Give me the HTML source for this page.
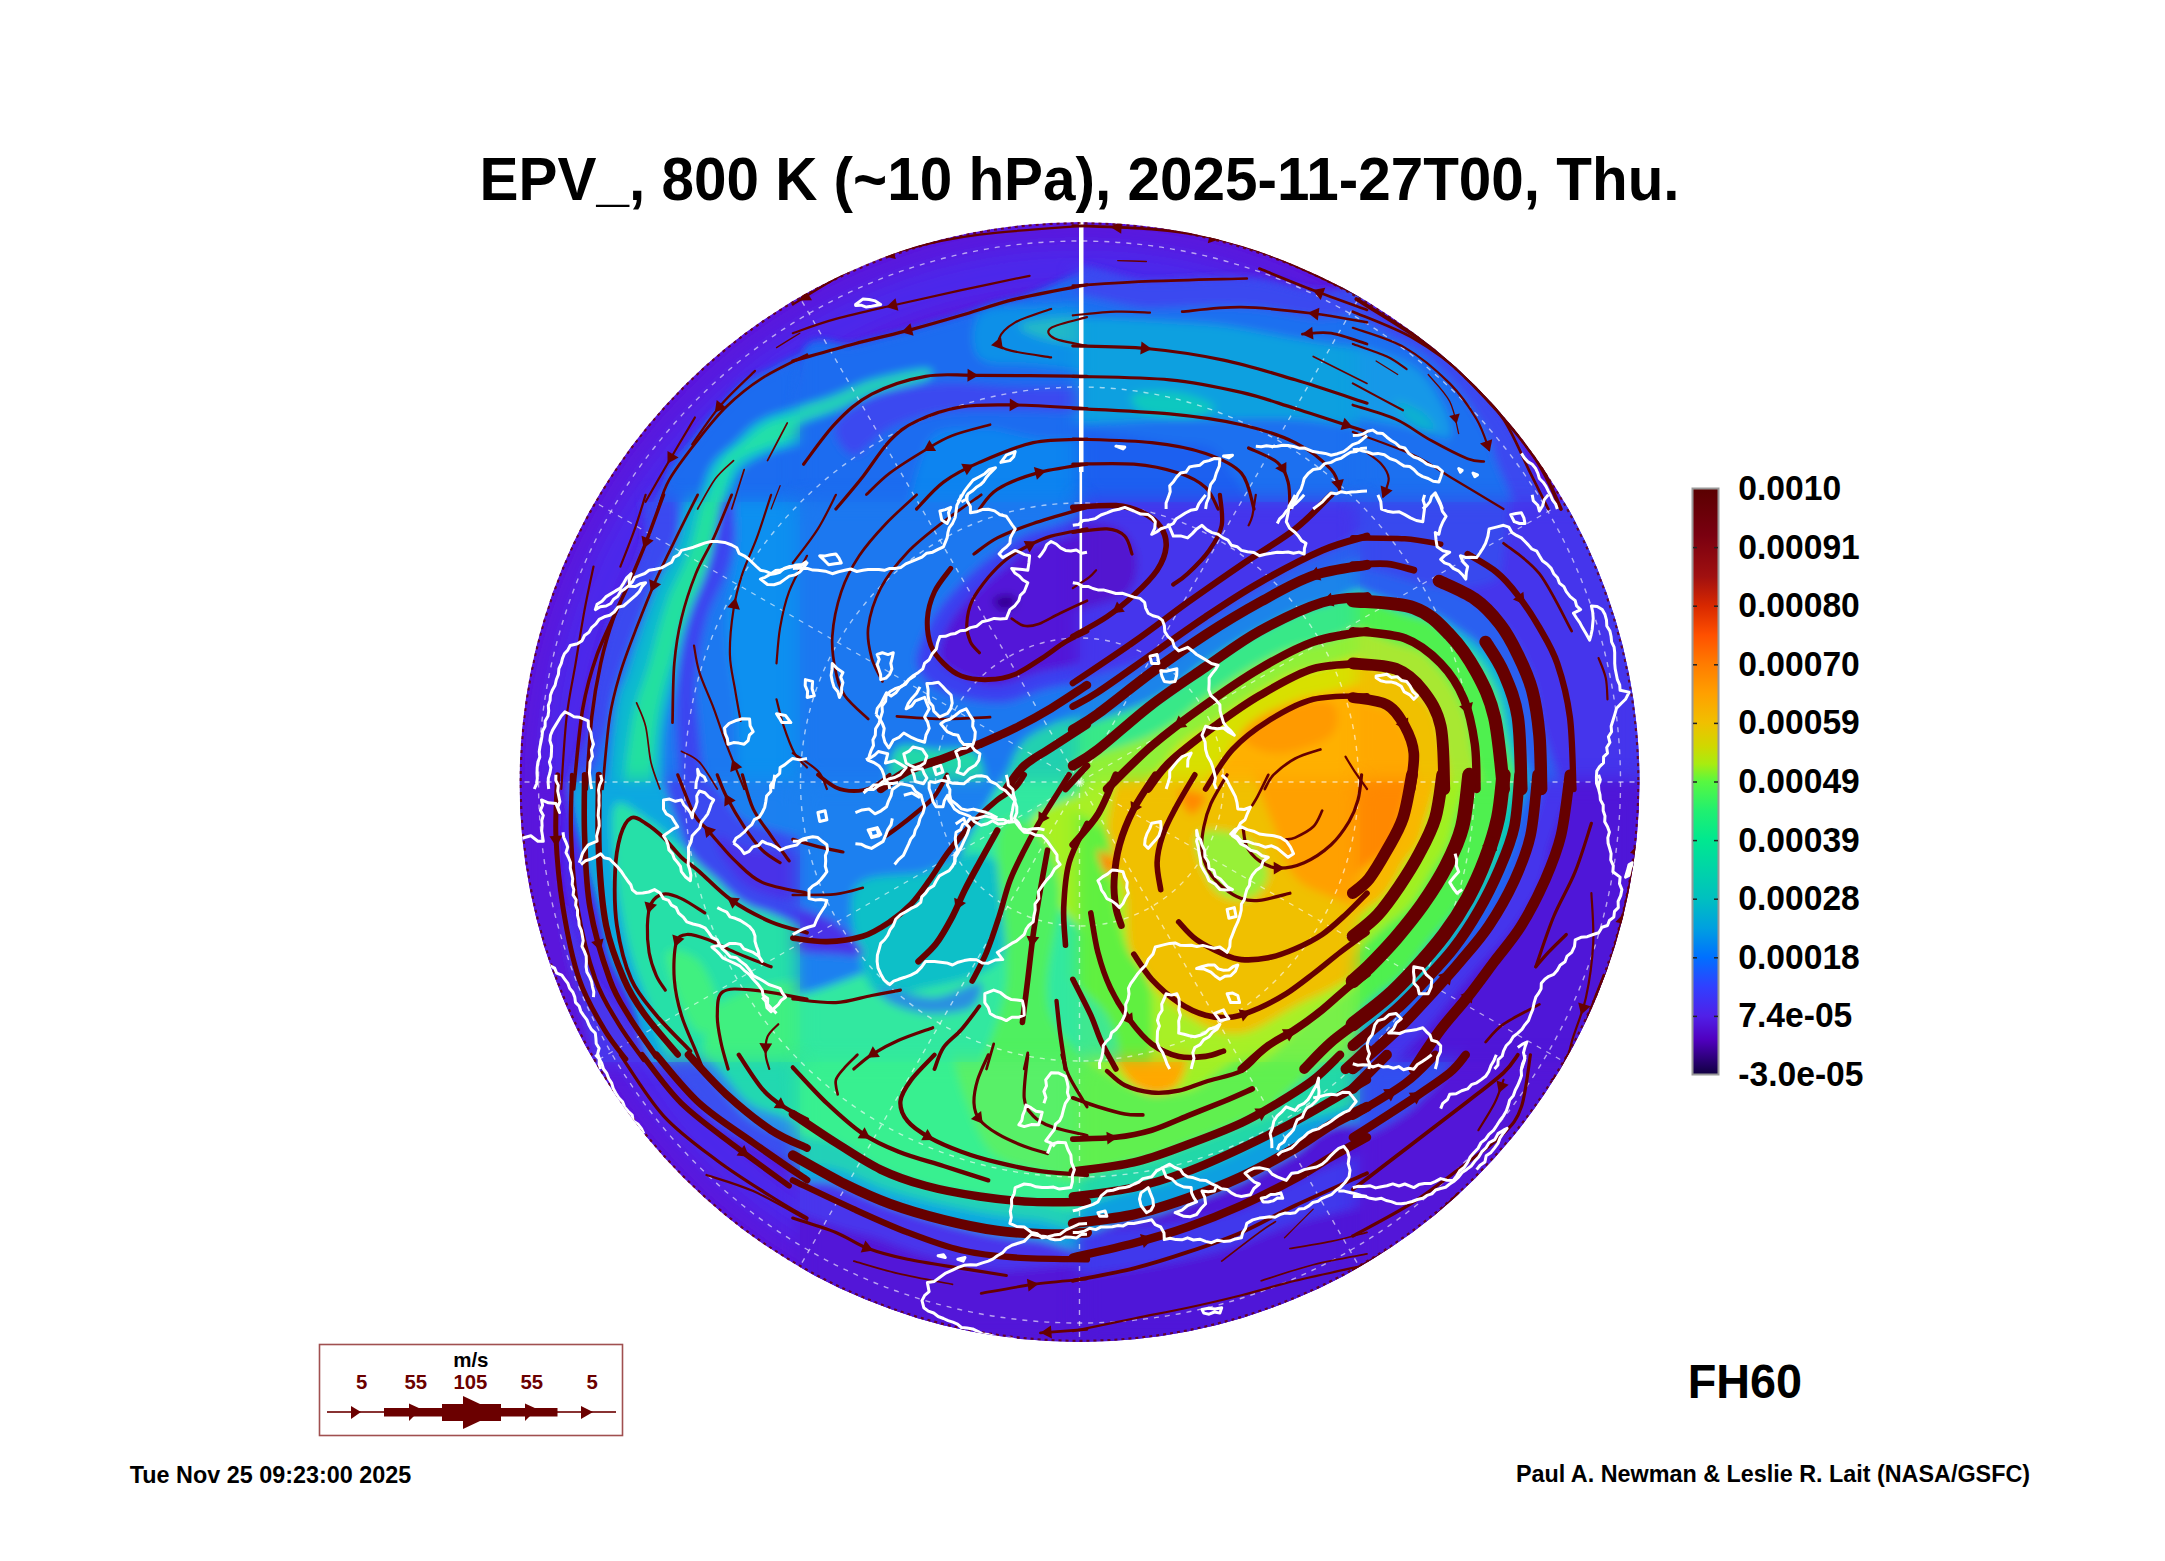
<!DOCTYPE html>
<html><head><meta charset="utf-8">
<style>
html,body{margin:0;padding:0;background:#fff;width:2165px;height:1561px;overflow:hidden;}
body{position:relative;font-family:"Liberation Sans",sans-serif;font-weight:bold;color:#000;}
.t{position:absolute;white-space:nowrap;line-height:1;}
#title{left:482px;top:147px;font-size:57px;}
.cb{position:absolute;left:1739px;font-size:32px;}
#fh{left:1687px;top:1356px;font-size:46px;}
#f1{left:129px;top:1462px;font-size:23.6px;}
#f2{left:1516px;top:1462px;font-size:23.6px;}
svg{position:absolute;left:0;top:0;}
</style></head><body>
<svg width="2165" height="1561" viewBox="0 0 2165 1561">
<defs>
<clipPath id="cc"><circle cx="1079.5" cy="782" r="560"/></clipPath>
<linearGradient id="cbg" x1="0" y1="0" x2="0" y2="1">
<stop offset="0" stop-color="#5a0000"/>
<stop offset="0.08" stop-color="#7a0010"/>
<stop offset="0.15" stop-color="#a01010"/>
<stop offset="0.2" stop-color="#d82800"/>
<stop offset="0.25" stop-color="#ff5000"/>
<stop offset="0.3" stop-color="#ff7c00"/>
<stop offset="0.35" stop-color="#ffa000"/>
<stop offset="0.4" stop-color="#f0c000"/>
<stop offset="0.44" stop-color="#d0d800"/>
<stop offset="0.47" stop-color="#a8ec10"/>
<stop offset="0.5" stop-color="#58f840"/>
<stop offset="0.55" stop-color="#20f070"/>
<stop offset="0.6" stop-color="#00e890"/>
<stop offset="0.7" stop-color="#00c0c0"/>
<stop offset="0.75" stop-color="#00a0e0"/>
<stop offset="0.8" stop-color="#0070ff"/>
<stop offset="0.85" stop-color="#3040ff"/>
<stop offset="0.9" stop-color="#5020e8"/>
<stop offset="0.94" stop-color="#5000c0"/>
<stop offset="0.97" stop-color="#300080"/>
<stop offset="1" stop-color="#100040"/>
</linearGradient>
<filter id="b8" x="-20%" y="-20%" width="140%" height="140%"><feGaussianBlur stdDeviation="8"/></filter>
<filter id="b15" x="-30%" y="-30%" width="160%" height="160%"><feGaussianBlur stdDeviation="15"/></filter>
<filter id="b4"><feGaussianBlur stdDeviation="4"/></filter>
</defs>
<g id="map" clip-path="url(#cc)">
<defs><clipPath id="cT00"><rect x="520" y="222" width="280" height="280"/></clipPath><mask id="mT00" maskUnits="userSpaceOnUse" x="460" y="162" width="400" height="400"><rect x="520" y="222" width="280" height="280" fill="#fff" filter="url(#b10)"/></mask><clipPath id="cT10"><rect x="800" y="222" width="280" height="280"/></clipPath><mask id="mT10" maskUnits="userSpaceOnUse" x="740" y="162" width="400" height="400"><rect x="800" y="222" width="280" height="280" fill="#fff" filter="url(#b10)"/></mask><clipPath id="cT20"><rect x="1080" y="222" width="280" height="280"/></clipPath><mask id="mT20" maskUnits="userSpaceOnUse" x="1020" y="162" width="400" height="400"><rect x="1080" y="222" width="280" height="280" fill="#fff" filter="url(#b10)"/></mask><clipPath id="cT30"><rect x="1360" y="222" width="280" height="280"/></clipPath><mask id="mT30" maskUnits="userSpaceOnUse" x="1300" y="162" width="400" height="400"><rect x="1360" y="222" width="280" height="280" fill="#fff" filter="url(#b10)"/></mask><clipPath id="cT01"><rect x="520" y="502" width="280" height="280"/></clipPath><mask id="mT01" maskUnits="userSpaceOnUse" x="460" y="442" width="400" height="400"><rect x="520" y="502" width="280" height="280" fill="#fff" filter="url(#b10)"/></mask><clipPath id="cT11"><rect x="800" y="502" width="280" height="280"/></clipPath><mask id="mT11" maskUnits="userSpaceOnUse" x="740" y="442" width="400" height="400"><rect x="800" y="502" width="280" height="280" fill="#fff" filter="url(#b10)"/></mask><clipPath id="cT21"><rect x="1080" y="502" width="280" height="280"/></clipPath><mask id="mT21" maskUnits="userSpaceOnUse" x="1020" y="442" width="400" height="400"><rect x="1080" y="502" width="280" height="280" fill="#fff" filter="url(#b10)"/></mask><clipPath id="cT31"><rect x="1360" y="502" width="280" height="280"/></clipPath><mask id="mT31" maskUnits="userSpaceOnUse" x="1300" y="442" width="400" height="400"><rect x="1360" y="502" width="280" height="280" fill="#fff" filter="url(#b10)"/></mask><clipPath id="cT02"><rect x="520" y="782" width="280" height="280"/></clipPath><mask id="mT02" maskUnits="userSpaceOnUse" x="460" y="722" width="400" height="400"><rect x="520" y="782" width="280" height="280" fill="#fff" filter="url(#b10)"/></mask><clipPath id="cT12"><rect x="800" y="782" width="280" height="280"/></clipPath><mask id="mT12" maskUnits="userSpaceOnUse" x="740" y="722" width="400" height="400"><rect x="800" y="782" width="280" height="280" fill="#fff" filter="url(#b10)"/></mask><clipPath id="cT22"><rect x="1080" y="782" width="280" height="280"/></clipPath><mask id="mT22" maskUnits="userSpaceOnUse" x="1020" y="722" width="400" height="400"><rect x="1080" y="782" width="280" height="280" fill="#fff" filter="url(#b10)"/></mask><clipPath id="cT32"><rect x="1360" y="782" width="280" height="280"/></clipPath><mask id="mT32" maskUnits="userSpaceOnUse" x="1300" y="722" width="400" height="400"><rect x="1360" y="782" width="280" height="280" fill="#fff" filter="url(#b10)"/></mask><clipPath id="cT03"><rect x="520" y="1062" width="280" height="280"/></clipPath><mask id="mT03" maskUnits="userSpaceOnUse" x="460" y="1002" width="400" height="400"><rect x="520" y="1062" width="280" height="280" fill="#fff" filter="url(#b10)"/></mask><clipPath id="cT13"><rect x="800" y="1062" width="280" height="280"/></clipPath><mask id="mT13" maskUnits="userSpaceOnUse" x="740" y="1002" width="400" height="400"><rect x="800" y="1062" width="280" height="280" fill="#fff" filter="url(#b10)"/></mask><clipPath id="cT23"><rect x="1080" y="1062" width="280" height="280"/></clipPath><mask id="mT23" maskUnits="userSpaceOnUse" x="1020" y="1002" width="400" height="400"><rect x="1080" y="1062" width="280" height="280" fill="#fff" filter="url(#b10)"/></mask><clipPath id="cT33"><rect x="1360" y="1062" width="280" height="280"/></clipPath><mask id="mT33" maskUnits="userSpaceOnUse" x="1300" y="1002" width="400" height="400"><rect x="1360" y="1062" width="280" height="280" fill="#fff" filter="url(#b10)"/></mask><filter id="b10" x="-20%" y="-20%" width="140%" height="140%"><feGaussianBlur stdDeviation="10"/></filter></defs>
<circle cx="1079.5" cy="782" r="560" fill="#5a16dc"/>
<circle cx="1079.5" cy="782" r="515" fill="none" stroke="#4a2cee" stroke-width="40" filter="url(#b15)"/>
<g id="gT00" clip-path="url(#cT00)"><g filter="url(#b4)"><path d="M860.8,354.7 C844.1,323.6 783.1,367.9 760.4,376.3 C737.6,384.6 735.5,394.2 724.5,405.0 C713.4,415.7 703.6,428.3 694.0,440.8 C684.4,453.4 673.4,460.0 667.1,480.3 C660.8,500.6 624.0,549.1 656.3,562.8 C688.6,576.6 826.7,597.5 860.8,562.8 C894.9,528.1 877.5,385.8 860.8,354.7Z" fill="#1a6cf0"/>
<path d="M860.8,397.8 C875.8,399.9 877.2,418.7 860.8,428.3 C844.4,437.8 783.7,445.3 762.2,455.2 C740.6,465.0 738.5,469.5 731.7,487.5 C724.8,505.4 727.5,550.3 720.9,562.8 C714.3,575.4 694.6,577.2 692.2,562.8 C689.8,548.5 699.4,496.7 706.5,476.7 C713.7,456.7 724.5,452.8 735.2,442.6 C746.0,432.5 750.2,423.2 771.1,415.7 C792.0,408.2 845.9,395.7 860.8,397.8Z" fill="#10c0d0"/>
<path d="M860.8,408.5 C874.3,408.5 878.7,412.1 860.8,419.3 C842.9,426.5 775.6,441.1 753.2,451.6 C730.8,462.1 732.6,463.6 726.3,482.1 C720.0,500.6 719.7,549.4 715.5,562.8 C711.3,576.3 700.9,577.8 701.2,562.8 C701.5,547.9 710.1,493.2 717.3,473.1 C724.5,453.1 733.8,451.6 744.2,442.6 C754.7,433.7 760.7,425.0 780.1,419.3 C799.5,413.6 847.4,408.5 860.8,408.5Z" fill="#20e0a8"/></g></g>
<g id="gT10" clip-path="url(#cT10)"><g filter="url(#b4)"><path d="M800.0,361.9 C809.0,325.7 835.3,350.8 853.8,345.8 C872.3,340.7 893.3,336.2 911.2,331.4 C929.1,326.6 944.1,322.1 961.4,317.1 C978.8,312.0 985.4,306.0 1015.2,300.9 C1045.1,295.8 1119.9,242.9 1140.8,286.6 C1161.7,330.2 1197.6,516.8 1140.8,562.8 C1084.0,608.8 856.8,596.3 800.0,562.8 C743.2,529.3 791.0,398.1 800.0,361.9Z" fill="#1a6cf0"/>
<path d="M979.4,315.3 C988.3,306.6 1006.3,307.5 1033.2,306.3 C1060.1,305.1 1122.9,297.6 1140.8,308.1 C1158.7,318.6 1158.7,359.5 1140.8,369.1 C1122.9,378.7 1060.1,367.3 1033.2,365.5 C1006.3,363.7 988.3,366.7 979.4,358.3 C970.4,350.0 970.4,323.9 979.4,315.3Z" fill="#1090e8"/>
<path d="M1024.2,322.4 C1039.2,318.3 1121.4,311.1 1140.8,315.3 C1160.2,319.5 1155.8,343.4 1140.8,347.6 C1125.9,351.7 1070.6,344.6 1051.1,340.4 C1031.7,336.2 1009.3,326.6 1024.2,322.4Z" fill="#20b8c8"/>
<path d="M746.2,422.9 C759.6,416.3 806.0,405.0 826.9,397.8 C847.8,390.6 855.3,384.6 871.7,379.8 C888.2,375.1 916.6,369.1 925.6,369.1 C934.5,369.1 934.5,375.7 925.6,379.8 C916.6,384.0 888.2,388.5 871.7,394.2 C855.3,399.9 847.8,406.8 826.9,413.9 C806.0,421.1 759.6,435.8 746.2,437.2 C732.7,438.7 732.7,429.5 746.2,422.9Z" fill="#20d0b8"/>
<path d="M835.9,424.7 C840.4,414.5 862.8,401.1 880.7,394.2 C898.7,387.3 921.1,384.6 943.5,383.4 C965.9,382.2 982.4,385.8 1015.2,387.0 C1048.1,388.2 1119.9,386.4 1140.8,390.6 C1161.7,394.8 1161.7,408.8 1140.8,412.1 C1119.9,415.4 1048.1,410.3 1015.2,410.3 C982.4,410.3 964.4,409.1 943.5,412.1 C922.6,415.1 904.6,421.1 889.7,428.3 C874.7,435.5 862.8,455.8 853.8,455.2 C844.8,454.6 831.4,434.9 835.9,424.7Z" fill="#3a48f0"/>
<path d="M925.6,446.2 C934.5,423.8 961.4,429.8 979.4,428.3 C997.3,426.8 1006.3,432.8 1033.2,437.2 C1060.1,441.7 1122.9,434.3 1140.8,455.2 C1158.7,476.1 1176.7,544.9 1140.8,562.8 C1104.9,580.7 961.4,582.2 925.6,562.8 C889.7,543.4 916.6,468.6 925.6,446.2Z" fill="#0a84f0"/></g></g>
<g id="gT20" clip-path="url(#cT20)"><g filter="url(#b4)"><path d="M1026.2,286.6 C1047.1,239.8 1115.0,283.3 1151.7,282.1 C1188.5,280.9 1219.9,277.8 1246.8,279.4 C1273.7,281.0 1284.2,286.9 1313.2,292.0 C1342.2,297.0 1402.9,264.8 1420.8,309.9 C1438.7,355.0 1486.6,520.7 1420.8,562.8 C1355.0,605.0 1092.0,608.8 1026.2,562.8 C960.4,516.8 1005.3,333.4 1026.2,286.6Z" fill="#3a48f0"/>
<path d="M1026.2,315.3 C1047.1,272.8 1115.9,309.6 1151.7,308.1 C1187.6,306.6 1214.5,304.8 1241.4,306.3 C1268.3,307.8 1283.3,312.6 1313.2,317.1 C1343.1,321.6 1402.9,292.3 1420.8,333.2 C1438.7,374.2 1486.6,524.5 1420.8,562.8 C1355.0,601.1 1092.0,604.1 1026.2,562.8 C960.4,521.6 1005.3,357.7 1026.2,315.3Z" fill="#1a70f0"/>
<path d="M1026.2,326.0 C1053.1,310.5 1142.8,320.4 1187.6,322.4 C1232.5,324.5 1256.4,331.4 1295.2,338.6 C1334.1,345.8 1399.9,350.6 1420.8,365.5 C1441.7,380.4 1441.7,419.3 1420.8,428.3 C1399.9,437.2 1334.1,420.8 1295.2,419.3 C1256.4,417.8 1232.5,419.9 1187.6,419.3 C1142.8,418.7 1053.1,431.3 1026.2,415.7 C999.3,400.2 999.3,341.6 1026.2,326.0Z" fill="#10a0e0"/>
<path d="M1133.8,394.2 C1139.8,390.9 1165.2,390.3 1178.7,392.4 C1192.1,394.5 1213.0,402.6 1214.5,406.8 C1216.0,410.9 1199.6,416.6 1187.6,417.5 C1175.7,418.4 1151.7,416.0 1142.8,412.1 C1133.8,408.2 1127.8,397.5 1133.8,394.2Z" fill="#10c8c0"/>
<path d="M1026.2,437.2 C1050.1,417.2 1136.8,438.7 1169.7,442.6 C1202.6,446.5 1210.0,440.5 1223.5,460.6 C1237.0,480.6 1283.3,545.8 1250.4,562.8 C1217.5,579.8 1063.6,583.7 1026.2,562.8 C988.8,541.9 1002.3,457.3 1026.2,437.2Z" fill="#1a60f0"/></g></g>
<g id="gT30" clip-path="url(#cT30)"><g filter="url(#b4)"><path d="M1306.2,308.1 C1324.1,270.4 1386.9,325.4 1413.8,336.8 C1440.7,348.2 1452.7,362.5 1467.6,376.3 C1482.6,390.0 1493.0,403.2 1503.5,419.3 C1514.0,435.5 1522.9,449.2 1530.4,473.1 C1537.9,497.0 1585.7,547.9 1548.3,562.8 C1511.0,577.8 1346.5,605.3 1306.2,562.8 C1265.8,520.4 1288.3,345.8 1306.2,308.1Z" fill="#3a48f0"/>
<path d="M1306.2,322.4 C1322.6,286.0 1380.9,334.4 1404.8,344.0 C1428.8,353.5 1437.7,367.9 1449.7,379.8 C1461.6,391.8 1469.1,403.2 1476.6,415.7 C1484.1,428.3 1488.6,430.7 1494.5,455.2 C1500.5,479.7 1543.9,544.9 1512.5,562.8 C1481.1,580.7 1340.6,602.9 1306.2,562.8 C1271.8,522.7 1289.7,358.9 1306.2,322.4Z" fill="#1a70f0"/>
<path d="M1306.2,340.4 C1322.6,333.8 1382.4,351.7 1404.8,361.9 C1427.3,372.1 1433.2,388.8 1440.7,401.4 C1448.2,413.9 1454.2,432.8 1449.7,437.2 C1445.2,441.7 1437.7,434.3 1413.8,428.3 C1389.9,422.3 1324.1,416.0 1306.2,401.4 C1288.3,386.7 1289.7,347.0 1306.2,340.4Z" fill="#1898e8"/>
<path d="M1395.9,401.4 C1397.4,399.0 1416.2,407.4 1422.8,412.1 C1429.4,416.9 1436.8,427.7 1435.3,430.1 C1433.8,432.5 1420.4,431.3 1413.8,426.5 C1407.2,421.7 1394.4,403.8 1395.9,401.4Z" fill="#10b0d0"/></g></g>
<g id="gT01" clip-path="url(#cT01)"><g filter="url(#b4)"><path d="M663.5,448.2 C627.6,464.0 651.5,520.2 645.6,543.3 C639.6,566.3 633.0,573.7 627.6,586.3 C622.2,598.9 617.8,605.7 613.3,618.6 C608.8,631.4 604.3,647.0 600.7,663.4 C597.1,679.9 594.1,687.4 591.7,717.2 C589.4,747.1 541.5,821.9 586.4,842.8 C631.2,863.7 815.1,908.6 860.8,842.8 C906.5,777.0 893.7,514.0 860.8,448.2 C827.9,382.4 699.4,432.3 663.5,448.2Z" fill="#3a48f0"/>
<path d="M697.6,448.2 C666.8,463.1 682.9,516.1 676.1,537.9 C669.2,559.7 662.9,564.2 656.3,579.1 C649.7,594.1 642.6,612.0 636.6,627.6 C630.6,643.1 624.9,657.5 620.4,672.4 C616.0,687.4 612.7,688.8 609.7,717.2 C606.7,745.6 560.7,821.9 602.5,842.8 C644.4,863.7 817.8,908.6 860.8,842.8 C903.9,777.0 888.0,514.0 860.8,448.2 C833.6,382.4 728.4,433.2 697.6,448.2Z" fill="#1a78f0"/>
<path d="M699.4,448.2 C689.8,463.7 684.7,519.0 677.8,541.5 C671.0,563.9 664.1,568.4 658.1,582.7 C652.1,597.1 647.1,612.6 642.0,627.6 C636.9,642.5 632.1,657.5 627.6,672.4 C623.1,687.4 618.1,688.8 615.1,717.2 C612.1,745.6 602.8,821.9 609.7,842.8 C616.6,863.7 647.4,860.7 656.3,842.8 C665.3,824.9 660.5,762.1 663.5,735.2 C666.5,708.3 670.7,699.3 674.3,681.4 C677.8,663.4 679.9,645.5 685.0,627.6 C690.1,609.6 696.4,603.6 704.8,573.7 C713.1,543.9 736.1,469.1 735.2,448.2 C734.3,427.3 708.9,432.6 699.4,448.2Z" fill="#10b8d0"/>
<path d="M713.7,448.2 C707.4,464.6 698.2,521.4 690.4,546.8 C682.6,572.3 674.0,581.2 667.1,600.7 C660.2,620.1 655.1,642.5 649.1,663.4 C643.2,684.4 636.0,696.3 631.2,726.2 C626.4,756.1 618.1,823.4 620.4,842.8 C622.8,862.2 639.6,862.2 645.6,842.8 C651.5,823.4 652.1,756.1 656.3,726.2 C660.5,696.3 665.3,682.9 670.7,663.4 C676.1,644.0 682.0,627.6 688.6,609.6 C695.2,591.7 703.6,582.7 710.1,555.8 C716.7,528.9 727.5,466.1 728.1,448.2 C728.7,430.3 720.0,431.7 713.7,448.2Z" fill="#20e0a0"/>
<path d="M731.7,448.2 C725.7,466.1 717.3,527.4 710.1,555.8 C703.0,584.2 694.0,597.7 688.6,618.6 C683.2,639.5 679.6,659.0 677.8,681.4 C676.1,703.8 675.8,726.2 677.8,753.1 C679.9,780.0 685.3,827.9 690.4,842.8 C695.5,857.8 706.8,860.7 708.3,842.8 C709.8,824.9 701.5,762.1 699.4,735.2 C697.3,708.3 694.6,700.8 695.8,681.4 C697.0,661.9 700.6,639.5 706.5,618.6 C712.5,597.7 725.1,584.2 731.7,555.8 C738.2,527.4 746.0,466.1 746.0,448.2 C746.0,430.3 737.6,430.3 731.7,448.2Z" fill="#3a44f0"/>
<path d="M746.0,448.2 C725.1,466.1 738.5,525.9 735.2,555.8 C732.0,585.7 726.3,603.6 726.3,627.6 C726.3,651.5 730.8,663.4 735.2,699.3 C739.7,735.2 732.3,818.9 753.2,842.8 C774.1,866.7 842.9,908.6 860.8,842.8 C878.7,777.0 879.9,514.0 860.8,448.2 C841.7,382.4 766.9,430.3 746.0,448.2Z" fill="#0a90f0"/></g></g>
<g id="gT11" clip-path="url(#cT11)"><g filter="url(#b4)"><path d="M746.2,448.2 C812.0,382.4 1075.0,382.4 1140.8,448.2 C1206.6,514.0 1206.6,777.0 1140.8,842.8 C1075.0,908.6 812.0,908.6 746.2,842.8 C680.4,777.0 680.4,514.0 746.2,448.2Z" fill="#1a78f0"/>
<path d="M916.6,663.4 C918.4,675.7 930.0,685.6 943.5,692.1 C957.0,698.7 980.9,703.2 997.3,702.9 C1013.8,702.6 1018.2,698.4 1042.2,690.3 C1066.1,682.3 1124.4,682.9 1140.8,654.5 C1157.2,626.1 1157.2,540.9 1140.8,519.9 C1124.4,499.0 1066.1,523.5 1042.2,528.9 C1018.2,534.3 1010.8,543.3 997.3,552.2 C983.9,561.2 972.2,571.7 961.4,582.7 C950.7,593.8 940.2,605.1 932.7,618.6 C925.3,632.0 914.8,651.2 916.6,663.4Z" fill="#3a40f0"/>
<path d="M939.9,659.8 C942.9,668.2 955.5,673.6 965.0,677.8 C974.6,682.0 985.9,685.6 997.3,685.0 C1008.7,684.4 1009.3,682.0 1033.2,674.2 C1057.1,666.4 1122.9,661.6 1140.8,638.3 C1158.7,615.0 1157.2,550.1 1140.8,534.3 C1124.4,518.4 1064.6,537.9 1042.2,543.3 C1019.7,548.6 1017.9,557.9 1006.3,566.6 C994.6,575.2 982.1,585.1 972.2,595.3 C962.3,605.4 952.5,616.8 947.1,627.6 C941.7,638.3 936.9,651.5 939.9,659.8Z" fill="#5214d8"/>
<path d="M993.7,598.9 C995.5,596.5 1008.1,594.1 1011.7,595.3 C1015.2,596.5 1017.0,603.6 1015.2,606.0 C1013.5,608.4 1004.5,610.8 1000.9,609.6 C997.3,608.4 991.9,601.3 993.7,598.9Z" fill="#300090"/>
<path d="M893.3,753.1 C900.1,737.6 920.2,748.6 934.5,749.5 C948.9,750.4 971.9,743.0 979.4,758.5 C986.8,774.0 993.7,828.8 979.4,842.8 C965.0,856.9 907.6,857.8 893.3,842.8 C878.9,827.9 886.4,768.7 893.3,753.1Z" fill="#20d8a8"/>
<path d="M1024.2,740.6 C1045.1,719.6 1121.4,700.2 1140.8,717.2 C1160.2,734.3 1161.7,821.9 1140.8,842.8 C1119.9,863.7 1034.7,859.8 1015.2,842.8 C995.8,825.8 1003.3,761.5 1024.2,740.6Z" fill="#20d0b0"/></g></g>
<g id="gT21" clip-path="url(#cT21)"><g filter="url(#b4)"><path d="M1026.2,448.2 C1092.0,382.4 1355.0,382.4 1420.8,448.2 C1486.6,514.0 1486.6,777.0 1420.8,842.8 C1355.0,908.6 1092.0,908.6 1026.2,842.8 C960.4,777.0 960.4,514.0 1026.2,448.2Z" fill="#4434ec"/>
<path d="M1026.2,528.9 C1039.6,514.9 1089.0,522.3 1106.9,525.3 C1124.8,528.3 1129.3,537.3 1133.8,546.8 C1138.3,556.4 1138.3,573.4 1133.8,582.7 C1129.3,592.0 1124.8,598.0 1106.9,602.4 C1089.0,606.9 1039.6,621.9 1026.2,609.6 C1012.7,597.4 1012.7,543.0 1026.2,528.9Z" fill="#5218d0"/>
<path d="M1241.4,448.2 C1271.3,434.7 1390.9,430.3 1420.8,448.2 C1450.7,466.1 1441.7,538.5 1420.8,555.8 C1399.9,573.2 1325.1,556.7 1295.2,552.2 C1265.4,547.7 1250.4,546.2 1241.4,528.9 C1232.5,511.6 1211.5,461.6 1241.4,448.2Z" fill="#4434ec"/>
<path d="M1026.2,708.3 C1047.1,677.5 1121.9,672.7 1151.7,658.1 C1181.6,643.4 1187.6,632.3 1205.6,620.4 C1223.5,608.4 1239.9,597.4 1259.4,586.3 C1278.8,575.2 1295.2,561.5 1322.2,554.0 C1349.1,546.5 1404.4,493.3 1420.8,541.5 C1437.2,589.6 1486.6,792.6 1420.8,842.8 C1355.0,893.0 1092.0,865.2 1026.2,842.8 C960.4,820.4 1005.3,739.1 1026.2,708.3Z" fill="#2a60f0"/>
<path d="M1026.2,726.2 C1047.1,697.8 1121.9,687.7 1151.7,672.4 C1181.6,657.2 1187.6,646.4 1205.6,634.7 C1223.5,623.1 1241.4,612.0 1259.4,602.4 C1277.3,592.9 1286.3,583.3 1313.2,577.3 C1340.1,571.4 1402.9,522.3 1420.8,566.6 C1438.7,610.8 1486.6,796.8 1420.8,842.8 C1355.0,888.8 1092.0,862.2 1026.2,842.8 C960.4,823.4 1005.3,754.6 1026.2,726.2Z" fill="#1a84ea"/>
<path d="M1026.2,753.1 C1047.1,729.5 1121.9,716.1 1151.7,701.1 C1181.6,686.2 1187.6,675.1 1205.6,663.4 C1223.5,651.8 1239.9,641.0 1259.4,631.1 C1278.8,621.3 1295.2,609.6 1322.2,604.2 C1349.1,598.9 1404.4,559.1 1420.8,598.9 C1437.2,638.6 1486.6,802.1 1420.8,842.8 C1355.0,883.5 1092.0,857.8 1026.2,842.8 C960.4,827.9 1005.3,776.7 1026.2,753.1Z" fill="#38e888"/>
<path d="M1026.2,781.8 C1047.1,763.9 1121.9,749.2 1151.7,735.2 C1181.6,721.1 1187.6,709.5 1205.6,697.5 C1223.5,685.6 1241.4,672.4 1259.4,663.4 C1277.3,654.5 1286.3,648.5 1313.2,643.7 C1340.1,638.9 1402.9,601.6 1420.8,634.7 C1438.7,667.9 1486.6,808.1 1420.8,842.8 C1355.0,877.5 1092.0,853.0 1026.2,842.8 C960.4,832.6 1005.3,799.8 1026.2,781.8Z" fill="#90f038"/>
<path d="M1133.8,842.8 C1092.0,828.5 1156.2,776.7 1169.7,756.7 C1183.1,736.7 1199.6,733.4 1214.5,722.6 C1229.5,711.9 1242.9,701.1 1259.4,692.1 C1275.8,683.2 1286.3,673.6 1313.2,668.8 C1340.1,664.0 1402.9,634.4 1420.8,663.4 C1438.7,692.4 1468.6,812.9 1420.8,842.8 C1373.0,872.7 1175.7,857.2 1133.8,842.8Z" fill="#d8e000"/>
<path d="M1196.6,842.8 C1165.2,826.7 1220.5,766.9 1232.5,745.9 C1244.4,725.0 1254.9,725.6 1268.3,717.2 C1281.8,708.9 1287.8,699.9 1313.2,695.7 C1338.6,691.5 1402.9,667.6 1420.8,692.1 C1438.7,716.6 1458.2,817.7 1420.8,842.8 C1383.4,867.9 1228.0,859.0 1196.6,842.8Z" fill="#ffb000"/>
<path d="M1241.4,735.2 C1241.4,727.7 1262.4,713.7 1277.3,708.3 C1292.3,702.9 1322.2,698.4 1331.1,702.9 C1340.1,707.4 1340.1,726.8 1331.1,735.2 C1322.2,743.6 1292.3,753.1 1277.3,753.1 C1262.4,753.1 1241.4,742.7 1241.4,735.2Z" fill="#ff9a00"/></g></g>
<g id="gT31" clip-path="url(#cT31)"><g filter="url(#b4)"><path d="M1306.2,448.2 C1372.0,382.4 1635.0,382.4 1700.8,448.2 C1766.6,514.0 1766.6,777.0 1700.8,842.8 C1635.0,908.6 1372.0,908.6 1306.2,842.8 C1240.4,777.0 1240.4,514.0 1306.2,448.2Z" fill="#4434ec"/>
<path d="M1306.2,448.2 C1336.1,424.9 1452.7,430.3 1485.6,448.2 C1518.4,466.1 1506.5,532.5 1503.5,555.8 C1500.5,579.1 1500.5,582.7 1467.6,588.1 C1434.7,593.5 1333.1,611.4 1306.2,588.1 C1279.3,564.8 1276.3,471.5 1306.2,448.2Z" fill="#3848ee"/>
<path d="M1306.2,586.3 C1327.1,543.6 1401.9,582.4 1431.7,586.3 C1461.6,590.2 1470.6,598.3 1485.6,609.6 C1500.5,621.0 1512.5,636.5 1521.4,654.5 C1530.4,672.4 1534.9,685.9 1539.4,717.2 C1543.9,748.6 1587.2,821.9 1548.3,842.8 C1509.5,863.7 1346.5,885.6 1306.2,842.8 C1265.8,800.1 1285.3,629.1 1306.2,586.3Z" fill="#2a60f0"/>
<path d="M1306.2,602.4 C1324.1,563.6 1388.4,604.8 1413.8,609.6 C1439.2,614.4 1445.2,622.2 1458.7,631.1 C1472.1,640.1 1485.6,649.1 1494.5,663.4 C1503.5,677.8 1508.6,687.4 1512.5,717.2 C1516.4,747.1 1552.2,821.9 1517.8,842.8 C1483.5,863.7 1341.5,882.9 1306.2,842.8 C1270.9,802.7 1288.3,641.3 1306.2,602.4Z" fill="#10c0d0"/>
<path d="M1306.2,609.6 C1324.1,571.7 1389.3,610.2 1413.8,615.0 C1438.3,619.8 1441.3,628.8 1453.3,638.3 C1465.2,647.9 1477.2,657.8 1485.6,672.4 C1493.9,687.1 1499.9,697.8 1503.5,726.2 C1507.1,754.6 1540.0,823.4 1507.1,842.8 C1474.2,862.2 1339.7,881.7 1306.2,842.8 C1272.7,803.9 1288.3,647.6 1306.2,609.6Z" fill="#50f050"/>
<path d="M1306.2,638.3 C1322.6,605.4 1383.0,640.7 1404.8,645.5 C1426.7,650.3 1427.9,657.5 1437.1,667.0 C1446.4,676.6 1454.8,690.0 1460.4,702.9 C1466.1,715.8 1468.8,720.8 1471.2,744.2 C1473.6,767.5 1502.3,826.4 1474.8,842.8 C1447.3,859.2 1334.3,876.9 1306.2,842.8 C1278.1,808.7 1289.7,671.2 1306.2,638.3Z" fill="#a8e830"/>
<path d="M1306.2,668.8 C1321.1,640.7 1376.7,669.7 1395.9,674.2 C1415.0,678.7 1413.8,686.5 1421.0,695.7 C1428.2,705.0 1435.3,705.3 1438.9,729.8 C1442.5,754.3 1464.6,824.0 1442.5,842.8 C1420.4,861.6 1328.9,871.8 1306.2,842.8 C1283.5,813.8 1291.2,696.9 1306.2,668.8Z" fill="#f0c000"/>
<path d="M1306.2,701.1 C1319.3,678.7 1369.0,703.8 1385.1,708.3 C1401.3,712.8 1398.6,720.5 1403.0,728.0 C1407.5,735.5 1410.8,734.0 1412.0,753.1 C1413.2,772.3 1427.9,827.9 1410.2,842.8 C1392.6,857.8 1323.5,866.4 1306.2,842.8 C1288.8,819.2 1293.0,723.5 1306.2,701.1Z" fill="#ffa800"/></g></g>
<g id="gT02" clip-path="url(#cT02)"><g filter="url(#b4)"><path d="M588.2,728.2 C630.9,695.3 815.4,662.4 860.8,728.2 C906.2,794.0 889.2,1057.0 860.8,1122.8 C832.4,1188.6 728.7,1143.7 690.4,1122.8 C652.1,1101.9 645.6,1030.1 631.2,997.2 C616.9,964.4 611.5,970.3 604.3,925.5 C597.1,880.7 545.4,761.1 588.2,728.2Z" fill="#10a8e0"/>
<path d="M613.3,808.9 C617.5,794.0 631.2,808.9 645.6,817.9 C659.9,826.8 681.4,847.8 699.4,862.7 C717.3,877.7 726.3,897.1 753.2,907.6 C780.1,918.0 842.9,889.6 860.8,925.5 C878.7,961.4 886.2,1089.9 860.8,1122.8 C835.4,1155.7 744.2,1143.7 708.3,1122.8 C672.5,1101.9 660.2,1033.1 645.6,997.2 C630.9,961.4 625.8,939.0 620.4,907.6 C615.1,876.2 609.1,823.9 613.3,808.9Z" fill="#28e0a8"/>
<path d="M672.5,728.2 C702.4,710.3 829.4,695.9 860.8,728.2 C892.2,760.5 877.2,891.4 860.8,921.9 C844.4,952.4 786.1,918.0 762.2,911.1 C738.2,904.3 730.8,893.2 717.3,880.7 C703.9,868.1 688.9,861.2 681.4,835.8 C674.0,810.4 642.6,746.1 672.5,728.2Z" fill="#3a48f0"/>
<path d="M717.3,835.8 C721.8,833.7 729.3,845.7 753.2,850.2 C777.1,854.6 842.9,853.2 860.8,862.7 C878.7,872.3 877.2,902.5 860.8,907.6 C844.4,912.6 784.6,900.7 762.2,893.2 C739.7,885.7 733.8,872.3 726.3,862.7 C718.8,853.2 712.8,837.9 717.3,835.8Z" fill="#4a30e8"/>
<path d="M699.4,728.2 C721.8,716.2 833.9,710.3 860.8,728.2 C887.7,746.1 877.2,819.4 860.8,835.8 C844.4,852.3 784.6,832.8 762.2,826.8 C739.7,820.9 736.7,816.4 726.3,799.9 C715.8,783.5 677.0,740.1 699.4,728.2Z" fill="#1a80f0"/>
<path d="M667.1,952.4 C670.7,946.4 691.0,952.4 699.4,961.4 C707.7,970.3 717.3,994.3 717.3,1006.2 C717.3,1018.2 705.9,1034.6 699.4,1033.1 C692.8,1031.6 683.2,1010.7 677.8,997.2 C672.5,983.8 663.5,958.4 667.1,952.4Z" fill="#40f080"/>
<path d="M717.3,1006.2 C739.7,983.8 836.9,968.8 860.8,988.3 C884.7,1007.7 883.2,1100.4 860.8,1122.8 C838.4,1145.2 750.2,1142.2 726.3,1122.8 C702.4,1103.4 694.9,1028.6 717.3,1006.2Z" fill="#40f080"/>
<path d="M466.2,728.2 C481.1,662.4 540.6,710.3 555.9,728.2 C571.1,746.1 556.5,805.9 557.7,835.8 C558.9,865.7 558.0,883.6 563.0,907.6 C568.1,931.5 578.6,958.4 588.2,979.3 C597.7,1000.2 610.0,1009.2 620.4,1033.1 C630.9,1057.0 676.7,1107.9 650.9,1122.8 C625.2,1137.8 497.0,1188.6 466.2,1122.8 C435.4,1057.0 451.2,794.0 466.2,728.2Z" fill="#5a16dc"/>
<path d="M563.0,907.6 C566.0,907.6 581.0,959.9 591.7,979.3 C602.5,998.7 612.7,1000.2 627.6,1024.2 C642.6,1048.1 682.6,1106.4 681.4,1122.8 C680.2,1139.2 638.4,1146.7 620.4,1122.8 C602.5,1098.9 583.4,1015.2 573.8,979.3 C564.2,943.4 560.1,907.6 563.0,907.6Z" fill="#4a34ec"/></g></g>
<g id="gT12" clip-path="url(#cT12)"><g filter="url(#b4)"><path d="M746.2,728.2 C812.0,662.4 1075.0,662.4 1140.8,728.2 C1206.6,794.0 1206.6,1057.0 1140.8,1122.8 C1075.0,1188.6 812.0,1188.6 746.2,1122.8 C680.4,1057.0 680.4,794.0 746.2,728.2Z" fill="#30e8a0"/>
<path d="M746.2,728.2 C788.0,686.3 961.4,707.3 997.3,728.2 C1033.2,749.1 973.4,820.9 961.4,853.7 C949.5,886.6 940.5,906.1 925.6,925.5 C910.6,944.9 901.6,961.4 871.7,970.3 C841.9,979.3 767.1,1019.7 746.2,979.3 C725.3,939.0 704.3,770.0 746.2,728.2Z" fill="#1a80f0"/>
<path d="M853.8,889.6 C862.8,870.2 904.6,877.7 925.6,871.7 C946.5,865.7 964.4,850.8 979.4,853.7 C994.3,856.7 1012.3,871.7 1015.2,889.6 C1018.2,907.6 1012.3,944.9 997.3,961.4 C982.4,977.8 946.5,983.8 925.6,988.3 C904.6,992.8 883.7,1004.7 871.7,988.3 C859.8,971.8 844.8,909.1 853.8,889.6Z" fill="#10c0c8"/>
<path d="M746.2,898.6 C759.6,894.4 807.5,909.4 826.9,918.3 C846.3,927.3 861.3,946.4 862.8,952.4 C864.3,958.4 855.3,955.7 835.9,954.2 C816.4,952.7 761.1,952.7 746.2,943.4 C731.2,934.2 732.7,902.8 746.2,898.6Z" fill="#4a30e8"/>
<path d="M880.7,988.3 C888.2,987.4 918.1,998.1 934.5,997.2 C951.0,996.3 973.4,981.1 979.4,982.9 C985.4,984.7 979.4,1002.9 970.4,1008.0 C961.4,1013.1 939.0,1014.3 925.6,1013.4 C912.1,1012.5 897.2,1006.8 889.7,1002.6 C882.2,998.4 873.2,989.2 880.7,988.3Z" fill="#2a90e0"/>
<path d="M1033.2,817.9 C1046.6,799.9 1122.9,779.0 1140.8,799.9 C1158.7,820.9 1154.3,925.5 1140.8,943.4 C1127.4,961.4 1078.0,928.5 1060.1,907.6 C1042.2,886.6 1019.7,835.8 1033.2,817.9Z" fill="#a8f020"/>
<path d="M997.3,835.8 C1001.8,810.4 1022.7,817.9 1033.2,826.8 C1043.6,835.8 1057.1,858.2 1060.1,889.6 C1063.1,921.0 1037.7,976.3 1051.1,1015.2 C1064.6,1054.0 1152.8,1104.9 1140.8,1122.8 C1128.8,1140.7 1001.8,1146.7 979.4,1122.8 C957.0,1098.9 1003.3,1027.1 1006.3,979.3 C1009.3,931.5 992.8,861.2 997.3,835.8Z" fill="#50f060"/></g></g>
<g id="gT22" clip-path="url(#cT22)"><g filter="url(#b4)"><path d="M1026.2,728.2 C1092.0,662.4 1355.0,662.4 1420.8,728.2 C1486.6,794.0 1486.6,1057.0 1420.8,1122.8 C1355.0,1188.6 1092.0,1188.6 1026.2,1122.8 C960.4,1057.0 960.4,794.0 1026.2,728.2Z" fill="#f0c000"/>
<path d="M1259.4,728.2 C1283.3,710.3 1393.9,699.8 1420.8,728.2 C1447.7,756.6 1438.7,871.7 1420.8,898.6 C1402.9,925.5 1337.1,900.1 1313.2,889.6 C1289.3,879.2 1286.3,862.7 1277.3,835.8 C1268.3,808.9 1235.5,746.1 1259.4,728.2Z" fill="#ffa000"/>
<path d="M1026.2,728.2 C1041.1,662.4 1102.4,710.3 1115.9,728.2 C1129.3,746.1 1105.4,808.9 1106.9,835.8 C1108.4,862.7 1120.4,868.7 1124.8,889.6 C1129.3,910.6 1123.3,940.4 1133.8,961.4 C1144.3,982.3 1169.7,1003.2 1187.6,1015.2 C1205.6,1027.1 1220.5,1036.1 1241.4,1033.1 C1262.4,1030.1 1283.3,1009.2 1313.2,997.2 C1343.1,985.3 1402.9,940.4 1420.8,961.4 C1438.7,982.3 1486.6,1095.9 1420.8,1122.8 C1355.0,1149.7 1092.0,1188.6 1026.2,1122.8 C960.4,1057.0 1011.2,794.0 1026.2,728.2Z" fill="#a8f028"/>
<path d="M1026.2,835.8 C1038.7,786.5 1087.2,817.9 1101.5,826.8 C1115.9,835.8 1108.4,870.2 1112.3,889.6 C1116.2,909.1 1118.3,925.5 1124.8,943.4 C1131.4,961.4 1150.3,967.4 1151.7,997.2 C1153.2,1027.1 1154.7,1101.9 1133.8,1122.8 C1112.9,1143.7 1044.1,1170.6 1026.2,1122.8 C1008.3,1075.0 1013.6,885.1 1026.2,835.8Z" fill="#60f040"/>
<path d="M1026.2,979.3 C1039.6,961.4 1092.0,991.3 1106.9,1015.2 C1121.9,1039.1 1129.3,1104.9 1115.9,1122.8 C1102.4,1140.7 1041.1,1146.7 1026.2,1122.8 C1011.2,1098.9 1012.7,997.2 1026.2,979.3Z" fill="#40e890"/>
<path d="M1196.6,835.8 C1201.1,826.8 1229.5,829.8 1241.4,835.8 C1253.4,841.8 1266.8,861.2 1268.3,871.7 C1269.8,882.1 1259.4,895.6 1250.4,898.6 C1241.4,901.6 1223.5,900.1 1214.5,889.6 C1205.6,879.2 1192.1,844.8 1196.6,835.8Z" fill="#98f038"/>
<path d="M1241.4,1122.8 C1223.5,1104.9 1283.3,1039.1 1313.2,1015.2 C1343.1,991.3 1402.9,961.4 1420.8,979.3 C1438.7,997.2 1450.7,1098.9 1420.8,1122.8 C1390.9,1146.7 1259.4,1140.7 1241.4,1122.8Z" fill="#78f048"/>
<path d="M1097.9,850.2 C1099.4,848.1 1114.4,858.5 1115.9,862.7 C1117.4,866.9 1109.9,877.4 1106.9,875.3 C1103.9,873.2 1096.4,852.3 1097.9,850.2Z" fill="#ff8800"/>
<path d="M1178.7,791.0 C1181.0,788.0 1203.5,792.5 1205.6,796.3 C1207.7,800.2 1195.7,815.2 1191.2,814.3 C1186.7,813.4 1176.3,794.0 1178.7,791.0Z" fill="#ff8a00"/></g></g>
<g id="gT32" clip-path="url(#cT32)"><g filter="url(#b4)"><path d="M1306.2,728.2 C1372.0,662.4 1635.0,662.4 1700.8,728.2 C1766.6,794.0 1766.6,1057.0 1700.8,1122.8 C1635.0,1188.6 1372.0,1188.6 1306.2,1122.8 C1240.4,1057.0 1240.4,794.0 1306.2,728.2Z" fill="#5018d8"/>
<path d="M1557.3,728.2 C1597.7,749.1 1554.3,822.4 1548.3,853.7 C1542.4,885.1 1534.9,895.6 1521.4,916.5 C1508.0,937.5 1487.1,956.9 1467.6,979.3 C1448.2,1001.7 1431.7,1027.1 1404.8,1051.1 C1377.9,1075.0 1322.6,1176.6 1306.2,1122.8 C1289.7,1069.0 1264.3,794.0 1306.2,728.2 C1348.0,662.4 1517.0,707.3 1557.3,728.2Z" fill="#4434ec"/>
<path d="M1532.2,728.2 C1568.1,749.1 1528.6,821.5 1521.4,853.7 C1514.3,886.0 1502.6,901.0 1489.1,921.9 C1475.7,942.8 1457.8,960.8 1440.7,979.3 C1423.7,997.8 1409.3,1021.2 1386.9,1033.1 C1364.5,1045.1 1319.6,1101.9 1306.2,1051.1 C1292.7,1000.2 1268.5,782.0 1306.2,728.2 C1343.9,674.4 1496.3,707.3 1532.2,728.2Z" fill="#2060f0"/>
<path d="M1517.8,728.2 C1552.2,744.9 1516.1,804.7 1512.5,828.6 C1508.9,852.6 1503.2,857.3 1496.3,871.7 C1489.4,886.0 1480.2,901.0 1471.2,914.7 C1462.2,928.5 1452.7,941.6 1442.5,954.2 C1432.3,966.8 1432.9,976.3 1410.2,990.1 C1387.5,1003.8 1323.5,1080.4 1306.2,1036.7 C1288.8,993.1 1270.9,779.6 1306.2,728.2 C1341.5,676.8 1483.5,711.4 1517.8,728.2Z" fill="#10c8b8"/>
<path d="M1503.5,728.2 C1535.2,744.6 1500.8,801.1 1496.3,826.8 C1491.8,852.6 1487.4,863.6 1476.6,882.4 C1465.8,901.3 1446.7,922.2 1431.7,939.8 C1416.8,957.5 1407.8,975.7 1386.9,988.3 C1366.0,1000.8 1319.6,1058.5 1306.2,1015.2 C1292.7,971.8 1273.3,776.0 1306.2,728.2 C1339.1,680.4 1471.8,711.7 1503.5,728.2Z" fill="#50f050"/>
<path d="M1460.4,728.2 C1485.0,744.6 1458.1,802.9 1453.3,826.8 C1448.5,850.8 1441.3,856.4 1431.7,871.7 C1422.2,886.9 1416.8,904.0 1395.9,918.3 C1374.9,932.7 1321.1,989.5 1306.2,957.8 C1291.2,926.1 1280.5,766.5 1306.2,728.2 C1331.9,689.9 1435.9,711.7 1460.4,728.2Z" fill="#a0f020"/>
<path d="M1435.3,728.2 C1455.1,744.6 1429.7,804.4 1424.6,826.8 C1419.5,849.3 1413.2,849.9 1404.8,862.7 C1396.5,875.6 1390.8,894.1 1374.3,904.0 C1357.9,913.8 1317.5,951.2 1306.2,921.9 C1294.8,892.6 1284.7,760.5 1306.2,728.2 C1327.7,695.9 1415.6,711.7 1435.3,728.2Z" fill="#f8b800"/>
<path d="M1410.2,728.2 C1425.8,743.7 1404.8,799.9 1399.5,821.5 C1394.1,843.0 1393.5,847.2 1377.9,857.3 C1362.4,867.5 1318.1,904.0 1306.2,882.4 C1294.2,860.9 1288.8,753.9 1306.2,728.2 C1323.5,702.5 1394.7,712.6 1410.2,728.2Z" fill="#ff8800"/></g></g>
<g id="gT03" clip-path="url(#cT03)"><g filter="url(#b4)"><path d="M656.3,1008.2 C629.4,1024.0 683.2,1080.8 699.4,1103.3 C715.5,1125.7 726.3,1131.1 753.2,1142.7 C780.1,1154.4 842.9,1195.6 860.8,1173.2 C878.7,1150.8 894.9,1035.7 860.8,1008.2 C826.7,980.7 683.2,992.3 656.3,1008.2Z" fill="#3a50f0"/>
<path d="M681.4,1008.2 C659.0,1022.5 711.3,1074.0 726.3,1094.3 C741.2,1114.6 748.7,1121.5 771.1,1130.2 C793.5,1138.8 845.9,1166.6 860.8,1146.3 C875.8,1126.0 890.7,1031.2 860.8,1008.2 C830.9,985.2 703.9,993.8 681.4,1008.2Z" fill="#2a90e8"/>
<path d="M699.4,1008.2 C678.4,1021.6 721.8,1071.0 735.2,1088.9 C748.7,1106.8 759.2,1108.9 780.1,1115.8 C801.0,1122.7 847.4,1148.1 860.8,1130.2 C874.3,1112.2 887.7,1028.5 860.8,1008.2 C833.9,987.9 720.3,994.7 699.4,1008.2Z" fill="#20d8b0"/></g></g>
<g id="gT13" clip-path="url(#cT13)"><g filter="url(#b4)"><path d="M746.2,1008.2 C812.0,942.4 1075.0,942.4 1140.8,1008.2 C1206.6,1074.0 1206.6,1337.0 1140.8,1402.8 C1075.0,1468.6 812.0,1468.6 746.2,1402.8 C680.4,1337.0 680.4,1074.0 746.2,1008.2Z" fill="#4a34ec"/>
<path d="M746.2,1008.2 C812.0,982.5 1075.0,969.3 1140.8,1008.2 C1206.6,1047.1 1158.7,1202.8 1140.8,1241.4 C1122.9,1279.9 1063.1,1242.0 1033.2,1239.6 C1003.3,1237.2 985.4,1232.7 961.4,1227.0 C937.5,1221.3 910.6,1212.7 889.7,1205.5 C868.8,1198.3 859.8,1191.1 835.9,1184.0 C812.0,1176.8 761.1,1191.7 746.2,1162.4 C731.2,1133.2 680.4,1033.9 746.2,1008.2Z" fill="#10a8e0"/>
<path d="M746.2,1008.2 C812.0,984.9 1075.0,972.3 1140.8,1008.2 C1206.6,1044.1 1158.7,1188.2 1140.8,1223.4 C1122.9,1258.7 1063.1,1222.2 1033.2,1219.8 C1003.3,1217.5 985.4,1213.9 961.4,1209.1 C937.5,1204.3 910.6,1197.7 889.7,1191.1 C868.8,1184.6 859.8,1176.8 835.9,1169.6 C812.0,1162.4 761.1,1175.0 746.2,1148.1 C731.2,1121.2 680.4,1031.5 746.2,1008.2Z" fill="#20d0b8"/>
<path d="M746.2,1008.2 C812.0,990.3 1075.0,975.9 1140.8,1008.2 C1206.6,1040.5 1158.7,1169.6 1140.8,1201.9 C1122.9,1234.2 1060.1,1202.8 1033.2,1201.9 C1006.3,1201.0 997.3,1199.2 979.4,1196.5 C961.4,1193.8 942.0,1190.3 925.6,1185.8 C909.1,1181.3 895.7,1176.8 880.7,1169.6 C865.8,1162.4 858.3,1151.7 835.9,1142.7 C813.5,1133.7 761.1,1138.2 746.2,1115.8 C731.2,1093.4 680.4,1026.1 746.2,1008.2Z" fill="#38f090"/>
<path d="M961.4,1008.2 C988.3,987.3 1110.9,979.8 1140.8,1008.2 C1170.7,1036.6 1158.7,1151.7 1140.8,1178.6 C1122.9,1205.5 1060.1,1177.1 1033.2,1169.6 C1006.3,1162.1 991.3,1160.7 979.4,1133.7 C967.4,1106.8 934.5,1029.1 961.4,1008.2Z" fill="#58f068"/>
<path d="M746.2,1219.8 C764.1,1191.4 823.9,1226.4 853.8,1232.4 C883.7,1238.4 901.6,1249.4 925.6,1255.7 C949.5,1262.0 961.4,1267.1 997.3,1270.1 C1033.2,1273.1 1116.9,1251.5 1140.8,1273.7 C1164.7,1295.8 1206.6,1381.3 1140.8,1402.8 C1075.0,1424.3 812.0,1433.3 746.2,1402.8 C680.4,1372.3 728.3,1248.2 746.2,1219.8Z" fill="#5218d8"/></g></g>
<g id="gT23" clip-path="url(#cT23)"><g filter="url(#b4)"><path d="M1026.2,1008.2 C1092.0,942.4 1355.0,942.4 1420.8,1008.2 C1486.6,1074.0 1486.6,1337.0 1420.8,1402.8 C1355.0,1468.6 1092.0,1468.6 1026.2,1402.8 C960.4,1337.0 960.4,1074.0 1026.2,1008.2Z" fill="#5018d8"/>
<path d="M1026.2,1008.2 C1092.0,971.7 1355.0,991.4 1420.8,1008.2 C1486.6,1024.9 1435.8,1088.9 1420.8,1108.6 C1405.9,1128.4 1352.0,1119.4 1331.1,1126.6 C1310.2,1133.7 1310.2,1142.7 1295.2,1151.7 C1280.3,1160.7 1259.4,1172.0 1241.4,1180.4 C1223.5,1188.8 1205.6,1195.6 1187.6,1201.9 C1169.7,1208.2 1160.7,1213.9 1133.8,1218.1 C1106.9,1222.2 1044.1,1262.0 1026.2,1227.0 C1008.3,1192.0 960.4,1044.7 1026.2,1008.2Z" fill="#10a0e0"/>
<path d="M1026.2,1008.2 C1092.0,976.5 1355.0,995.9 1420.8,1008.2 C1486.6,1020.4 1441.7,1062.6 1420.8,1081.7 C1399.9,1100.9 1325.1,1111.6 1295.2,1123.0 C1265.4,1134.3 1259.4,1141.5 1241.4,1149.9 C1223.5,1158.3 1205.6,1166.6 1187.6,1173.2 C1169.7,1179.8 1160.7,1185.2 1133.8,1189.4 C1106.9,1193.5 1044.1,1228.5 1026.2,1198.3 C1008.3,1168.1 960.4,1039.9 1026.2,1008.2Z" fill="#20d8a8"/>
<path d="M1026.2,1008.2 C1078.5,981.0 1298.2,992.3 1340.1,1008.2 C1381.9,1024.0 1293.8,1084.1 1277.3,1103.3 C1260.9,1122.4 1256.4,1116.1 1241.4,1123.0 C1226.5,1129.9 1205.6,1137.9 1187.6,1144.5 C1169.7,1151.1 1160.7,1158.0 1133.8,1162.4 C1106.9,1166.9 1044.1,1197.1 1026.2,1171.4 C1008.3,1145.7 973.9,1035.4 1026.2,1008.2Z" fill="#60f050"/>
<path d="M1026.2,1008.2 C1051.6,997.4 1229.5,995.9 1259.4,1008.2 C1289.3,1020.4 1223.5,1067.7 1205.6,1081.7 C1187.6,1095.8 1168.2,1094.0 1151.7,1092.5 C1135.3,1091.0 1127.8,1086.8 1106.9,1072.8 C1086.0,1058.7 1000.8,1019.0 1026.2,1008.2Z" fill="#a0f028"/>
<path d="M1097.9,1008.2 C1106.9,995.3 1174.2,995.6 1187.6,1008.2 C1201.1,1020.7 1187.6,1070.7 1178.7,1083.5 C1169.7,1096.4 1147.3,1097.9 1133.8,1085.3 C1120.4,1072.8 1089.0,1021.0 1097.9,1008.2Z" fill="#ffa800"/>
<path d="M1026.2,1241.4 C1050.1,1232.4 1133.8,1228.8 1169.7,1223.4 C1205.6,1218.1 1217.5,1217.5 1241.4,1209.1 C1265.4,1200.7 1283.3,1184.9 1313.2,1173.2 C1343.1,1161.6 1402.9,1136.7 1420.8,1139.1 C1438.7,1141.5 1441.7,1173.5 1420.8,1187.6 C1399.9,1201.6 1328.1,1213.0 1295.2,1223.4 C1262.4,1233.9 1250.4,1242.9 1223.5,1250.3 C1196.6,1257.8 1166.7,1263.8 1133.8,1268.3 C1100.9,1272.8 1044.1,1281.7 1026.2,1277.2 C1008.3,1272.8 1002.3,1250.3 1026.2,1241.4Z" fill="#4038ec"/></g></g>
<g id="gT33" clip-path="url(#cT33)"><g filter="url(#b4)"><path d="M1306.2,1008.2 C1372.0,942.4 1635.0,942.4 1700.8,1008.2 C1766.6,1074.0 1766.6,1337.0 1700.8,1402.8 C1635.0,1468.6 1372.0,1468.6 1306.2,1402.8 C1240.4,1337.0 1240.4,1074.0 1306.2,1008.2Z" fill="#5218d8"/>
<path d="M1306.2,1008.2 C1333.1,985.8 1449.7,991.7 1467.6,1008.2 C1485.6,1024.6 1440.7,1084.4 1413.8,1106.8 C1386.9,1129.3 1324.1,1159.2 1306.2,1142.7 C1288.3,1126.3 1279.3,1030.6 1306.2,1008.2Z" fill="#3050f0"/></g></g>
<g mask="url(#mT00)"><g filter="url(#b4)"><path d="M860.8,354.7 C844.1,323.6 783.1,367.9 760.4,376.3 C737.6,384.6 735.5,394.2 724.5,405.0 C713.4,415.7 703.6,428.3 694.0,440.8 C684.4,453.4 673.4,460.0 667.1,480.3 C660.8,500.6 624.0,549.1 656.3,562.8 C688.6,576.6 826.7,597.5 860.8,562.8 C894.9,528.1 877.5,385.8 860.8,354.7Z" fill="#1a6cf0"/>
<path d="M860.8,397.8 C875.8,399.9 877.2,418.7 860.8,428.3 C844.4,437.8 783.7,445.3 762.2,455.2 C740.6,465.0 738.5,469.5 731.7,487.5 C724.8,505.4 727.5,550.3 720.9,562.8 C714.3,575.4 694.6,577.2 692.2,562.8 C689.8,548.5 699.4,496.7 706.5,476.7 C713.7,456.7 724.5,452.8 735.2,442.6 C746.0,432.5 750.2,423.2 771.1,415.7 C792.0,408.2 845.9,395.7 860.8,397.8Z" fill="#10c0d0"/>
<path d="M860.8,408.5 C874.3,408.5 878.7,412.1 860.8,419.3 C842.9,426.5 775.6,441.1 753.2,451.6 C730.8,462.1 732.6,463.6 726.3,482.1 C720.0,500.6 719.7,549.4 715.5,562.8 C711.3,576.3 700.9,577.8 701.2,562.8 C701.5,547.9 710.1,493.2 717.3,473.1 C724.5,453.1 733.8,451.6 744.2,442.6 C754.7,433.7 760.7,425.0 780.1,419.3 C799.5,413.6 847.4,408.5 860.8,408.5Z" fill="#20e0a8"/></g></g>
<g mask="url(#mT10)"><g filter="url(#b4)"><path d="M800.0,361.9 C809.0,325.7 835.3,350.8 853.8,345.8 C872.3,340.7 893.3,336.2 911.2,331.4 C929.1,326.6 944.1,322.1 961.4,317.1 C978.8,312.0 985.4,306.0 1015.2,300.9 C1045.1,295.8 1119.9,242.9 1140.8,286.6 C1161.7,330.2 1197.6,516.8 1140.8,562.8 C1084.0,608.8 856.8,596.3 800.0,562.8 C743.2,529.3 791.0,398.1 800.0,361.9Z" fill="#1a6cf0"/>
<path d="M979.4,315.3 C988.3,306.6 1006.3,307.5 1033.2,306.3 C1060.1,305.1 1122.9,297.6 1140.8,308.1 C1158.7,318.6 1158.7,359.5 1140.8,369.1 C1122.9,378.7 1060.1,367.3 1033.2,365.5 C1006.3,363.7 988.3,366.7 979.4,358.3 C970.4,350.0 970.4,323.9 979.4,315.3Z" fill="#1090e8"/>
<path d="M1024.2,322.4 C1039.2,318.3 1121.4,311.1 1140.8,315.3 C1160.2,319.5 1155.8,343.4 1140.8,347.6 C1125.9,351.7 1070.6,344.6 1051.1,340.4 C1031.7,336.2 1009.3,326.6 1024.2,322.4Z" fill="#20b8c8"/>
<path d="M746.2,422.9 C759.6,416.3 806.0,405.0 826.9,397.8 C847.8,390.6 855.3,384.6 871.7,379.8 C888.2,375.1 916.6,369.1 925.6,369.1 C934.5,369.1 934.5,375.7 925.6,379.8 C916.6,384.0 888.2,388.5 871.7,394.2 C855.3,399.9 847.8,406.8 826.9,413.9 C806.0,421.1 759.6,435.8 746.2,437.2 C732.7,438.7 732.7,429.5 746.2,422.9Z" fill="#20d0b8"/>
<path d="M835.9,424.7 C840.4,414.5 862.8,401.1 880.7,394.2 C898.7,387.3 921.1,384.6 943.5,383.4 C965.9,382.2 982.4,385.8 1015.2,387.0 C1048.1,388.2 1119.9,386.4 1140.8,390.6 C1161.7,394.8 1161.7,408.8 1140.8,412.1 C1119.9,415.4 1048.1,410.3 1015.2,410.3 C982.4,410.3 964.4,409.1 943.5,412.1 C922.6,415.1 904.6,421.1 889.7,428.3 C874.7,435.5 862.8,455.8 853.8,455.2 C844.8,454.6 831.4,434.9 835.9,424.7Z" fill="#3a48f0"/>
<path d="M925.6,446.2 C934.5,423.8 961.4,429.8 979.4,428.3 C997.3,426.8 1006.3,432.8 1033.2,437.2 C1060.1,441.7 1122.9,434.3 1140.8,455.2 C1158.7,476.1 1176.7,544.9 1140.8,562.8 C1104.9,580.7 961.4,582.2 925.6,562.8 C889.7,543.4 916.6,468.6 925.6,446.2Z" fill="#0a84f0"/></g></g>
<g mask="url(#mT20)"><g filter="url(#b4)"><path d="M1026.2,286.6 C1047.1,239.8 1115.0,283.3 1151.7,282.1 C1188.5,280.9 1219.9,277.8 1246.8,279.4 C1273.7,281.0 1284.2,286.9 1313.2,292.0 C1342.2,297.0 1402.9,264.8 1420.8,309.9 C1438.7,355.0 1486.6,520.7 1420.8,562.8 C1355.0,605.0 1092.0,608.8 1026.2,562.8 C960.4,516.8 1005.3,333.4 1026.2,286.6Z" fill="#3a48f0"/>
<path d="M1026.2,315.3 C1047.1,272.8 1115.9,309.6 1151.7,308.1 C1187.6,306.6 1214.5,304.8 1241.4,306.3 C1268.3,307.8 1283.3,312.6 1313.2,317.1 C1343.1,321.6 1402.9,292.3 1420.8,333.2 C1438.7,374.2 1486.6,524.5 1420.8,562.8 C1355.0,601.1 1092.0,604.1 1026.2,562.8 C960.4,521.6 1005.3,357.7 1026.2,315.3Z" fill="#1a70f0"/>
<path d="M1026.2,326.0 C1053.1,310.5 1142.8,320.4 1187.6,322.4 C1232.5,324.5 1256.4,331.4 1295.2,338.6 C1334.1,345.8 1399.9,350.6 1420.8,365.5 C1441.7,380.4 1441.7,419.3 1420.8,428.3 C1399.9,437.2 1334.1,420.8 1295.2,419.3 C1256.4,417.8 1232.5,419.9 1187.6,419.3 C1142.8,418.7 1053.1,431.3 1026.2,415.7 C999.3,400.2 999.3,341.6 1026.2,326.0Z" fill="#10a0e0"/>
<path d="M1133.8,394.2 C1139.8,390.9 1165.2,390.3 1178.7,392.4 C1192.1,394.5 1213.0,402.6 1214.5,406.8 C1216.0,410.9 1199.6,416.6 1187.6,417.5 C1175.7,418.4 1151.7,416.0 1142.8,412.1 C1133.8,408.2 1127.8,397.5 1133.8,394.2Z" fill="#10c8c0"/>
<path d="M1026.2,437.2 C1050.1,417.2 1136.8,438.7 1169.7,442.6 C1202.6,446.5 1210.0,440.5 1223.5,460.6 C1237.0,480.6 1283.3,545.8 1250.4,562.8 C1217.5,579.8 1063.6,583.7 1026.2,562.8 C988.8,541.9 1002.3,457.3 1026.2,437.2Z" fill="#1a60f0"/></g></g>
<g mask="url(#mT30)"><g filter="url(#b4)"><path d="M1306.2,308.1 C1324.1,270.4 1386.9,325.4 1413.8,336.8 C1440.7,348.2 1452.7,362.5 1467.6,376.3 C1482.6,390.0 1493.0,403.2 1503.5,419.3 C1514.0,435.5 1522.9,449.2 1530.4,473.1 C1537.9,497.0 1585.7,547.9 1548.3,562.8 C1511.0,577.8 1346.5,605.3 1306.2,562.8 C1265.8,520.4 1288.3,345.8 1306.2,308.1Z" fill="#3a48f0"/>
<path d="M1306.2,322.4 C1322.6,286.0 1380.9,334.4 1404.8,344.0 C1428.8,353.5 1437.7,367.9 1449.7,379.8 C1461.6,391.8 1469.1,403.2 1476.6,415.7 C1484.1,428.3 1488.6,430.7 1494.5,455.2 C1500.5,479.7 1543.9,544.9 1512.5,562.8 C1481.1,580.7 1340.6,602.9 1306.2,562.8 C1271.8,522.7 1289.7,358.9 1306.2,322.4Z" fill="#1a70f0"/>
<path d="M1306.2,340.4 C1322.6,333.8 1382.4,351.7 1404.8,361.9 C1427.3,372.1 1433.2,388.8 1440.7,401.4 C1448.2,413.9 1454.2,432.8 1449.7,437.2 C1445.2,441.7 1437.7,434.3 1413.8,428.3 C1389.9,422.3 1324.1,416.0 1306.2,401.4 C1288.3,386.7 1289.7,347.0 1306.2,340.4Z" fill="#1898e8"/>
<path d="M1395.9,401.4 C1397.4,399.0 1416.2,407.4 1422.8,412.1 C1429.4,416.9 1436.8,427.7 1435.3,430.1 C1433.8,432.5 1420.4,431.3 1413.8,426.5 C1407.2,421.7 1394.4,403.8 1395.9,401.4Z" fill="#10b0d0"/></g></g>
<g mask="url(#mT01)"><g filter="url(#b4)"><path d="M663.5,448.2 C627.6,464.0 651.5,520.2 645.6,543.3 C639.6,566.3 633.0,573.7 627.6,586.3 C622.2,598.9 617.8,605.7 613.3,618.6 C608.8,631.4 604.3,647.0 600.7,663.4 C597.1,679.9 594.1,687.4 591.7,717.2 C589.4,747.1 541.5,821.9 586.4,842.8 C631.2,863.7 815.1,908.6 860.8,842.8 C906.5,777.0 893.7,514.0 860.8,448.2 C827.9,382.4 699.4,432.3 663.5,448.2Z" fill="#3a48f0"/>
<path d="M697.6,448.2 C666.8,463.1 682.9,516.1 676.1,537.9 C669.2,559.7 662.9,564.2 656.3,579.1 C649.7,594.1 642.6,612.0 636.6,627.6 C630.6,643.1 624.9,657.5 620.4,672.4 C616.0,687.4 612.7,688.8 609.7,717.2 C606.7,745.6 560.7,821.9 602.5,842.8 C644.4,863.7 817.8,908.6 860.8,842.8 C903.9,777.0 888.0,514.0 860.8,448.2 C833.6,382.4 728.4,433.2 697.6,448.2Z" fill="#1a78f0"/>
<path d="M699.4,448.2 C689.8,463.7 684.7,519.0 677.8,541.5 C671.0,563.9 664.1,568.4 658.1,582.7 C652.1,597.1 647.1,612.6 642.0,627.6 C636.9,642.5 632.1,657.5 627.6,672.4 C623.1,687.4 618.1,688.8 615.1,717.2 C612.1,745.6 602.8,821.9 609.7,842.8 C616.6,863.7 647.4,860.7 656.3,842.8 C665.3,824.9 660.5,762.1 663.5,735.2 C666.5,708.3 670.7,699.3 674.3,681.4 C677.8,663.4 679.9,645.5 685.0,627.6 C690.1,609.6 696.4,603.6 704.8,573.7 C713.1,543.9 736.1,469.1 735.2,448.2 C734.3,427.3 708.9,432.6 699.4,448.2Z" fill="#10b8d0"/>
<path d="M713.7,448.2 C707.4,464.6 698.2,521.4 690.4,546.8 C682.6,572.3 674.0,581.2 667.1,600.7 C660.2,620.1 655.1,642.5 649.1,663.4 C643.2,684.4 636.0,696.3 631.2,726.2 C626.4,756.1 618.1,823.4 620.4,842.8 C622.8,862.2 639.6,862.2 645.6,842.8 C651.5,823.4 652.1,756.1 656.3,726.2 C660.5,696.3 665.3,682.9 670.7,663.4 C676.1,644.0 682.0,627.6 688.6,609.6 C695.2,591.7 703.6,582.7 710.1,555.8 C716.7,528.9 727.5,466.1 728.1,448.2 C728.7,430.3 720.0,431.7 713.7,448.2Z" fill="#20e0a0"/>
<path d="M731.7,448.2 C725.7,466.1 717.3,527.4 710.1,555.8 C703.0,584.2 694.0,597.7 688.6,618.6 C683.2,639.5 679.6,659.0 677.8,681.4 C676.1,703.8 675.8,726.2 677.8,753.1 C679.9,780.0 685.3,827.9 690.4,842.8 C695.5,857.8 706.8,860.7 708.3,842.8 C709.8,824.9 701.5,762.1 699.4,735.2 C697.3,708.3 694.6,700.8 695.8,681.4 C697.0,661.9 700.6,639.5 706.5,618.6 C712.5,597.7 725.1,584.2 731.7,555.8 C738.2,527.4 746.0,466.1 746.0,448.2 C746.0,430.3 737.6,430.3 731.7,448.2Z" fill="#3a44f0"/>
<path d="M746.0,448.2 C725.1,466.1 738.5,525.9 735.2,555.8 C732.0,585.7 726.3,603.6 726.3,627.6 C726.3,651.5 730.8,663.4 735.2,699.3 C739.7,735.2 732.3,818.9 753.2,842.8 C774.1,866.7 842.9,908.6 860.8,842.8 C878.7,777.0 879.9,514.0 860.8,448.2 C841.7,382.4 766.9,430.3 746.0,448.2Z" fill="#0a90f0"/></g></g>
<g mask="url(#mT11)"><g filter="url(#b4)"><path d="M746.2,448.2 C812.0,382.4 1075.0,382.4 1140.8,448.2 C1206.6,514.0 1206.6,777.0 1140.8,842.8 C1075.0,908.6 812.0,908.6 746.2,842.8 C680.4,777.0 680.4,514.0 746.2,448.2Z" fill="#1a78f0"/>
<path d="M916.6,663.4 C918.4,675.7 930.0,685.6 943.5,692.1 C957.0,698.7 980.9,703.2 997.3,702.9 C1013.8,702.6 1018.2,698.4 1042.2,690.3 C1066.1,682.3 1124.4,682.9 1140.8,654.5 C1157.2,626.1 1157.2,540.9 1140.8,519.9 C1124.4,499.0 1066.1,523.5 1042.2,528.9 C1018.2,534.3 1010.8,543.3 997.3,552.2 C983.9,561.2 972.2,571.7 961.4,582.7 C950.7,593.8 940.2,605.1 932.7,618.6 C925.3,632.0 914.8,651.2 916.6,663.4Z" fill="#3a40f0"/>
<path d="M939.9,659.8 C942.9,668.2 955.5,673.6 965.0,677.8 C974.6,682.0 985.9,685.6 997.3,685.0 C1008.7,684.4 1009.3,682.0 1033.2,674.2 C1057.1,666.4 1122.9,661.6 1140.8,638.3 C1158.7,615.0 1157.2,550.1 1140.8,534.3 C1124.4,518.4 1064.6,537.9 1042.2,543.3 C1019.7,548.6 1017.9,557.9 1006.3,566.6 C994.6,575.2 982.1,585.1 972.2,595.3 C962.3,605.4 952.5,616.8 947.1,627.6 C941.7,638.3 936.9,651.5 939.9,659.8Z" fill="#5214d8"/>
<path d="M993.7,598.9 C995.5,596.5 1008.1,594.1 1011.7,595.3 C1015.2,596.5 1017.0,603.6 1015.2,606.0 C1013.5,608.4 1004.5,610.8 1000.9,609.6 C997.3,608.4 991.9,601.3 993.7,598.9Z" fill="#300090"/>
<path d="M893.3,753.1 C900.1,737.6 920.2,748.6 934.5,749.5 C948.9,750.4 971.9,743.0 979.4,758.5 C986.8,774.0 993.7,828.8 979.4,842.8 C965.0,856.9 907.6,857.8 893.3,842.8 C878.9,827.9 886.4,768.7 893.3,753.1Z" fill="#20d8a8"/>
<path d="M1024.2,740.6 C1045.1,719.6 1121.4,700.2 1140.8,717.2 C1160.2,734.3 1161.7,821.9 1140.8,842.8 C1119.9,863.7 1034.7,859.8 1015.2,842.8 C995.8,825.8 1003.3,761.5 1024.2,740.6Z" fill="#20d0b0"/></g></g>
<g mask="url(#mT21)"><g filter="url(#b4)"><path d="M1026.2,448.2 C1092.0,382.4 1355.0,382.4 1420.8,448.2 C1486.6,514.0 1486.6,777.0 1420.8,842.8 C1355.0,908.6 1092.0,908.6 1026.2,842.8 C960.4,777.0 960.4,514.0 1026.2,448.2Z" fill="#4434ec"/>
<path d="M1026.2,528.9 C1039.6,514.9 1089.0,522.3 1106.9,525.3 C1124.8,528.3 1129.3,537.3 1133.8,546.8 C1138.3,556.4 1138.3,573.4 1133.8,582.7 C1129.3,592.0 1124.8,598.0 1106.9,602.4 C1089.0,606.9 1039.6,621.9 1026.2,609.6 C1012.7,597.4 1012.7,543.0 1026.2,528.9Z" fill="#5218d0"/>
<path d="M1241.4,448.2 C1271.3,434.7 1390.9,430.3 1420.8,448.2 C1450.7,466.1 1441.7,538.5 1420.8,555.8 C1399.9,573.2 1325.1,556.7 1295.2,552.2 C1265.4,547.7 1250.4,546.2 1241.4,528.9 C1232.5,511.6 1211.5,461.6 1241.4,448.2Z" fill="#4434ec"/>
<path d="M1026.2,708.3 C1047.1,677.5 1121.9,672.7 1151.7,658.1 C1181.6,643.4 1187.6,632.3 1205.6,620.4 C1223.5,608.4 1239.9,597.4 1259.4,586.3 C1278.8,575.2 1295.2,561.5 1322.2,554.0 C1349.1,546.5 1404.4,493.3 1420.8,541.5 C1437.2,589.6 1486.6,792.6 1420.8,842.8 C1355.0,893.0 1092.0,865.2 1026.2,842.8 C960.4,820.4 1005.3,739.1 1026.2,708.3Z" fill="#2a60f0"/>
<path d="M1026.2,726.2 C1047.1,697.8 1121.9,687.7 1151.7,672.4 C1181.6,657.2 1187.6,646.4 1205.6,634.7 C1223.5,623.1 1241.4,612.0 1259.4,602.4 C1277.3,592.9 1286.3,583.3 1313.2,577.3 C1340.1,571.4 1402.9,522.3 1420.8,566.6 C1438.7,610.8 1486.6,796.8 1420.8,842.8 C1355.0,888.8 1092.0,862.2 1026.2,842.8 C960.4,823.4 1005.3,754.6 1026.2,726.2Z" fill="#1a84ea"/>
<path d="M1026.2,753.1 C1047.1,729.5 1121.9,716.1 1151.7,701.1 C1181.6,686.2 1187.6,675.1 1205.6,663.4 C1223.5,651.8 1239.9,641.0 1259.4,631.1 C1278.8,621.3 1295.2,609.6 1322.2,604.2 C1349.1,598.9 1404.4,559.1 1420.8,598.9 C1437.2,638.6 1486.6,802.1 1420.8,842.8 C1355.0,883.5 1092.0,857.8 1026.2,842.8 C960.4,827.9 1005.3,776.7 1026.2,753.1Z" fill="#38e888"/>
<path d="M1026.2,781.8 C1047.1,763.9 1121.9,749.2 1151.7,735.2 C1181.6,721.1 1187.6,709.5 1205.6,697.5 C1223.5,685.6 1241.4,672.4 1259.4,663.4 C1277.3,654.5 1286.3,648.5 1313.2,643.7 C1340.1,638.9 1402.9,601.6 1420.8,634.7 C1438.7,667.9 1486.6,808.1 1420.8,842.8 C1355.0,877.5 1092.0,853.0 1026.2,842.8 C960.4,832.6 1005.3,799.8 1026.2,781.8Z" fill="#90f038"/>
<path d="M1133.8,842.8 C1092.0,828.5 1156.2,776.7 1169.7,756.7 C1183.1,736.7 1199.6,733.4 1214.5,722.6 C1229.5,711.9 1242.9,701.1 1259.4,692.1 C1275.8,683.2 1286.3,673.6 1313.2,668.8 C1340.1,664.0 1402.9,634.4 1420.8,663.4 C1438.7,692.4 1468.6,812.9 1420.8,842.8 C1373.0,872.7 1175.7,857.2 1133.8,842.8Z" fill="#d8e000"/>
<path d="M1196.6,842.8 C1165.2,826.7 1220.5,766.9 1232.5,745.9 C1244.4,725.0 1254.9,725.6 1268.3,717.2 C1281.8,708.9 1287.8,699.9 1313.2,695.7 C1338.6,691.5 1402.9,667.6 1420.8,692.1 C1438.7,716.6 1458.2,817.7 1420.8,842.8 C1383.4,867.9 1228.0,859.0 1196.6,842.8Z" fill="#ffb000"/>
<path d="M1241.4,735.2 C1241.4,727.7 1262.4,713.7 1277.3,708.3 C1292.3,702.9 1322.2,698.4 1331.1,702.9 C1340.1,707.4 1340.1,726.8 1331.1,735.2 C1322.2,743.6 1292.3,753.1 1277.3,753.1 C1262.4,753.1 1241.4,742.7 1241.4,735.2Z" fill="#ff9a00"/></g></g>
<g mask="url(#mT31)"><g filter="url(#b4)"><path d="M1306.2,448.2 C1372.0,382.4 1635.0,382.4 1700.8,448.2 C1766.6,514.0 1766.6,777.0 1700.8,842.8 C1635.0,908.6 1372.0,908.6 1306.2,842.8 C1240.4,777.0 1240.4,514.0 1306.2,448.2Z" fill="#4434ec"/>
<path d="M1306.2,448.2 C1336.1,424.9 1452.7,430.3 1485.6,448.2 C1518.4,466.1 1506.5,532.5 1503.5,555.8 C1500.5,579.1 1500.5,582.7 1467.6,588.1 C1434.7,593.5 1333.1,611.4 1306.2,588.1 C1279.3,564.8 1276.3,471.5 1306.2,448.2Z" fill="#3848ee"/>
<path d="M1306.2,586.3 C1327.1,543.6 1401.9,582.4 1431.7,586.3 C1461.6,590.2 1470.6,598.3 1485.6,609.6 C1500.5,621.0 1512.5,636.5 1521.4,654.5 C1530.4,672.4 1534.9,685.9 1539.4,717.2 C1543.9,748.6 1587.2,821.9 1548.3,842.8 C1509.5,863.7 1346.5,885.6 1306.2,842.8 C1265.8,800.1 1285.3,629.1 1306.2,586.3Z" fill="#2a60f0"/>
<path d="M1306.2,602.4 C1324.1,563.6 1388.4,604.8 1413.8,609.6 C1439.2,614.4 1445.2,622.2 1458.7,631.1 C1472.1,640.1 1485.6,649.1 1494.5,663.4 C1503.5,677.8 1508.6,687.4 1512.5,717.2 C1516.4,747.1 1552.2,821.9 1517.8,842.8 C1483.5,863.7 1341.5,882.9 1306.2,842.8 C1270.9,802.7 1288.3,641.3 1306.2,602.4Z" fill="#10c0d0"/>
<path d="M1306.2,609.6 C1324.1,571.7 1389.3,610.2 1413.8,615.0 C1438.3,619.8 1441.3,628.8 1453.3,638.3 C1465.2,647.9 1477.2,657.8 1485.6,672.4 C1493.9,687.1 1499.9,697.8 1503.5,726.2 C1507.1,754.6 1540.0,823.4 1507.1,842.8 C1474.2,862.2 1339.7,881.7 1306.2,842.8 C1272.7,803.9 1288.3,647.6 1306.2,609.6Z" fill="#50f050"/>
<path d="M1306.2,638.3 C1322.6,605.4 1383.0,640.7 1404.8,645.5 C1426.7,650.3 1427.9,657.5 1437.1,667.0 C1446.4,676.6 1454.8,690.0 1460.4,702.9 C1466.1,715.8 1468.8,720.8 1471.2,744.2 C1473.6,767.5 1502.3,826.4 1474.8,842.8 C1447.3,859.2 1334.3,876.9 1306.2,842.8 C1278.1,808.7 1289.7,671.2 1306.2,638.3Z" fill="#a8e830"/>
<path d="M1306.2,668.8 C1321.1,640.7 1376.7,669.7 1395.9,674.2 C1415.0,678.7 1413.8,686.5 1421.0,695.7 C1428.2,705.0 1435.3,705.3 1438.9,729.8 C1442.5,754.3 1464.6,824.0 1442.5,842.8 C1420.4,861.6 1328.9,871.8 1306.2,842.8 C1283.5,813.8 1291.2,696.9 1306.2,668.8Z" fill="#f0c000"/>
<path d="M1306.2,701.1 C1319.3,678.7 1369.0,703.8 1385.1,708.3 C1401.3,712.8 1398.6,720.5 1403.0,728.0 C1407.5,735.5 1410.8,734.0 1412.0,753.1 C1413.2,772.3 1427.9,827.9 1410.2,842.8 C1392.6,857.8 1323.5,866.4 1306.2,842.8 C1288.8,819.2 1293.0,723.5 1306.2,701.1Z" fill="#ffa800"/></g></g>
<g mask="url(#mT02)"><g filter="url(#b4)"><path d="M588.2,728.2 C630.9,695.3 815.4,662.4 860.8,728.2 C906.2,794.0 889.2,1057.0 860.8,1122.8 C832.4,1188.6 728.7,1143.7 690.4,1122.8 C652.1,1101.9 645.6,1030.1 631.2,997.2 C616.9,964.4 611.5,970.3 604.3,925.5 C597.1,880.7 545.4,761.1 588.2,728.2Z" fill="#10a8e0"/>
<path d="M613.3,808.9 C617.5,794.0 631.2,808.9 645.6,817.9 C659.9,826.8 681.4,847.8 699.4,862.7 C717.3,877.7 726.3,897.1 753.2,907.6 C780.1,918.0 842.9,889.6 860.8,925.5 C878.7,961.4 886.2,1089.9 860.8,1122.8 C835.4,1155.7 744.2,1143.7 708.3,1122.8 C672.5,1101.9 660.2,1033.1 645.6,997.2 C630.9,961.4 625.8,939.0 620.4,907.6 C615.1,876.2 609.1,823.9 613.3,808.9Z" fill="#28e0a8"/>
<path d="M672.5,728.2 C702.4,710.3 829.4,695.9 860.8,728.2 C892.2,760.5 877.2,891.4 860.8,921.9 C844.4,952.4 786.1,918.0 762.2,911.1 C738.2,904.3 730.8,893.2 717.3,880.7 C703.9,868.1 688.9,861.2 681.4,835.8 C674.0,810.4 642.6,746.1 672.5,728.2Z" fill="#3a48f0"/>
<path d="M717.3,835.8 C721.8,833.7 729.3,845.7 753.2,850.2 C777.1,854.6 842.9,853.2 860.8,862.7 C878.7,872.3 877.2,902.5 860.8,907.6 C844.4,912.6 784.6,900.7 762.2,893.2 C739.7,885.7 733.8,872.3 726.3,862.7 C718.8,853.2 712.8,837.9 717.3,835.8Z" fill="#4a30e8"/>
<path d="M699.4,728.2 C721.8,716.2 833.9,710.3 860.8,728.2 C887.7,746.1 877.2,819.4 860.8,835.8 C844.4,852.3 784.6,832.8 762.2,826.8 C739.7,820.9 736.7,816.4 726.3,799.9 C715.8,783.5 677.0,740.1 699.4,728.2Z" fill="#1a80f0"/>
<path d="M667.1,952.4 C670.7,946.4 691.0,952.4 699.4,961.4 C707.7,970.3 717.3,994.3 717.3,1006.2 C717.3,1018.2 705.9,1034.6 699.4,1033.1 C692.8,1031.6 683.2,1010.7 677.8,997.2 C672.5,983.8 663.5,958.4 667.1,952.4Z" fill="#40f080"/>
<path d="M717.3,1006.2 C739.7,983.8 836.9,968.8 860.8,988.3 C884.7,1007.7 883.2,1100.4 860.8,1122.8 C838.4,1145.2 750.2,1142.2 726.3,1122.8 C702.4,1103.4 694.9,1028.6 717.3,1006.2Z" fill="#40f080"/>
<path d="M466.2,728.2 C481.1,662.4 540.6,710.3 555.9,728.2 C571.1,746.1 556.5,805.9 557.7,835.8 C558.9,865.7 558.0,883.6 563.0,907.6 C568.1,931.5 578.6,958.4 588.2,979.3 C597.7,1000.2 610.0,1009.2 620.4,1033.1 C630.9,1057.0 676.7,1107.9 650.9,1122.8 C625.2,1137.8 497.0,1188.6 466.2,1122.8 C435.4,1057.0 451.2,794.0 466.2,728.2Z" fill="#5a16dc"/>
<path d="M563.0,907.6 C566.0,907.6 581.0,959.9 591.7,979.3 C602.5,998.7 612.7,1000.2 627.6,1024.2 C642.6,1048.1 682.6,1106.4 681.4,1122.8 C680.2,1139.2 638.4,1146.7 620.4,1122.8 C602.5,1098.9 583.4,1015.2 573.8,979.3 C564.2,943.4 560.1,907.6 563.0,907.6Z" fill="#4a34ec"/></g></g>
<g mask="url(#mT12)"><g filter="url(#b4)"><path d="M746.2,728.2 C812.0,662.4 1075.0,662.4 1140.8,728.2 C1206.6,794.0 1206.6,1057.0 1140.8,1122.8 C1075.0,1188.6 812.0,1188.6 746.2,1122.8 C680.4,1057.0 680.4,794.0 746.2,728.2Z" fill="#30e8a0"/>
<path d="M746.2,728.2 C788.0,686.3 961.4,707.3 997.3,728.2 C1033.2,749.1 973.4,820.9 961.4,853.7 C949.5,886.6 940.5,906.1 925.6,925.5 C910.6,944.9 901.6,961.4 871.7,970.3 C841.9,979.3 767.1,1019.7 746.2,979.3 C725.3,939.0 704.3,770.0 746.2,728.2Z" fill="#1a80f0"/>
<path d="M853.8,889.6 C862.8,870.2 904.6,877.7 925.6,871.7 C946.5,865.7 964.4,850.8 979.4,853.7 C994.3,856.7 1012.3,871.7 1015.2,889.6 C1018.2,907.6 1012.3,944.9 997.3,961.4 C982.4,977.8 946.5,983.8 925.6,988.3 C904.6,992.8 883.7,1004.7 871.7,988.3 C859.8,971.8 844.8,909.1 853.8,889.6Z" fill="#10c0c8"/>
<path d="M746.2,898.6 C759.6,894.4 807.5,909.4 826.9,918.3 C846.3,927.3 861.3,946.4 862.8,952.4 C864.3,958.4 855.3,955.7 835.9,954.2 C816.4,952.7 761.1,952.7 746.2,943.4 C731.2,934.2 732.7,902.8 746.2,898.6Z" fill="#4a30e8"/>
<path d="M880.7,988.3 C888.2,987.4 918.1,998.1 934.5,997.2 C951.0,996.3 973.4,981.1 979.4,982.9 C985.4,984.7 979.4,1002.9 970.4,1008.0 C961.4,1013.1 939.0,1014.3 925.6,1013.4 C912.1,1012.5 897.2,1006.8 889.7,1002.6 C882.2,998.4 873.2,989.2 880.7,988.3Z" fill="#2a90e0"/>
<path d="M1033.2,817.9 C1046.6,799.9 1122.9,779.0 1140.8,799.9 C1158.7,820.9 1154.3,925.5 1140.8,943.4 C1127.4,961.4 1078.0,928.5 1060.1,907.6 C1042.2,886.6 1019.7,835.8 1033.2,817.9Z" fill="#a8f020"/>
<path d="M997.3,835.8 C1001.8,810.4 1022.7,817.9 1033.2,826.8 C1043.6,835.8 1057.1,858.2 1060.1,889.6 C1063.1,921.0 1037.7,976.3 1051.1,1015.2 C1064.6,1054.0 1152.8,1104.9 1140.8,1122.8 C1128.8,1140.7 1001.8,1146.7 979.4,1122.8 C957.0,1098.9 1003.3,1027.1 1006.3,979.3 C1009.3,931.5 992.8,861.2 997.3,835.8Z" fill="#50f060"/></g></g>
<g mask="url(#mT22)"><g filter="url(#b4)"><path d="M1026.2,728.2 C1092.0,662.4 1355.0,662.4 1420.8,728.2 C1486.6,794.0 1486.6,1057.0 1420.8,1122.8 C1355.0,1188.6 1092.0,1188.6 1026.2,1122.8 C960.4,1057.0 960.4,794.0 1026.2,728.2Z" fill="#f0c000"/>
<path d="M1259.4,728.2 C1283.3,710.3 1393.9,699.8 1420.8,728.2 C1447.7,756.6 1438.7,871.7 1420.8,898.6 C1402.9,925.5 1337.1,900.1 1313.2,889.6 C1289.3,879.2 1286.3,862.7 1277.3,835.8 C1268.3,808.9 1235.5,746.1 1259.4,728.2Z" fill="#ffa000"/>
<path d="M1026.2,728.2 C1041.1,662.4 1102.4,710.3 1115.9,728.2 C1129.3,746.1 1105.4,808.9 1106.9,835.8 C1108.4,862.7 1120.4,868.7 1124.8,889.6 C1129.3,910.6 1123.3,940.4 1133.8,961.4 C1144.3,982.3 1169.7,1003.2 1187.6,1015.2 C1205.6,1027.1 1220.5,1036.1 1241.4,1033.1 C1262.4,1030.1 1283.3,1009.2 1313.2,997.2 C1343.1,985.3 1402.9,940.4 1420.8,961.4 C1438.7,982.3 1486.6,1095.9 1420.8,1122.8 C1355.0,1149.7 1092.0,1188.6 1026.2,1122.8 C960.4,1057.0 1011.2,794.0 1026.2,728.2Z" fill="#a8f028"/>
<path d="M1026.2,835.8 C1038.7,786.5 1087.2,817.9 1101.5,826.8 C1115.9,835.8 1108.4,870.2 1112.3,889.6 C1116.2,909.1 1118.3,925.5 1124.8,943.4 C1131.4,961.4 1150.3,967.4 1151.7,997.2 C1153.2,1027.1 1154.7,1101.9 1133.8,1122.8 C1112.9,1143.7 1044.1,1170.6 1026.2,1122.8 C1008.3,1075.0 1013.6,885.1 1026.2,835.8Z" fill="#60f040"/>
<path d="M1026.2,979.3 C1039.6,961.4 1092.0,991.3 1106.9,1015.2 C1121.9,1039.1 1129.3,1104.9 1115.9,1122.8 C1102.4,1140.7 1041.1,1146.7 1026.2,1122.8 C1011.2,1098.9 1012.7,997.2 1026.2,979.3Z" fill="#40e890"/>
<path d="M1196.6,835.8 C1201.1,826.8 1229.5,829.8 1241.4,835.8 C1253.4,841.8 1266.8,861.2 1268.3,871.7 C1269.8,882.1 1259.4,895.6 1250.4,898.6 C1241.4,901.6 1223.5,900.1 1214.5,889.6 C1205.6,879.2 1192.1,844.8 1196.6,835.8Z" fill="#98f038"/>
<path d="M1241.4,1122.8 C1223.5,1104.9 1283.3,1039.1 1313.2,1015.2 C1343.1,991.3 1402.9,961.4 1420.8,979.3 C1438.7,997.2 1450.7,1098.9 1420.8,1122.8 C1390.9,1146.7 1259.4,1140.7 1241.4,1122.8Z" fill="#78f048"/>
<path d="M1097.9,850.2 C1099.4,848.1 1114.4,858.5 1115.9,862.7 C1117.4,866.9 1109.9,877.4 1106.9,875.3 C1103.9,873.2 1096.4,852.3 1097.9,850.2Z" fill="#ff8800"/>
<path d="M1178.7,791.0 C1181.0,788.0 1203.5,792.5 1205.6,796.3 C1207.7,800.2 1195.7,815.2 1191.2,814.3 C1186.7,813.4 1176.3,794.0 1178.7,791.0Z" fill="#ff8a00"/></g></g>
<g mask="url(#mT32)"><g filter="url(#b4)"><path d="M1306.2,728.2 C1372.0,662.4 1635.0,662.4 1700.8,728.2 C1766.6,794.0 1766.6,1057.0 1700.8,1122.8 C1635.0,1188.6 1372.0,1188.6 1306.2,1122.8 C1240.4,1057.0 1240.4,794.0 1306.2,728.2Z" fill="#5018d8"/>
<path d="M1557.3,728.2 C1597.7,749.1 1554.3,822.4 1548.3,853.7 C1542.4,885.1 1534.9,895.6 1521.4,916.5 C1508.0,937.5 1487.1,956.9 1467.6,979.3 C1448.2,1001.7 1431.7,1027.1 1404.8,1051.1 C1377.9,1075.0 1322.6,1176.6 1306.2,1122.8 C1289.7,1069.0 1264.3,794.0 1306.2,728.2 C1348.0,662.4 1517.0,707.3 1557.3,728.2Z" fill="#4434ec"/>
<path d="M1532.2,728.2 C1568.1,749.1 1528.6,821.5 1521.4,853.7 C1514.3,886.0 1502.6,901.0 1489.1,921.9 C1475.7,942.8 1457.8,960.8 1440.7,979.3 C1423.7,997.8 1409.3,1021.2 1386.9,1033.1 C1364.5,1045.1 1319.6,1101.9 1306.2,1051.1 C1292.7,1000.2 1268.5,782.0 1306.2,728.2 C1343.9,674.4 1496.3,707.3 1532.2,728.2Z" fill="#2060f0"/>
<path d="M1517.8,728.2 C1552.2,744.9 1516.1,804.7 1512.5,828.6 C1508.9,852.6 1503.2,857.3 1496.3,871.7 C1489.4,886.0 1480.2,901.0 1471.2,914.7 C1462.2,928.5 1452.7,941.6 1442.5,954.2 C1432.3,966.8 1432.9,976.3 1410.2,990.1 C1387.5,1003.8 1323.5,1080.4 1306.2,1036.7 C1288.8,993.1 1270.9,779.6 1306.2,728.2 C1341.5,676.8 1483.5,711.4 1517.8,728.2Z" fill="#10c8b8"/>
<path d="M1503.5,728.2 C1535.2,744.6 1500.8,801.1 1496.3,826.8 C1491.8,852.6 1487.4,863.6 1476.6,882.4 C1465.8,901.3 1446.7,922.2 1431.7,939.8 C1416.8,957.5 1407.8,975.7 1386.9,988.3 C1366.0,1000.8 1319.6,1058.5 1306.2,1015.2 C1292.7,971.8 1273.3,776.0 1306.2,728.2 C1339.1,680.4 1471.8,711.7 1503.5,728.2Z" fill="#50f050"/>
<path d="M1460.4,728.2 C1485.0,744.6 1458.1,802.9 1453.3,826.8 C1448.5,850.8 1441.3,856.4 1431.7,871.7 C1422.2,886.9 1416.8,904.0 1395.9,918.3 C1374.9,932.7 1321.1,989.5 1306.2,957.8 C1291.2,926.1 1280.5,766.5 1306.2,728.2 C1331.9,689.9 1435.9,711.7 1460.4,728.2Z" fill="#a0f020"/>
<path d="M1435.3,728.2 C1455.1,744.6 1429.7,804.4 1424.6,826.8 C1419.5,849.3 1413.2,849.9 1404.8,862.7 C1396.5,875.6 1390.8,894.1 1374.3,904.0 C1357.9,913.8 1317.5,951.2 1306.2,921.9 C1294.8,892.6 1284.7,760.5 1306.2,728.2 C1327.7,695.9 1415.6,711.7 1435.3,728.2Z" fill="#f8b800"/>
<path d="M1410.2,728.2 C1425.8,743.7 1404.8,799.9 1399.5,821.5 C1394.1,843.0 1393.5,847.2 1377.9,857.3 C1362.4,867.5 1318.1,904.0 1306.2,882.4 C1294.2,860.9 1288.8,753.9 1306.2,728.2 C1323.5,702.5 1394.7,712.6 1410.2,728.2Z" fill="#ff8800"/></g></g>
<g mask="url(#mT03)"><g filter="url(#b4)"><path d="M656.3,1008.2 C629.4,1024.0 683.2,1080.8 699.4,1103.3 C715.5,1125.7 726.3,1131.1 753.2,1142.7 C780.1,1154.4 842.9,1195.6 860.8,1173.2 C878.7,1150.8 894.9,1035.7 860.8,1008.2 C826.7,980.7 683.2,992.3 656.3,1008.2Z" fill="#3a50f0"/>
<path d="M681.4,1008.2 C659.0,1022.5 711.3,1074.0 726.3,1094.3 C741.2,1114.6 748.7,1121.5 771.1,1130.2 C793.5,1138.8 845.9,1166.6 860.8,1146.3 C875.8,1126.0 890.7,1031.2 860.8,1008.2 C830.9,985.2 703.9,993.8 681.4,1008.2Z" fill="#2a90e8"/>
<path d="M699.4,1008.2 C678.4,1021.6 721.8,1071.0 735.2,1088.9 C748.7,1106.8 759.2,1108.9 780.1,1115.8 C801.0,1122.7 847.4,1148.1 860.8,1130.2 C874.3,1112.2 887.7,1028.5 860.8,1008.2 C833.9,987.9 720.3,994.7 699.4,1008.2Z" fill="#20d8b0"/></g></g>
<g mask="url(#mT13)"><g filter="url(#b4)"><path d="M746.2,1008.2 C812.0,942.4 1075.0,942.4 1140.8,1008.2 C1206.6,1074.0 1206.6,1337.0 1140.8,1402.8 C1075.0,1468.6 812.0,1468.6 746.2,1402.8 C680.4,1337.0 680.4,1074.0 746.2,1008.2Z" fill="#4a34ec"/>
<path d="M746.2,1008.2 C812.0,982.5 1075.0,969.3 1140.8,1008.2 C1206.6,1047.1 1158.7,1202.8 1140.8,1241.4 C1122.9,1279.9 1063.1,1242.0 1033.2,1239.6 C1003.3,1237.2 985.4,1232.7 961.4,1227.0 C937.5,1221.3 910.6,1212.7 889.7,1205.5 C868.8,1198.3 859.8,1191.1 835.9,1184.0 C812.0,1176.8 761.1,1191.7 746.2,1162.4 C731.2,1133.2 680.4,1033.9 746.2,1008.2Z" fill="#10a8e0"/>
<path d="M746.2,1008.2 C812.0,984.9 1075.0,972.3 1140.8,1008.2 C1206.6,1044.1 1158.7,1188.2 1140.8,1223.4 C1122.9,1258.7 1063.1,1222.2 1033.2,1219.8 C1003.3,1217.5 985.4,1213.9 961.4,1209.1 C937.5,1204.3 910.6,1197.7 889.7,1191.1 C868.8,1184.6 859.8,1176.8 835.9,1169.6 C812.0,1162.4 761.1,1175.0 746.2,1148.1 C731.2,1121.2 680.4,1031.5 746.2,1008.2Z" fill="#20d0b8"/>
<path d="M746.2,1008.2 C812.0,990.3 1075.0,975.9 1140.8,1008.2 C1206.6,1040.5 1158.7,1169.6 1140.8,1201.9 C1122.9,1234.2 1060.1,1202.8 1033.2,1201.9 C1006.3,1201.0 997.3,1199.2 979.4,1196.5 C961.4,1193.8 942.0,1190.3 925.6,1185.8 C909.1,1181.3 895.7,1176.8 880.7,1169.6 C865.8,1162.4 858.3,1151.7 835.9,1142.7 C813.5,1133.7 761.1,1138.2 746.2,1115.8 C731.2,1093.4 680.4,1026.1 746.2,1008.2Z" fill="#38f090"/>
<path d="M961.4,1008.2 C988.3,987.3 1110.9,979.8 1140.8,1008.2 C1170.7,1036.6 1158.7,1151.7 1140.8,1178.6 C1122.9,1205.5 1060.1,1177.1 1033.2,1169.6 C1006.3,1162.1 991.3,1160.7 979.4,1133.7 C967.4,1106.8 934.5,1029.1 961.4,1008.2Z" fill="#58f068"/>
<path d="M746.2,1219.8 C764.1,1191.4 823.9,1226.4 853.8,1232.4 C883.7,1238.4 901.6,1249.4 925.6,1255.7 C949.5,1262.0 961.4,1267.1 997.3,1270.1 C1033.2,1273.1 1116.9,1251.5 1140.8,1273.7 C1164.7,1295.8 1206.6,1381.3 1140.8,1402.8 C1075.0,1424.3 812.0,1433.3 746.2,1402.8 C680.4,1372.3 728.3,1248.2 746.2,1219.8Z" fill="#5218d8"/></g></g>
<g mask="url(#mT23)"><g filter="url(#b4)"><path d="M1026.2,1008.2 C1092.0,942.4 1355.0,942.4 1420.8,1008.2 C1486.6,1074.0 1486.6,1337.0 1420.8,1402.8 C1355.0,1468.6 1092.0,1468.6 1026.2,1402.8 C960.4,1337.0 960.4,1074.0 1026.2,1008.2Z" fill="#5018d8"/>
<path d="M1026.2,1008.2 C1092.0,971.7 1355.0,991.4 1420.8,1008.2 C1486.6,1024.9 1435.8,1088.9 1420.8,1108.6 C1405.9,1128.4 1352.0,1119.4 1331.1,1126.6 C1310.2,1133.7 1310.2,1142.7 1295.2,1151.7 C1280.3,1160.7 1259.4,1172.0 1241.4,1180.4 C1223.5,1188.8 1205.6,1195.6 1187.6,1201.9 C1169.7,1208.2 1160.7,1213.9 1133.8,1218.1 C1106.9,1222.2 1044.1,1262.0 1026.2,1227.0 C1008.3,1192.0 960.4,1044.7 1026.2,1008.2Z" fill="#10a0e0"/>
<path d="M1026.2,1008.2 C1092.0,976.5 1355.0,995.9 1420.8,1008.2 C1486.6,1020.4 1441.7,1062.6 1420.8,1081.7 C1399.9,1100.9 1325.1,1111.6 1295.2,1123.0 C1265.4,1134.3 1259.4,1141.5 1241.4,1149.9 C1223.5,1158.3 1205.6,1166.6 1187.6,1173.2 C1169.7,1179.8 1160.7,1185.2 1133.8,1189.4 C1106.9,1193.5 1044.1,1228.5 1026.2,1198.3 C1008.3,1168.1 960.4,1039.9 1026.2,1008.2Z" fill="#20d8a8"/>
<path d="M1026.2,1008.2 C1078.5,981.0 1298.2,992.3 1340.1,1008.2 C1381.9,1024.0 1293.8,1084.1 1277.3,1103.3 C1260.9,1122.4 1256.4,1116.1 1241.4,1123.0 C1226.5,1129.9 1205.6,1137.9 1187.6,1144.5 C1169.7,1151.1 1160.7,1158.0 1133.8,1162.4 C1106.9,1166.9 1044.1,1197.1 1026.2,1171.4 C1008.3,1145.7 973.9,1035.4 1026.2,1008.2Z" fill="#60f050"/>
<path d="M1026.2,1008.2 C1051.6,997.4 1229.5,995.9 1259.4,1008.2 C1289.3,1020.4 1223.5,1067.7 1205.6,1081.7 C1187.6,1095.8 1168.2,1094.0 1151.7,1092.5 C1135.3,1091.0 1127.8,1086.8 1106.9,1072.8 C1086.0,1058.7 1000.8,1019.0 1026.2,1008.2Z" fill="#a0f028"/>
<path d="M1097.9,1008.2 C1106.9,995.3 1174.2,995.6 1187.6,1008.2 C1201.1,1020.7 1187.6,1070.7 1178.7,1083.5 C1169.7,1096.4 1147.3,1097.9 1133.8,1085.3 C1120.4,1072.8 1089.0,1021.0 1097.9,1008.2Z" fill="#ffa800"/>
<path d="M1026.2,1241.4 C1050.1,1232.4 1133.8,1228.8 1169.7,1223.4 C1205.6,1218.1 1217.5,1217.5 1241.4,1209.1 C1265.4,1200.7 1283.3,1184.9 1313.2,1173.2 C1343.1,1161.6 1402.9,1136.7 1420.8,1139.1 C1438.7,1141.5 1441.7,1173.5 1420.8,1187.6 C1399.9,1201.6 1328.1,1213.0 1295.2,1223.4 C1262.4,1233.9 1250.4,1242.9 1223.5,1250.3 C1196.6,1257.8 1166.7,1263.8 1133.8,1268.3 C1100.9,1272.8 1044.1,1281.7 1026.2,1277.2 C1008.3,1272.8 1002.3,1250.3 1026.2,1241.4Z" fill="#4038ec"/></g></g>
<g mask="url(#mT33)"><g filter="url(#b4)"><path d="M1306.2,1008.2 C1372.0,942.4 1635.0,942.4 1700.8,1008.2 C1766.6,1074.0 1766.6,1337.0 1700.8,1402.8 C1635.0,1468.6 1372.0,1468.6 1306.2,1402.8 C1240.4,1337.0 1240.4,1074.0 1306.2,1008.2Z" fill="#5218d8"/>
<path d="M1306.2,1008.2 C1333.1,985.8 1449.7,991.7 1467.6,1008.2 C1485.6,1024.6 1440.7,1084.4 1413.8,1106.8 C1386.9,1129.3 1324.1,1159.2 1306.2,1142.7 C1288.3,1126.3 1279.3,1030.6 1306.2,1008.2Z" fill="#3050f0"/></g></g>
<g fill="none" stroke="#ffffff" stroke-opacity="0.6" stroke-width="1.4" stroke-dasharray="5 6"><circle cx="1079.5" cy="782" r="541"/><circle cx="1079.5" cy="782" r="395"/><circle cx="1079.5" cy="782" r="279"/><circle cx="1079.5" cy="782" r="144"/><line x1="1079.5" y1="782" x2="1639.5" y2="782.0"/><line x1="1079.5" y1="782" x2="1564.5" y2="502.0"/><line x1="1079.5" y1="782" x2="1359.5" y2="297.0"/><line x1="1079.5" y1="782" x2="799.5" y2="297.0"/><line x1="1079.5" y1="782" x2="594.5" y2="502.0"/><line x1="1079.5" y1="782" x2="519.5" y2="782.0"/><line x1="1079.5" y1="782" x2="594.5" y2="1062.0"/><line x1="1079.5" y1="782" x2="799.5" y2="1267.0"/><line x1="1079.5" y1="782" x2="1079.5" y2="1342.0"/><line x1="1079.5" y1="782" x2="1359.5" y2="1267.0"/><line x1="1079.5" y1="782" x2="1564.5" y2="1062.0"/></g>
<rect x="1079" y="222" width="4.5" height="250" fill="#fff"/><rect x="1079.5" y="470" width="2.6" height="165" fill="#fff"/>
<circle cx="1079.5" cy="782" r="559" fill="none" stroke="#660000" stroke-width="2.5" stroke-dasharray="3 4" stroke-opacity="0.8"/>
<g fill="none" stroke="#660000" stroke-linecap="round" stroke-linejoin="round"><path d="M799.8,333.2 C795.9,335.6 780.4,345.2 776.5,347.6" stroke-width="1.3"/>
<path d="M755.0,370.9 C749.3,376.6 731.4,392.7 720.9,405.0 C710.4,417.2 697.0,437.8 692.2,444.4" stroke-width="2.2"/>
<path d="M694.9,417.5 C691.2,423.8 680.7,441.1 672.5,455.2 C664.2,469.2 650.0,494.0 645.6,501.8" stroke-width="2.2"/>
<path d="M807.0,354.7 C799.5,358.6 775.6,369.4 762.2,378.1 C748.7,386.7 737.3,396.0 726.3,406.8 C715.2,417.5 705.4,430.4 695.8,442.6 C686.2,454.9 675.2,469.2 668.9,480.3 C662.6,491.4 659.9,504.2 658.1,509.0" stroke-width="2.7"/>
<path d="M787.3,422.9 C784.0,429.2 770.8,454.3 767.5,460.6" stroke-width="1.7"/>
<path d="M733.5,460.6 C730.5,463.6 721.5,470.4 715.5,478.5 C709.5,486.6 700.6,503.9 697.6,509.0" stroke-width="1.7"/>
<path d="M744.2,469.5 C742.1,476.1 733.8,502.4 731.7,509.0" stroke-width="1.7"/>
<path d="M780.1,485.7 C778.6,489.6 772.6,505.1 771.1,509.0" stroke-width="1.3"/>
<path d="M1087.0,225.6 C1069.1,227.1 1009.3,230.7 979.4,234.6 C949.5,238.4 928.6,243.2 907.6,248.9 C886.7,254.6 872.9,259.4 853.8,268.6 C834.7,277.9 803.0,298.5 792.8,304.5" stroke-width="2.2"/>
<path d="M1029.6,275.8 C1018.2,278.2 983.6,285.4 961.4,290.2 C939.3,294.9 917.8,299.7 896.9,304.5 C875.9,309.3 853.2,314.1 835.9,318.9 C818.5,323.6 800.0,330.8 792.8,333.2" stroke-width="2.2"/>
<path d="M1087.0,284.8 C1075.0,287.2 1036.2,294.0 1015.2,299.1 C994.3,304.2 978.8,310.2 961.4,315.3 C944.1,320.4 929.1,324.8 911.2,329.6 C893.3,334.4 873.5,338.7 853.8,344.0 C834.1,349.2 803.0,358.2 792.8,361.0" stroke-width="3.2"/>
<path d="M1051.1,309.0 C1045.1,311.2 1023.9,317.5 1015.2,322.4 C1006.6,327.4 1000.6,334.1 999.1,338.6 C997.6,343.1 997.6,346.2 1006.3,349.4 C1014.9,352.5 1043.6,356.1 1051.1,357.4" stroke-width="2.2"/>
<path d="M1087.0,317.1 C1081.0,318.9 1056.5,324.2 1051.1,327.8 C1045.7,331.4 1048.7,335.6 1054.7,338.6 C1060.7,341.6 1081.6,344.6 1087.0,345.8" stroke-width="2.2"/>
<path d="M1087.0,376.3 C1069.1,376.1 1006.3,375.4 979.4,375.4 C952.5,375.4 943.5,373.1 925.6,376.3 C907.6,379.4 886.7,386.4 871.7,394.2 C856.8,402.0 847.2,411.2 835.9,422.9 C824.5,434.6 809.0,457.3 803.6,464.2" stroke-width="3.2"/>
<path d="M1087.0,408.5 C1075.0,407.9 1036.2,405.3 1015.2,405.0 C994.3,404.7 977.9,404.1 961.4,406.8 C945.0,409.4 928.6,415.4 916.6,421.1 C904.6,426.8 898.7,431.6 889.7,440.8 C880.7,450.1 871.7,465.3 862.8,476.7 C853.8,488.1 840.4,503.6 835.9,509.0" stroke-width="3.2"/>
<path d="M990.1,424.7 C983.9,426.5 963.2,431.3 952.5,435.5 C941.7,439.6 936.0,443.5 925.6,449.8 C915.1,456.1 899.6,465.6 889.7,473.1 C879.8,480.6 870.3,491.1 866.4,494.6" stroke-width="2.7"/>
<path d="M1087.0,439.0 C1078.0,439.6 1051.1,438.7 1033.2,442.6 C1015.2,446.5 994.3,455.8 979.4,462.4 C964.4,468.9 954.0,474.3 943.5,482.1 C933.0,489.9 921.1,504.5 916.6,509.0" stroke-width="3.2"/>
<path d="M1087.0,464.2 C1078.6,465.6 1051.7,468.9 1036.8,473.1 C1021.8,477.3 1006.9,483.3 997.3,489.3 C987.7,495.2 982.4,505.7 979.4,509.0" stroke-width="3.2"/>
<path d="M1072.8,225.6 C1086.0,226.2 1128.1,227.1 1151.7,229.2 C1175.4,231.3 1193.6,233.4 1214.5,238.1 C1235.5,242.9 1251.9,247.7 1277.3,257.9 C1302.7,268.0 1352.0,292.3 1367.0,299.1" stroke-width="2.7"/>
<path d="M1259.4,268.6 C1268.3,272.2 1295.2,283.3 1313.2,290.2 C1331.1,297.0 1358.0,306.6 1367.0,309.9" stroke-width="2.7"/>
<path d="M1072.8,285.7 C1086.0,284.9 1122.8,282.4 1151.7,281.2 C1180.7,280.0 1231.0,279.0 1246.8,278.5" stroke-width="2.7"/>
<path d="M1117.7,260.6 C1122.5,260.7 1141.6,261.3 1146.4,261.5" stroke-width="1.3"/>
<path d="M1072.8,315.3 C1080.0,314.7 1103.0,312.1 1115.9,311.7 C1128.7,311.2 1144.3,312.4 1150.0,312.6" stroke-width="2.2"/>
<path d="M1182.2,311.7 C1192.1,310.9 1219.6,306.9 1241.4,307.2 C1263.3,307.5 1292.3,310.9 1313.2,313.5 C1334.1,316.0 1358.0,321.0 1367.0,322.4" stroke-width="2.7"/>
<path d="M1367.0,344.0 C1361.0,342.2 1341.9,334.9 1331.1,333.2 C1320.4,331.6 1307.2,334.0 1302.4,334.1" stroke-width="2.7"/>
<path d="M1313.2,356.5 C1322.2,361.0 1358.0,379.0 1367.0,383.4" stroke-width="1.7"/>
<path d="M1072.8,345.8 C1085.1,346.2 1121.3,346.1 1146.4,348.5 C1171.5,350.8 1198.7,354.9 1223.5,360.1 C1248.3,365.3 1271.3,372.7 1295.2,379.8 C1319.2,387.0 1355.0,399.3 1367.0,403.2" stroke-width="3.2"/>
<path d="M1072.8,376.3 C1089.0,376.9 1141.6,377.2 1169.7,379.8 C1197.8,382.5 1220.5,387.6 1241.4,392.4 C1262.4,397.2 1274.3,402.0 1295.2,408.5 C1316.2,415.1 1355.0,428.0 1367.0,431.9" stroke-width="3.2"/>
<path d="M1072.8,408.5 C1089.0,409.4 1141.6,411.2 1169.7,413.9 C1197.8,416.6 1220.5,419.9 1241.4,424.7 C1262.4,429.5 1280.3,435.2 1295.2,442.6 C1310.2,450.1 1323.6,461.5 1331.1,469.5 C1338.6,477.6 1338.6,487.5 1340.1,491.1" stroke-width="3.2"/>
<path d="M1072.8,439.0 C1086.0,439.6 1129.6,440.2 1151.7,442.6 C1173.9,445.0 1190.6,448.3 1205.6,453.4 C1220.5,458.5 1233.4,463.9 1241.4,473.1 C1249.5,482.4 1251.9,503.0 1254.0,509.0" stroke-width="3.2"/>
<path d="M1072.8,464.2 C1083.0,464.2 1116.2,462.7 1133.8,464.2 C1151.4,465.6 1166.7,469.2 1178.7,473.1 C1190.6,477.0 1199.0,481.5 1205.6,487.5 C1212.1,493.4 1216.0,505.4 1218.1,509.0" stroke-width="3.2"/>
<path d="M1248.6,448.0 C1253.4,450.4 1270.7,456.7 1277.3,462.4 C1283.9,468.0 1286.0,474.3 1288.1,482.1 C1290.2,489.9 1289.6,504.5 1289.9,509.0" stroke-width="3.2"/>
<path d="M1356.4,299.1 C1369.0,307.2 1410.2,331.1 1431.7,347.6 C1453.3,364.0 1468.2,379.2 1485.6,397.8 C1502.9,416.3 1523.2,440.2 1535.8,458.8 C1548.3,477.3 1556.7,500.6 1560.9,509.0" stroke-width="3.8"/>
<path d="M1352.8,311.7 C1363.0,316.2 1394.7,327.5 1413.8,338.6 C1432.9,349.7 1452.7,364.6 1467.6,378.1 C1482.6,391.5 1493.0,403.5 1503.5,419.3 C1514.0,435.2 1522.9,458.2 1530.4,473.1 C1537.9,488.1 1545.4,503.0 1548.3,509.0" stroke-width="2.7"/>
<path d="M1352.8,327.8 C1361.5,331.1 1388.7,338.3 1404.8,347.6 C1421.0,356.8 1437.7,371.5 1449.7,383.4 C1461.6,395.4 1470.0,408.2 1476.6,419.3 C1483.2,430.4 1487.1,444.7 1489.1,449.8" stroke-width="2.2"/>
<path d="M1352.8,344.0 C1358.5,346.1 1377.9,352.3 1386.9,356.5 C1395.9,360.7 1403.3,367.0 1406.6,369.1" stroke-width="2.2"/>
<path d="M1376.1,361.0 C1379.7,363.3 1394.1,372.2 1397.7,374.5" stroke-width="1.3"/>
<path d="M1428.2,374.5 C1431.7,379.0 1444.6,391.5 1449.7,401.4 C1454.8,411.2 1457.2,428.3 1458.7,433.7" stroke-width="1.3"/>
<path d="M1352.8,383.4 C1361.2,387.9 1394.7,405.9 1403.0,410.3" stroke-width="2.2"/>
<path d="M1352.8,405.0 C1360.0,407.4 1382.7,413.3 1395.9,419.3 C1409.0,425.3 1419.8,434.3 1431.7,440.8 C1443.7,447.4 1459.0,455.3 1467.6,458.8 C1476.3,462.2 1481.1,461.0 1483.8,461.5" stroke-width="2.7"/>
<path d="M1352.8,431.9 C1363.0,435.8 1397.7,447.7 1413.8,455.2 C1430.0,462.7 1434.7,467.7 1449.7,476.7 C1464.6,485.7 1494.5,503.6 1503.5,509.0" stroke-width="2.2"/>
<path d="M1365.4,451.6 C1368.1,453.7 1377.6,459.7 1381.5,464.2 C1385.4,468.6 1388.4,473.1 1388.7,478.5 C1389.0,483.9 1384.2,493.4 1383.3,496.4" stroke-width="2.2"/>
<path d="M645.6,494.8 C643.8,500.5 639.0,516.9 634.8,528.9 C630.6,540.9 622.8,560.3 620.4,566.6" stroke-width="2.2"/>
<path d="M663.5,494.8 C660.5,502.9 651.5,528.0 645.6,543.3 C639.6,558.5 633.0,573.7 627.6,586.3 C622.2,598.9 617.8,605.7 613.3,618.6 C608.8,631.4 604.3,647.0 600.7,663.4 C597.1,679.9 594.1,696.3 591.7,717.2 C589.4,738.2 587.3,777.0 586.4,789.0" stroke-width="3.5"/>
<path d="M593.5,566.6 C592.0,573.7 587.6,593.5 584.6,609.6 C581.6,625.8 578.6,645.5 575.6,663.4 C572.6,681.4 569.0,696.3 566.6,717.2 C564.2,738.2 562.2,777.0 561.3,789.0" stroke-width="2.2"/>
<path d="M620.4,602.4 C616.6,611.1 603.4,636.8 597.1,654.5 C590.9,672.1 586.7,685.9 582.8,708.3 C578.9,730.7 575.3,775.5 573.8,789.0" stroke-width="3.5"/>
<path d="M697.6,494.8 C694.0,502.0 682.9,523.8 676.1,537.9 C669.2,551.9 662.9,564.2 656.3,579.1 C649.7,594.1 642.6,612.0 636.6,627.6 C630.6,643.1 624.9,657.5 620.4,672.4 C616.0,687.4 612.7,697.8 609.7,717.2 C606.7,736.7 603.7,777.0 602.5,789.0" stroke-width="2.7"/>
<path d="M731.7,494.8 C728.7,502.0 719.7,524.7 713.7,537.9 C707.7,551.0 701.2,560.3 695.8,573.7 C690.4,587.2 685.0,603.6 681.4,618.6 C677.8,633.5 675.8,646.1 674.3,663.4 C672.8,680.8 672.8,712.8 672.5,722.6" stroke-width="2.7"/>
<path d="M771.1,494.8 C768.7,502.0 761.6,524.7 756.8,537.9 C752.0,551.0 746.3,561.8 742.4,573.7 C738.5,585.7 735.5,596.2 733.5,609.6 C731.4,623.1 729.6,641.0 729.9,654.5 C730.2,667.9 733.5,679.3 735.2,690.3 C737.0,701.4 739.7,715.8 740.6,720.8" stroke-width="2.2"/>
<path d="M807.0,555.8 C804.0,561.8 793.5,579.7 789.1,591.7 C784.6,603.6 782.2,615.6 780.1,627.6 C778.0,639.5 777.1,657.5 776.5,663.4" stroke-width="2.2"/>
<path d="M694.0,645.5 C694.9,650.0 696.1,661.9 699.4,672.4 C702.7,682.9 709.2,696.3 713.7,708.3 C718.2,720.2 721.2,730.7 726.3,744.2 C731.4,757.6 741.2,781.5 744.2,789.0" stroke-width="2.2"/>
<path d="M636.6,702.9 C638.1,706.8 643.2,716.3 645.6,726.2 C648.0,736.1 648.6,751.6 650.9,762.1 C653.3,772.6 658.4,784.5 659.9,789.0" stroke-width="1.7"/>
<path d="M681.4,751.3 C684.4,753.1 693.4,755.8 699.4,762.1 C705.4,768.4 714.3,784.5 717.3,789.0" stroke-width="1.7"/>
<path d="M776.5,699.3 C777.7,703.8 780.7,717.2 783.7,726.2 C786.7,735.2 790.6,746.2 794.4,753.1 C798.3,760.0 804.9,765.1 807.0,767.5" stroke-width="2.2"/>
<path d="M835.9,494.8 C832.9,500.5 825.1,517.5 817.9,528.9 C810.8,540.3 797.0,557.3 792.8,563.0" stroke-width="2.2"/>
<path d="M916.6,494.8 C911.5,499.6 895.7,513.4 886.1,523.5 C876.5,533.7 866.7,544.5 859.2,555.8 C851.7,567.2 845.7,578.2 841.3,591.7 C836.8,605.1 833.2,623.1 832.3,636.5 C831.4,650.0 833.8,662.5 835.9,672.4 C838.0,682.3 839.5,687.9 844.8,695.7 C850.2,703.5 864.3,715.2 868.2,719.0" stroke-width="2.7"/>
<path d="M981.2,494.8 C974.9,499.3 955.8,512.2 943.5,521.7 C931.2,531.3 918.1,541.2 907.6,552.2 C897.2,563.3 887.3,575.5 880.7,588.1 C874.1,600.7 869.7,615.9 868.2,627.6 C866.7,639.2 869.4,649.1 871.7,658.1 C874.1,667.0 880.7,677.5 882.5,681.4" stroke-width="2.7"/>
<path d="M950.7,568.4 C948.0,572.3 938.4,583.3 934.5,591.7 C930.6,600.1 928.0,609.6 927.4,618.6 C926.8,627.6 928.3,638.0 930.9,645.5 C933.6,653.0 938.4,658.4 943.5,663.4 C948.6,668.5 954.0,673.3 961.4,676.0 C968.9,678.7 979.4,679.9 988.3,679.6 C997.3,679.3 1006.3,677.8 1015.2,674.2 C1024.2,670.6 1033.8,663.4 1042.2,658.1 C1050.5,652.7 1058.0,646.4 1065.5,641.9 C1072.9,637.4 1083.4,632.9 1087.0,631.1" stroke-width="5.0"/>
<path d="M1087.0,507.4 C1078.0,510.1 1048.1,518.4 1033.2,523.5 C1018.2,528.6 1007.2,532.8 997.3,537.9 C987.4,543.0 977.9,551.3 974.0,554.0" stroke-width="3.2"/>
<path d="M1087.0,528.9 C1081.0,530.1 1060.7,533.4 1051.1,536.1 C1041.6,538.8 1037.1,541.2 1029.6,545.0 C1022.1,548.9 1013.2,554.0 1006.3,559.4 C999.4,564.8 994.0,570.5 988.3,577.3 C982.7,584.2 975.8,592.9 972.2,600.7 C968.6,608.4 967.1,617.1 966.8,624.0 C966.5,630.8 968.3,637.1 970.4,641.9 C972.5,646.7 977.9,650.9 979.4,652.7" stroke-width="3.2"/>
<path d="M1087.0,600.7 C1082.5,602.7 1068.2,609.3 1060.1,613.2 C1052.0,617.1 1044.5,621.9 1038.6,624.0 C1032.6,626.1 1028.7,626.7 1024.2,625.8 C1019.7,624.9 1013.8,619.8 1011.7,618.6" stroke-width="2.7"/>
<path d="M1087.0,685.0 C1081.0,688.8 1063.1,701.1 1051.1,708.3 C1039.2,715.5 1027.2,722.0 1015.2,728.0 C1003.3,734.0 991.3,739.1 979.4,744.2 C967.4,749.2 955.5,754.0 943.5,758.5 C931.5,763.0 918.1,766.0 907.6,771.1 C897.2,776.1 885.2,786.0 880.7,789.0" stroke-width="8.4"/>
<path d="M1087.0,724.4 C1081.0,728.3 1061.6,740.9 1051.1,747.7 C1040.7,754.6 1031.7,758.8 1024.2,765.7 C1016.7,772.6 1009.3,785.1 1006.3,789.0" stroke-width="8.4"/>
<path d="M1087.0,765.7 C1083.4,769.6 1069.1,785.1 1065.5,789.0" stroke-width="6.6"/>
<path d="M896.9,716.3 C904.6,716.8 928.0,718.9 943.5,719.0 C959.0,719.2 982.4,717.5 990.1,717.2" stroke-width="2.7"/>
<path d="M792.8,753.1 C797.0,756.1 812.3,765.1 817.9,771.1 C823.6,777.0 825.4,786.0 826.9,789.0" stroke-width="2.2"/>
<path d="M1072.8,507.4 C1080.0,507.1 1104.2,504.7 1115.9,505.6 C1127.5,506.5 1135.3,509.2 1142.8,512.8 C1150.3,516.3 1156.8,521.4 1160.7,527.1 C1164.6,532.8 1166.7,539.7 1166.1,546.8 C1165.5,554.0 1162.5,562.1 1157.1,570.2 C1151.7,578.2 1142.2,587.5 1133.8,595.3 C1125.4,603.0 1117.1,609.9 1106.9,616.8 C1096.7,623.7 1078.5,633.2 1072.8,636.5" stroke-width="5.6"/>
<path d="M1072.8,532.5 C1078.5,531.9 1098.2,528.3 1106.9,528.9 C1115.6,529.5 1120.7,531.9 1124.8,536.1 C1129.0,540.3 1130.8,551.0 1132.0,554.0" stroke-width="3.2"/>
<path d="M1072.8,588.1 C1075.5,586.3 1085.1,580.3 1089.0,577.3 C1092.9,574.3 1094.9,571.4 1096.1,570.2" stroke-width="2.2"/>
<path d="M1219.9,494.8 C1220.2,499.9 1223.5,516.1 1221.7,525.3 C1219.9,534.6 1214.8,542.4 1209.1,550.4 C1203.5,558.5 1193.6,568.1 1187.6,573.7 C1181.6,579.4 1175.7,582.7 1173.3,584.5" stroke-width="4.3"/>
<path d="M1255.8,494.8 C1255.2,498.4 1253.4,511.3 1252.2,516.3 C1251.0,521.4 1249.2,523.8 1248.6,525.3" stroke-width="2.2"/>
<path d="M1331.1,494.8 C1325.1,500.5 1310.2,517.2 1295.2,528.9 C1280.3,540.6 1259.4,552.5 1241.4,564.8 C1223.5,577.0 1205.6,589.6 1187.6,602.4 C1169.7,615.3 1152.9,628.5 1133.8,641.9 C1114.7,655.4 1083.0,676.3 1072.8,683.2" stroke-width="6.3"/>
<path d="M1367.0,536.1 C1359.5,538.5 1340.1,542.7 1322.2,550.4 C1304.2,558.2 1278.8,571.7 1259.4,582.7 C1239.9,593.8 1223.5,604.8 1205.6,616.8 C1187.6,628.8 1169.7,641.9 1151.7,654.5 C1133.8,667.0 1111.1,683.5 1097.9,692.1 C1084.8,700.8 1077.0,704.1 1072.8,706.5" stroke-width="6.9"/>
<path d="M1367.0,564.8 C1358.0,566.6 1331.1,569.3 1313.2,575.5 C1295.2,581.8 1277.3,592.6 1259.4,602.4 C1241.4,612.3 1223.5,623.1 1205.6,634.7 C1187.6,646.4 1169.7,659.2 1151.7,672.4 C1133.8,685.6 1111.1,704.1 1097.9,713.7 C1084.8,723.2 1077.0,727.1 1072.8,729.8" stroke-width="10.0"/>
<path d="M1367.0,597.1 C1359.5,598.0 1340.1,596.8 1322.2,602.4 C1304.2,608.1 1278.8,620.4 1259.4,631.1 C1239.9,641.9 1223.5,654.8 1205.6,667.0 C1187.6,679.3 1169.7,690.9 1151.7,704.7 C1133.8,718.4 1111.1,739.4 1097.9,749.5 C1084.8,759.7 1077.0,763.0 1072.8,765.7" stroke-width="10.0"/>
<path d="M1367.0,631.1 C1358.0,632.9 1331.1,635.6 1313.2,641.9 C1295.2,648.2 1277.3,658.4 1259.4,668.8 C1241.4,679.3 1223.5,691.8 1205.6,704.7 C1187.6,717.5 1168.2,731.9 1151.7,745.9 C1135.3,760.0 1114.4,781.8 1106.9,789.0" stroke-width="8.4"/>
<path d="M1367.0,663.4 C1358.0,664.3 1331.1,663.4 1313.2,668.8 C1295.2,674.2 1275.8,686.2 1259.4,695.7 C1242.9,705.3 1229.5,715.2 1214.5,726.2 C1199.6,737.3 1180.7,751.6 1169.7,762.1 C1158.6,772.6 1151.7,784.5 1148.2,789.0" stroke-width="7.7"/>
<path d="M1367.0,695.7 C1358.0,696.3 1329.6,695.1 1313.2,699.3 C1296.7,703.5 1281.8,712.5 1268.3,720.8 C1254.9,729.2 1242.9,738.2 1232.5,749.5 C1222.0,760.9 1210.0,782.4 1205.6,789.0" stroke-width="5.6"/>
<path d="M1320.4,749.5 C1316.2,751.0 1303.0,754.3 1295.2,758.5 C1287.5,762.7 1278.8,769.6 1273.7,774.6 C1268.6,779.7 1266.2,786.6 1264.8,789.0" stroke-width="2.7"/>
<path d="M1345.5,756.7 C1347.0,759.1 1350.9,765.7 1354.4,771.1 C1358.0,776.4 1364.9,786.0 1367.0,789.0" stroke-width="2.2"/>
<path d="M1352.8,537.9 C1361.5,538.0 1390.2,537.7 1404.8,538.8 C1419.5,539.8 1434.7,543.3 1440.7,544.2" stroke-width="5.6"/>
<path d="M1352.8,564.8 C1358.5,564.6 1376.7,563.0 1386.9,563.9 C1397.1,564.8 1409.3,569.1 1413.8,570.2" stroke-width="6.9"/>
<path d="M1467.6,554.0 C1472.4,557.0 1488.0,565.1 1496.3,572.0 C1504.7,578.8 1510.7,586.0 1517.8,595.3 C1525.0,604.5 1532.8,616.2 1539.4,627.6 C1545.9,638.9 1552.2,648.5 1557.3,663.4 C1562.4,678.4 1567.2,696.3 1569.9,717.2 C1572.6,738.2 1572.9,777.0 1573.5,789.0" stroke-width="6.3"/>
<path d="M1503.5,543.3 C1509.5,548.3 1528.0,559.1 1539.4,573.7 C1550.7,588.4 1566.3,621.6 1571.7,631.1" stroke-width="2.7"/>
<path d="M1438.9,580.9 C1444.9,583.9 1464.6,591.7 1474.8,598.9 C1485.0,606.0 1492.7,614.7 1499.9,624.0 C1507.1,633.2 1512.5,643.4 1517.8,654.5 C1523.2,665.5 1528.6,676.9 1532.2,690.3 C1535.8,703.8 1537.9,718.7 1539.4,735.2 C1540.9,751.6 1540.9,780.0 1541.2,789.0" stroke-width="12.4"/>
<path d="M1485.6,641.9 C1488.6,647.0 1498.1,659.8 1503.5,672.4 C1508.9,685.0 1514.9,697.8 1517.8,717.2 C1520.8,736.7 1520.8,777.0 1521.4,789.0" stroke-width="12.4"/>
<path d="M1352.8,600.7 C1363.0,601.9 1397.7,602.1 1413.8,607.8 C1430.0,613.5 1439.2,624.0 1449.7,634.7 C1460.1,645.5 1469.1,658.7 1476.6,672.4 C1484.1,686.2 1490.0,697.8 1494.5,717.2 C1499.0,736.7 1502.0,777.0 1503.5,789.0" stroke-width="13.0"/>
<path d="M1352.8,631.1 C1361.5,632.3 1390.2,632.9 1404.8,638.3 C1419.5,643.7 1430.9,653.3 1440.7,663.4 C1450.6,673.6 1458.4,685.9 1464.0,699.3 C1469.7,712.8 1472.7,729.2 1474.8,744.2 C1476.9,759.1 1476.3,781.5 1476.6,789.0" stroke-width="8.4"/>
<path d="M1352.8,663.4 C1360.0,664.3 1384.2,664.3 1395.9,668.8 C1407.5,673.3 1415.3,680.8 1422.8,690.3 C1430.3,699.9 1437.1,709.8 1440.7,726.2 C1444.3,742.7 1443.7,778.5 1444.3,789.0" stroke-width="11.8"/>
<path d="M1352.8,697.5 C1358.5,698.7 1378.2,699.9 1386.9,704.7 C1395.6,709.5 1400.4,718.1 1404.8,726.2 C1409.3,734.3 1412.9,742.7 1413.8,753.1 C1414.7,763.6 1410.8,783.0 1410.2,789.0" stroke-width="10.7"/>
<path d="M1598.6,658.1 C1599.8,661.3 1604.2,670.9 1605.7,677.8 C1607.2,684.7 1607.2,695.7 1607.5,699.3" stroke-width="2.2"/>
<path d="M557.7,774.8 C557.4,785.0 555.0,813.7 555.9,835.8 C556.8,857.9 559.2,883.6 563.0,907.6 C566.9,931.5 572.3,959.0 579.2,979.3 C586.1,999.6 596.5,1016.2 604.3,1029.5 C612.1,1042.8 622.2,1054.2 625.8,1059.1" stroke-width="5.0"/>
<path d="M572.0,774.8 C571.9,785.0 570.2,813.7 571.1,835.8 C572.0,857.9 573.4,883.6 577.4,907.6 C581.4,931.5 588.5,959.9 595.3,979.3 C602.2,998.7 610.6,1010.7 618.7,1024.2 C626.7,1037.6 639.6,1054.0 643.8,1060.0" stroke-width="4.3"/>
<path d="M584.6,774.8 C584.6,785.0 583.7,813.7 584.6,835.8 C585.5,857.9 585.8,883.6 590.0,907.6 C594.1,931.5 603.1,961.1 609.7,979.3 C616.3,997.5 621.6,1004.1 629.4,1017.0 C637.2,1029.8 651.8,1049.9 656.3,1056.4" stroke-width="5.6"/>
<path d="M598.9,774.8 C598.9,788.0 597.7,828.6 598.9,853.7 C600.1,878.9 601.9,904.6 606.1,925.5 C610.3,946.4 617.8,964.7 624.0,979.3 C630.3,994.0 634.8,1000.8 643.8,1013.4 C652.7,1025.9 672.2,1047.8 677.8,1054.6" stroke-width="6.3"/>
<path d="M807.0,932.7 C801.0,930.9 783.7,927.3 771.1,921.9 C758.6,916.5 743.6,908.8 731.7,900.4 C719.7,892.0 707.7,878.9 699.4,871.7 C691.0,864.5 687.4,863.0 681.4,857.3 C675.5,851.7 669.5,843.3 663.5,837.6 C657.5,831.9 650.9,826.5 645.6,823.3 C640.2,820.0 635.4,815.8 631.2,817.9 C627.0,820.0 623.1,826.8 620.4,835.8 C617.8,844.8 615.7,856.7 615.1,871.7 C614.5,886.6 614.2,907.6 616.9,925.5 C619.6,943.4 624.6,964.4 631.2,979.3 C637.8,994.3 646.5,1003.2 656.3,1015.2 C666.2,1027.1 684.7,1045.1 690.4,1051.1" stroke-width="3.8"/>
<path d="M704.8,912.9 C700.9,910.6 688.3,901.7 681.4,898.6 C674.6,895.5 668.6,893.2 663.5,894.1 C658.4,895.0 653.6,898.7 650.9,904.0 C648.3,909.2 647.7,917.4 647.4,925.5 C647.1,933.6 647.7,944.0 649.1,952.4 C650.6,960.8 653.6,969.4 656.3,975.7 C659.0,982.0 663.8,987.7 665.3,990.1" stroke-width="3.2"/>
<path d="M807.0,893.2 C799.5,891.4 774.1,887.8 762.2,882.4 C750.2,877.1 742.7,867.8 735.2,860.9 C727.8,854.0 722.1,846.6 717.3,841.2 C712.5,835.8 710.4,833.1 706.5,828.6 C702.7,824.2 698.8,823.3 694.0,814.3 C689.2,805.3 680.5,781.4 677.8,774.8" stroke-width="3.2"/>
<path d="M807.0,999.0 C798.0,997.5 767.2,991.3 753.2,990.1 C739.1,988.9 728.7,987.7 722.7,991.9 C716.7,996.1 717.6,1006.8 717.3,1015.2 C717.0,1023.6 719.1,1033.1 720.9,1042.1 C722.7,1051.1 726.9,1064.5 728.1,1069.0" stroke-width="3.2"/>
<path d="M771.1,966.8 C765.1,964.4 745.7,956.9 735.2,952.4 C724.8,947.9 716.4,942.8 708.3,939.8 C700.3,936.9 692.2,933.9 686.8,934.5 C681.4,935.1 678.1,936.0 676.1,943.4 C674.0,950.9 673.4,967.4 674.3,979.3 C675.2,991.3 677.8,1003.2 681.4,1015.2 C685.0,1027.1 692.2,1042.1 695.8,1051.1 C699.4,1060.0 701.8,1066.0 703.0,1069.0" stroke-width="3.2"/>
<path d="M778.3,1024.2 C776.5,1026.2 769.6,1031.6 767.5,1036.7 C765.4,1041.8 765.4,1049.3 765.7,1054.6 C766.0,1060.0 768.7,1066.6 769.3,1069.0" stroke-width="2.2"/>
<path d="M742.4,774.8 C744.2,780.5 748.4,798.7 753.2,808.9 C758.0,819.1 765.1,827.1 771.1,835.8 C777.1,844.5 786.1,856.7 789.1,860.9" stroke-width="3.2"/>
<path d="M717.3,774.8 C718.8,778.4 721.8,787.7 726.3,796.3 C730.8,805.0 738.2,817.9 744.2,826.8 C750.2,835.8 756.2,844.2 762.2,850.2 C768.1,856.1 777.1,860.6 780.1,862.7" stroke-width="3.2"/>
<path d="M817.9,774.8 C820.9,776.9 829.9,784.7 835.9,787.4 C841.9,790.1 847.8,791.0 853.8,791.0 C859.8,791.0 865.8,790.1 871.7,787.4 C877.7,784.7 886.7,776.9 889.7,774.8" stroke-width="3.8"/>
<path d="M792.8,839.4 C797.0,840.6 809.6,844.5 817.9,846.6 C826.3,848.7 838.9,851.1 843.0,852.0" stroke-width="3.2"/>
<path d="M792.8,895.0 C800.0,894.9 824.2,895.3 835.9,894.1 C847.5,892.9 858.3,888.9 862.8,887.8" stroke-width="2.7"/>
<path d="M792.8,938.1 C798.5,938.7 815.2,941.9 826.9,941.6 C838.6,941.3 852.3,939.5 862.8,936.3 C873.2,933.0 881.6,927.3 889.7,921.9 C897.8,916.5 904.6,910.8 911.2,904.0 C917.8,897.1 923.2,889.0 929.1,880.7 C935.1,872.3 941.7,861.2 947.1,853.7 C952.5,846.3 956.1,842.1 961.4,835.8 C966.8,829.5 973.4,822.1 979.4,816.1 C985.4,810.1 991.3,804.7 997.3,799.9 C1003.3,795.2 1010.8,791.6 1015.2,787.4 C1019.7,783.2 1022.7,776.9 1024.2,774.8" stroke-width="5.6"/>
<path d="M886.1,835.8 C888.2,834.3 893.6,830.7 898.7,826.8 C903.7,823.0 910.6,817.6 916.6,812.5 C922.6,807.4 929.4,802.6 934.5,796.3 C939.6,790.1 945.0,778.4 947.1,774.8" stroke-width="4.3"/>
<path d="M918.4,961.4 C921.4,958.4 930.6,950.9 936.3,943.4 C942.0,936.0 947.7,925.5 952.5,916.5 C957.2,907.6 960.5,898.6 965.0,889.6 C969.5,880.7 974.0,872.6 979.4,862.7 C984.8,852.9 994.3,835.8 997.3,830.4" stroke-width="6.3"/>
<path d="M972.2,981.1 C974.6,976.3 982.1,963.2 986.5,952.4 C991.0,941.6 995.2,928.5 999.1,916.5 C1003.0,904.6 1005.7,891.7 1009.9,880.7 C1014.1,869.6 1019.7,859.1 1024.2,850.2 C1028.7,841.2 1032.3,834.6 1036.8,826.8 C1041.3,819.1 1045.7,812.2 1051.1,803.5 C1056.5,794.9 1066.1,779.6 1069.1,774.8" stroke-width="5.6"/>
<path d="M1022.4,1022.4 C1023.3,1015.2 1026.0,994.0 1027.8,979.3 C1029.6,964.7 1031.1,949.4 1033.2,934.5 C1035.3,919.5 1038.0,903.7 1040.4,889.6 C1042.8,875.6 1046.3,856.7 1047.5,850.2" stroke-width="5.6"/>
<path d="M1065.5,945.2 C1065.2,939.0 1063.1,921.3 1063.7,907.6 C1064.3,893.8 1065.2,876.8 1069.1,862.7 C1072.9,848.7 1084.0,829.8 1087.0,823.3" stroke-width="5.6"/>
<path d="M792.8,999.0 C800.0,999.6 822.7,1003.2 835.9,1002.6 C849.0,1002.0 861.0,997.5 871.7,995.5 C882.5,993.4 895.7,991.0 900.4,990.1" stroke-width="3.2"/>
<path d="M932.7,1027.7 C927.1,1029.8 908.8,1035.8 898.7,1040.3 C888.5,1044.8 879.2,1049.9 871.7,1054.6 C864.3,1059.4 856.8,1066.6 853.8,1069.0" stroke-width="3.2"/>
<path d="M979.4,1006.2 C976.4,1010.1 967.4,1022.7 961.4,1029.5 C955.5,1036.4 948.0,1040.9 943.5,1047.5 C939.0,1054.0 936.0,1065.4 934.5,1069.0" stroke-width="3.8"/>
<path d="M993.7,1043.9 C992.5,1048.1 987.7,1064.8 986.5,1069.0" stroke-width="2.7"/>
<path d="M1056.5,1000.8 C1057.1,1006.2 1058.6,1021.8 1060.1,1033.1 C1061.6,1044.5 1064.6,1063.0 1065.5,1069.0" stroke-width="4.3"/>
<path d="M1027.8,1052.9 C1027.2,1055.5 1024.8,1066.3 1024.2,1069.0" stroke-width="2.7"/>
<path d="M1072.8,844.8 C1077.0,839.7 1090.8,825.9 1097.9,814.3 C1105.1,802.6 1112.9,781.4 1115.9,774.8" stroke-width="6.9"/>
<path d="M1155.3,774.8 C1151.7,780.5 1139.8,797.2 1133.8,808.9 C1127.8,820.6 1122.8,832.8 1119.5,844.8 C1116.2,856.7 1114.7,870.2 1114.1,880.7 C1113.5,891.1 1114.7,900.1 1115.9,907.6 C1117.1,915.0 1120.4,922.5 1121.3,925.5" stroke-width="6.9"/>
<path d="M1194.8,774.8 C1191.5,780.5 1180.4,798.7 1175.1,808.9 C1169.7,819.1 1165.5,826.8 1162.5,835.8 C1159.5,844.8 1157.4,853.7 1157.1,862.7 C1156.8,871.7 1160.1,885.1 1160.7,889.6" stroke-width="5.6"/>
<path d="M1227.1,774.8 C1224.4,779.6 1214.8,794.9 1210.9,803.5 C1207.1,812.2 1205.3,819.1 1203.8,826.8 C1202.3,834.6 1201.1,842.7 1202.0,850.2 C1202.9,857.6 1205.6,865.4 1209.1,871.7 C1212.7,878.0 1218.1,883.3 1223.5,887.8 C1228.9,892.3 1235.5,896.5 1241.4,898.6 C1247.4,900.7 1251.3,901.3 1259.4,900.4 C1267.4,899.5 1284.8,894.4 1289.9,893.2" stroke-width="3.2"/>
<path d="M1268.3,774.8 C1266.5,778.4 1260.3,791.3 1257.6,796.3 C1254.9,801.4 1253.1,803.8 1252.2,805.3" stroke-width="2.7"/>
<path d="M1322.2,810.7 C1320.7,813.4 1317.7,822.4 1313.2,826.8 C1308.7,831.3 1299.7,835.5 1295.2,837.6 C1290.8,839.7 1287.8,839.1 1286.3,839.4" stroke-width="2.7"/>
<path d="M1243.2,828.6 C1243.8,831.6 1244.1,841.2 1246.8,846.6 C1249.5,852.0 1254.3,857.3 1259.4,860.9 C1264.5,864.5 1269.8,867.8 1277.3,868.1 C1284.8,868.4 1295.2,866.6 1304.2,862.7 C1313.2,858.8 1323.6,851.7 1331.1,844.8 C1338.6,837.9 1344.6,828.9 1349.1,821.5 C1353.5,814.0 1355.9,807.7 1358.0,799.9 C1360.1,792.2 1361.0,779.0 1361.6,774.8" stroke-width="3.2"/>
<path d="M1178.7,921.9 C1181.6,924.9 1189.1,934.5 1196.6,939.8 C1204.1,945.2 1216.0,950.9 1223.5,954.2 C1231.0,957.5 1234.0,959.0 1241.4,959.6 C1248.9,960.2 1259.4,959.6 1268.3,957.8 C1277.3,956.0 1286.3,952.7 1295.2,948.8 C1304.2,944.9 1313.8,940.1 1322.2,934.5 C1330.5,928.8 1338.0,921.6 1345.5,914.7 C1352.9,907.9 1363.4,896.8 1367.0,893.2" stroke-width="5.6"/>
<path d="M1133.8,954.2 C1136.8,958.4 1144.3,971.2 1151.7,979.3 C1159.2,987.4 1169.7,996.6 1178.7,1002.6 C1187.6,1008.6 1196.6,1012.8 1205.6,1015.2 C1214.5,1017.6 1223.5,1018.2 1232.5,1017.0 C1241.4,1015.8 1250.4,1011.9 1259.4,1008.0 C1268.3,1004.1 1277.3,999.3 1286.3,993.7 C1295.2,988.0 1304.2,980.8 1313.2,973.9 C1322.2,967.1 1331.1,959.3 1340.1,952.4 C1349.1,945.5 1362.5,936.0 1367.0,932.7" stroke-width="5.6"/>
<path d="M1090.8,912.9 C1092.0,919.5 1094.6,939.8 1097.9,952.4 C1101.2,965.0 1105.1,976.9 1110.5,988.3 C1115.9,999.6 1123.3,1011.3 1130.2,1020.6 C1137.1,1029.8 1143.7,1037.9 1151.7,1043.9 C1159.8,1049.9 1169.7,1054.3 1178.7,1056.4 C1187.6,1058.5 1198.1,1057.3 1205.6,1056.4 C1213.0,1055.5 1220.5,1052.0 1223.5,1051.1" stroke-width="5.6"/>
<path d="M1072.8,979.3 C1075.8,985.3 1086.0,1004.7 1090.8,1015.2 C1095.5,1025.6 1097.3,1033.1 1101.5,1042.1 C1105.7,1051.1 1113.5,1064.5 1115.9,1069.0" stroke-width="5.6"/>
<path d="M1241.4,1069.0 C1245.9,1065.1 1259.4,1052.3 1268.3,1045.7 C1277.3,1039.1 1286.3,1035.5 1295.2,1029.5 C1304.2,1023.6 1313.2,1017.0 1322.2,1009.8 C1331.1,1002.6 1341.6,992.5 1349.1,986.5 C1356.5,980.5 1364.0,976.0 1367.0,973.9" stroke-width="7.7"/>
<path d="M1304.2,1069.0 C1308.7,1064.5 1320.7,1051.1 1331.1,1042.1 C1341.6,1033.1 1361.0,1019.7 1367.0,1015.2" stroke-width="10.0"/>
<path d="M1345.5,1069.0 C1349.1,1065.7 1363.4,1052.6 1367.0,1049.3" stroke-width="10.0"/>
<path d="M1412.0,774.8 C1410.5,782.0 1407.2,805.3 1403.0,817.9 C1398.9,830.4 1392.6,840.0 1386.9,850.2 C1381.2,860.3 1374.6,871.7 1369.0,878.9 C1363.3,886.0 1355.5,890.8 1352.8,893.2" stroke-width="11.8"/>
<path d="M1442.5,774.8 C1441.3,782.0 1439.2,804.7 1435.3,817.9 C1431.4,831.0 1425.2,842.4 1419.2,853.7 C1413.2,865.1 1406.3,875.9 1399.5,886.0 C1392.6,896.2 1385.7,906.4 1377.9,914.7 C1370.2,923.1 1357.0,932.7 1352.8,936.3" stroke-width="12.4"/>
<path d="M1469.4,774.8 C1468.2,783.5 1466.1,811.6 1462.2,826.8 C1458.4,842.1 1452.7,853.4 1446.1,866.3 C1439.5,879.2 1431.2,892.0 1422.8,904.0 C1414.4,915.9 1404.8,927.6 1395.9,938.1 C1386.9,948.5 1376.1,959.6 1369.0,966.8 C1361.8,973.9 1355.5,978.7 1352.8,981.1" stroke-width="14.2"/>
<path d="M1503.5,774.8 C1502.6,782.0 1501.1,803.8 1498.1,817.9 C1495.1,831.9 1490.6,845.7 1485.6,859.1 C1480.5,872.6 1474.5,886.0 1467.6,898.6 C1460.7,911.1 1453.3,922.5 1444.3,934.5 C1435.3,946.4 1423.4,959.9 1413.8,970.3 C1404.2,980.8 1397.1,988.3 1386.9,997.2 C1376.7,1006.2 1358.5,1019.7 1352.8,1024.2" stroke-width="14.2"/>
<path d="M1519.6,774.8 C1518.7,783.5 1517.5,811.3 1514.3,826.8 C1511.0,842.4 1505.9,854.0 1499.9,868.1 C1493.9,882.1 1486.2,897.7 1478.4,911.1 C1470.6,924.6 1462.5,936.9 1453.3,948.8 C1444.0,960.8 1432.3,972.7 1422.8,982.9 C1413.2,993.1 1407.5,999.3 1395.9,1009.8 C1384.2,1020.3 1360.0,1039.7 1352.8,1045.7" stroke-width="10.7"/>
<path d="M1537.6,774.8 C1536.4,785.0 1534.3,818.2 1530.4,835.8 C1526.5,853.4 1521.1,865.7 1514.3,880.7 C1507.4,895.6 1498.1,912.0 1489.1,925.5 C1480.2,939.0 1470.0,950.0 1460.4,961.4 C1450.9,972.7 1441.0,983.5 1431.7,993.7 C1422.5,1003.8 1413.8,1013.4 1404.8,1022.4 C1395.9,1031.3 1386.6,1039.7 1377.9,1047.5 C1369.3,1055.2 1357.0,1065.4 1352.8,1069.0" stroke-width="10.7"/>
<path d="M1569.9,774.8 C1568.4,785.0 1565.1,818.2 1560.9,835.8 C1556.7,853.4 1551.3,865.7 1544.8,880.7 C1538.2,895.6 1529.8,912.0 1521.4,925.5 C1513.1,939.0 1503.5,949.4 1494.5,961.4 C1485.6,973.3 1476.6,985.9 1467.6,997.2 C1458.7,1008.6 1449.7,1017.6 1440.7,1029.5 C1431.7,1041.5 1418.3,1062.4 1413.8,1069.0" stroke-width="10.7"/>
<path d="M1591.4,823.3 C1588.7,831.3 1581.5,856.1 1575.2,871.7 C1569.0,887.2 1560.3,900.7 1553.7,916.5 C1547.1,932.4 1538.8,958.4 1535.8,966.8" stroke-width="3.2"/>
<path d="M1566.3,934.5 C1563.3,937.5 1553.4,947.0 1548.3,952.4 C1543.3,957.8 1537.9,964.4 1535.8,966.8" stroke-width="3.2"/>
<path d="M1591.4,893.2 C1591.7,901.6 1594.1,926.1 1593.2,943.4 C1592.3,960.8 1589.6,980.8 1586.0,997.2 C1582.4,1013.7 1574.9,1030.1 1571.7,1042.1 C1568.4,1054.0 1567.2,1064.5 1566.3,1069.0" stroke-width="2.2"/>
<path d="M1641.6,826.8 C1638.9,840.3 1630.6,885.1 1625.5,907.6 C1620.4,930.0 1616.5,943.4 1611.1,961.4 C1605.7,979.3 1598.3,997.2 1593.2,1015.2 C1588.1,1033.1 1582.7,1060.0 1580.6,1069.0" stroke-width="3.8"/>
<path d="M1539.4,1004.4 C1533.4,1007.7 1512.5,1017.9 1503.5,1024.2 C1494.5,1030.4 1488.6,1039.1 1485.6,1042.1" stroke-width="2.7"/>
<path d="M1603.9,975.7 C1601.0,983.8 1590.8,1008.6 1586.0,1024.2 C1581.2,1039.7 1577.0,1061.5 1575.2,1069.0" stroke-width="3.2"/>
<path d="M620.4,1054.8 C627.6,1065.0 647.4,1098.2 663.5,1115.8 C679.6,1133.4 699.4,1147.2 717.3,1160.7 C735.2,1174.1 756.2,1187.0 771.1,1196.5 C786.1,1206.1 801.0,1214.5 807.0,1218.1" stroke-width="3.2"/>
<path d="M642.0,1054.8 C648.6,1062.9 665.9,1088.0 681.4,1103.3 C697.0,1118.5 717.3,1132.6 735.2,1146.3 C753.2,1160.1 780.1,1179.2 789.1,1185.8" stroke-width="5.6"/>
<path d="M656.3,1054.8 C663.5,1062.9 683.2,1088.6 699.4,1103.3 C715.5,1117.9 735.2,1129.9 753.2,1142.7 C771.1,1155.5 798.0,1173.8 807.0,1180.0" stroke-width="6.9"/>
<path d="M688.6,1054.8 C694.9,1061.4 712.5,1081.7 726.3,1094.3 C740.0,1106.8 757.7,1121.2 771.1,1130.2 C784.6,1139.1 801.0,1145.1 807.0,1148.1" stroke-width="7.7"/>
<path d="M738.8,1054.8 C742.7,1060.5 754.7,1080.2 762.2,1088.9 C769.6,1097.6 776.2,1101.8 783.7,1106.8 C791.2,1111.9 803.1,1117.3 807.0,1119.4" stroke-width="4.3"/>
<path d="M706.5,1175.0 C714.3,1177.7 736.4,1183.7 753.2,1191.1 C769.9,1198.6 798.0,1215.1 807.0,1219.8" stroke-width="2.2"/>
<path d="M792.8,1067.4 C798.5,1073.4 815.2,1092.2 826.9,1103.3 C838.6,1114.3 850.8,1125.7 862.8,1133.7 C874.7,1141.8 885.2,1146.3 898.7,1151.7 C912.1,1157.1 928.6,1161.3 943.5,1166.0 C958.4,1170.8 980.9,1178.0 988.3,1180.4" stroke-width="4.3"/>
<path d="M837.7,1094.3 C837.4,1091.9 834.7,1084.4 835.9,1079.9 C837.1,1075.5 841.3,1071.6 844.8,1067.4 C848.4,1063.2 855.3,1056.9 857.4,1054.8" stroke-width="2.7"/>
<path d="M934.5,1054.8 C930.6,1059.0 916.9,1072.2 911.2,1079.9 C905.5,1087.7 901.0,1094.6 900.4,1101.5 C899.9,1108.3 902.8,1115.2 907.6,1121.2 C912.4,1127.2 920.2,1132.3 929.1,1137.3 C938.1,1142.4 950.1,1147.5 961.4,1151.7 C972.8,1155.9 983.9,1159.2 997.3,1162.4 C1010.8,1165.7 1027.2,1169.3 1042.2,1171.4 C1057.1,1173.5 1079.5,1174.4 1087.0,1175.0" stroke-width="4.3"/>
<path d="M988.3,1054.8 C986.5,1059.0 980.0,1071.9 977.6,1079.9 C975.2,1088.0 973.7,1096.7 974.0,1103.3 C974.3,1109.8 975.5,1114.3 979.4,1119.4 C983.3,1124.5 989.8,1129.3 997.3,1133.7 C1004.8,1138.2 1015.8,1143.0 1024.2,1146.3 C1032.6,1149.6 1043.6,1152.3 1047.5,1153.5" stroke-width="3.2"/>
<path d="M1027.8,1054.8 C1027.2,1062.0 1023.3,1087.7 1024.2,1097.9 C1025.1,1108.0 1028.7,1111.0 1033.2,1115.8 C1037.7,1120.6 1042.2,1123.3 1051.1,1126.6 C1060.1,1129.9 1081.0,1134.0 1087.0,1135.5" stroke-width="3.2"/>
<path d="M1061.9,1054.8 C1063.1,1058.4 1064.9,1067.7 1069.1,1076.3 C1073.2,1085.0 1084.0,1101.8 1087.0,1106.8" stroke-width="3.2"/>
<path d="M792.8,1114.0 C800.0,1118.8 821.2,1133.4 835.9,1142.7 C850.5,1152.0 865.8,1162.4 880.7,1169.6 C895.7,1176.8 909.1,1181.3 925.6,1185.8 C942.0,1190.3 961.4,1193.8 979.4,1196.5 C997.3,1199.2 1015.2,1201.0 1033.2,1201.9 C1051.1,1202.8 1078.0,1201.9 1087.0,1201.9" stroke-width="8.4"/>
<path d="M792.8,1155.3 C801.5,1160.1 828.7,1175.9 844.8,1184.0 C861.0,1192.0 873.2,1197.7 889.7,1203.7 C906.1,1209.7 925.6,1215.4 943.5,1219.8 C961.4,1224.3 979.4,1228.2 997.3,1230.6 C1015.2,1233.0 1036.2,1233.9 1051.1,1234.2 C1066.1,1234.5 1081.0,1232.7 1087.0,1232.4" stroke-width="10.0"/>
<path d="M792.8,1180.4 C803.0,1185.2 834.7,1200.4 853.8,1209.1 C872.9,1217.8 889.7,1225.5 907.6,1232.4 C925.6,1239.3 943.5,1246.2 961.4,1250.3 C979.4,1254.5 994.3,1256.0 1015.2,1257.5 C1036.2,1259.0 1075.0,1259.0 1087.0,1259.3" stroke-width="6.3"/>
<path d="M792.8,1218.1 C800.0,1220.4 823.3,1227.3 835.9,1232.4 C848.4,1237.5 856.2,1244.1 868.2,1248.5 C880.1,1253.0 892.1,1256.0 907.6,1259.3 C923.2,1262.6 945.0,1265.6 961.4,1268.3 C977.9,1271.0 998.8,1274.3 1006.3,1275.5" stroke-width="3.2"/>
<path d="M853.8,1261.1 C861.3,1263.2 882.2,1269.8 898.7,1273.7 C915.1,1277.5 943.5,1282.6 952.5,1284.4" stroke-width="1.7"/>
<path d="M981.2,1293.4 C989.8,1291.9 1015.5,1286.8 1033.2,1284.4 C1050.8,1282.0 1078.0,1279.9 1087.0,1279.0" stroke-width="2.7"/>
<path d="M1040.4,1332.9 C1048.1,1332.3 1079.2,1329.9 1087.0,1329.3" stroke-width="2.7"/>
<path d="M1106.9,1071.0 C1109.9,1073.4 1117.4,1081.7 1124.8,1085.3 C1132.3,1088.9 1142.8,1091.6 1151.7,1092.5 C1160.7,1093.4 1169.7,1092.5 1178.7,1090.7 C1187.6,1088.9 1195.1,1085.0 1205.6,1081.7 C1216.0,1078.4 1232.5,1075.5 1241.4,1071.0 C1250.4,1066.5 1256.4,1057.5 1259.4,1054.8" stroke-width="4.3"/>
<path d="M1072.8,1097.9 C1077.0,1099.4 1089.3,1104.2 1097.9,1106.8 C1106.6,1109.5 1117.4,1112.7 1124.8,1114.0 C1132.3,1115.4 1139.8,1114.8 1142.8,1114.9" stroke-width="3.8"/>
<path d="M1072.8,1139.1 C1080.0,1138.8 1102.7,1138.8 1115.9,1137.3 C1129.0,1135.8 1139.8,1133.7 1151.7,1130.2 C1163.7,1126.6 1175.7,1120.6 1187.6,1115.8 C1199.6,1111.0 1212.7,1105.9 1223.5,1101.5 C1234.3,1097.0 1247.4,1091.0 1252.2,1088.9" stroke-width="5.6"/>
<path d="M1072.8,1171.4 C1083.0,1169.9 1114.7,1166.9 1133.8,1162.4 C1152.9,1158.0 1169.7,1151.1 1187.6,1144.5 C1205.6,1137.9 1226.5,1129.9 1241.4,1123.0 C1256.4,1116.1 1265.4,1110.4 1277.3,1103.3 C1289.3,1096.1 1302.7,1088.0 1313.2,1079.9 C1323.6,1071.9 1335.6,1059.0 1340.1,1054.8" stroke-width="8.4"/>
<path d="M1072.8,1196.5 C1083.0,1195.0 1114.7,1191.7 1133.8,1187.6 C1152.9,1183.4 1169.7,1178.0 1187.6,1171.4 C1205.6,1164.8 1223.5,1156.5 1241.4,1148.1 C1259.4,1139.7 1274.3,1132.6 1295.2,1121.2 C1316.2,1109.8 1355.0,1086.8 1367.0,1079.9" stroke-width="8.4"/>
<path d="M1072.8,1223.4 C1083.0,1221.9 1114.7,1218.7 1133.8,1214.5 C1152.9,1210.3 1169.7,1204.6 1187.6,1198.3 C1205.6,1192.0 1223.5,1185.2 1241.4,1176.8 C1259.4,1168.4 1280.3,1156.8 1295.2,1148.1 C1310.2,1139.4 1319.2,1131.7 1331.1,1124.8 C1343.1,1117.9 1361.0,1109.8 1367.0,1106.8" stroke-width="10.0"/>
<path d="M1072.8,1257.5 C1083.0,1255.1 1114.7,1248.2 1133.8,1243.2 C1152.9,1238.1 1169.7,1233.3 1187.6,1227.0 C1205.6,1220.7 1223.5,1213.6 1241.4,1205.5 C1259.4,1197.4 1280.3,1186.7 1295.2,1178.6 C1310.2,1170.5 1319.2,1163.9 1331.1,1157.1 C1343.1,1150.2 1361.0,1140.6 1367.0,1137.3" stroke-width="8.4"/>
<path d="M1072.8,1280.8 C1083.0,1278.7 1114.7,1273.1 1133.8,1268.3 C1152.9,1263.5 1169.7,1258.1 1187.6,1252.1 C1205.6,1246.2 1223.5,1240.2 1241.4,1232.4 C1259.4,1224.6 1274.3,1215.4 1295.2,1205.5 C1316.2,1195.6 1355.0,1178.6 1367.0,1173.2" stroke-width="3.8"/>
<path d="M1221.7,1261.1 C1228.0,1256.3 1250.4,1239.0 1259.4,1232.4 C1268.3,1225.8 1272.8,1223.4 1275.5,1221.6" stroke-width="1.7"/>
<path d="M1284.5,1237.8 C1287.8,1234.5 1299.4,1222.8 1304.2,1218.1 C1309.0,1213.3 1311.7,1210.6 1313.2,1209.1" stroke-width="1.3"/>
<path d="M1289.9,1248.5 C1296.7,1247.4 1318.3,1244.1 1331.1,1241.4 C1344.0,1238.7 1361.0,1233.9 1367.0,1232.4" stroke-width="1.7"/>
<path d="M1261.2,1280.8 C1269.8,1278.1 1295.5,1269.2 1313.2,1264.7 C1330.8,1260.2 1358.0,1255.7 1367.0,1253.9" stroke-width="1.7"/>
<path d="M1072.8,1331.1 C1083.0,1329.0 1114.7,1322.4 1133.8,1318.5 C1152.9,1314.6 1169.7,1311.6 1187.6,1307.7 C1205.6,1303.9 1223.5,1299.7 1241.4,1295.2 C1259.4,1290.7 1274.3,1285.9 1295.2,1280.8 C1316.2,1275.8 1355.0,1267.4 1367.0,1264.7" stroke-width="2.2"/>
<path d="M1352.8,1088.9 C1358.5,1083.2 1381.2,1060.5 1386.9,1054.8" stroke-width="10.0"/>
<path d="M1352.8,1115.8 C1361.5,1110.4 1391.1,1093.7 1404.8,1083.5 C1418.6,1073.4 1430.3,1059.6 1435.3,1054.8" stroke-width="8.4"/>
<path d="M1352.8,1137.3 C1363.0,1130.8 1397.7,1108.6 1413.8,1097.9 C1430.0,1087.1 1441.0,1079.9 1449.7,1072.8 C1458.4,1065.6 1463.1,1057.8 1465.8,1054.8" stroke-width="8.4"/>
<path d="M1352.8,1189.4 C1363.0,1181.6 1394.7,1157.4 1413.8,1142.7 C1432.9,1128.1 1452.7,1113.1 1467.6,1101.5 C1482.6,1089.8 1495.1,1080.5 1503.5,1072.8 C1511.9,1065.0 1515.5,1057.8 1517.8,1054.8" stroke-width="3.8"/>
<path d="M1478.4,1130.2 C1481.1,1125.7 1490.3,1111.6 1494.5,1103.3 C1498.7,1094.9 1502.0,1083.8 1503.5,1079.9" stroke-width="2.2"/>
<path d="M1352.8,1236.0 C1363.0,1230.3 1394.7,1214.2 1413.8,1201.9 C1432.9,1189.7 1452.7,1173.8 1467.6,1162.4 C1482.6,1151.1 1494.5,1143.0 1503.5,1133.7 C1512.5,1124.5 1517.0,1120.0 1521.4,1106.8 C1525.9,1093.7 1528.9,1063.5 1530.4,1054.8" stroke-width="3.2"/>
<path d="M1557.3,1079.9 C1559.1,1075.8 1566.3,1059.0 1568.1,1054.8" stroke-width="3.2"/>
<path d="M1352.8,1270.1 C1363.0,1264.1 1396.2,1247.1 1413.8,1234.2 C1431.4,1221.3 1451.2,1199.8 1458.7,1192.9" stroke-width="2.2"/></g>
<g fill="#660000"><polygon points="714.8,412.4 716.7,399.9 726.7,408.0"/>
<polygon points="667.5,463.6 667.5,450.9 678.6,457.4"/>
<polygon points="883.4,256.2 891.9,246.6 895.8,258.9"/>
<polygon points="799.3,300.6 805.2,289.3 812.0,300.3"/>
<polygon points="886.2,306.9 895.5,298.2 898.4,310.8"/>
<polygon points="901.4,332.2 910.4,323.2 913.6,335.7"/>
<polygon points="1002.9,349.6 991.0,345.2 1001.0,337.0"/>
<polygon points="978.5,375.4 967.4,381.7 967.6,368.8"/>
<polygon points="1020.7,405.1 1009.6,411.3 1009.9,398.4"/>
<polygon points="923.4,451.1 929.4,439.9 936.1,451.0"/>
<polygon points="973.9,464.8 966.8,475.3 961.2,463.7"/>
<polygon points="1046.1,470.8 1036.9,479.7 1033.9,467.1"/>
<polygon points="1110.5,226.9 1121.8,220.9 1121.2,233.8"/>
<polygon points="1219.9,239.3 1207.8,243.2 1210.6,230.6"/>
<polygon points="1312.7,290.0 1325.3,287.8 1320.7,299.9"/>
<polygon points="1307.7,312.8 1319.4,307.8 1317.8,320.6"/>
<polygon points="1301.9,334.2 1312.2,326.7 1313.5,339.6"/>
<polygon points="1151.8,348.9 1140.3,354.4 1141.5,341.5"/>
<polygon points="1352.9,427.3 1340.5,430.0 1344.5,417.7"/>
<polygon points="1340.0,491.0 1331.2,481.8 1343.8,478.9"/>
<polygon points="1286.3,474.6 1275.2,468.3 1286.4,461.9"/>
<polygon points="1489.8,451.7 1480.0,443.5 1492.2,439.2"/>
<polygon points="1456.6,423.7 1449.2,416.0 1459.7,413.5"/>
<polygon points="1382.5,498.2 1380.6,485.6 1392.6,490.4"/>
<polygon points="643.6,548.4 641.5,535.8 653.6,540.5"/>
<polygon points="650.8,591.9 649.2,579.2 661.1,584.3"/>
<polygon points="735.6,597.7 739.9,609.7 727.2,607.3"/>
<polygon points="732.2,759.4 742.3,767.2 730.3,772.0"/>
<polygon points="1036.3,541.6 1029.5,552.4 1023.6,540.9"/>
<polygon points="1112.2,613.2 1117.0,601.4 1124.8,611.7"/>
<polygon points="1307.4,577.5 1316.6,566.8 1321.3,580.4"/>
<polygon points="1320.8,602.7 1330.8,592.7 1334.4,606.6"/>
<polygon points="1173.2,728.6 1178.6,715.5 1187.3,726.9"/>
<polygon points="1524.7,604.5 1513.0,599.5 1523.4,591.8"/>
<polygon points="1469.6,715.7 1459.2,706.2 1472.9,702.0"/>
<polygon points="1407.8,731.6 1395.6,724.3 1408.2,717.4"/>
<polygon points="556.4,846.9 549.4,836.2 562.3,835.6"/>
<polygon points="600.4,950.8 591.2,942.0 603.6,938.5"/>
<polygon points="727.2,897.2 739.9,898.3 732.4,908.8"/>
<polygon points="647.8,913.7 644.5,901.4 657.0,904.8"/>
<polygon points="703.9,825.6 716.0,829.6 706.2,838.1"/>
<polygon points="674.8,946.9 672.3,934.4 684.5,938.7"/>
<polygon points="765.5,1054.2 759.3,1043.1 772.2,1043.4"/>
<polygon points="724.9,793.7 735.7,800.4 724.3,806.5"/>
<polygon points="955.6,910.3 954.2,897.7 966.0,903.0"/>
<polygon points="1038.4,824.0 1038.6,811.2 1049.7,818.0"/>
<polygon points="1031.5,947.4 1026.5,935.7 1039.3,937.3"/>
<polygon points="867.2,1057.7 872.8,1046.2 879.9,1057.0"/>
<polygon points="1131.3,813.8 1130.6,801.0 1142.1,807.0"/>
<polygon points="1284.7,868.1 1273.8,874.6 1273.7,861.7"/>
<polygon points="1251.1,1011.7 1242.9,1021.4 1238.6,1009.3"/>
<polygon points="1133.5,1025.0 1121.8,1020.0 1132.2,1012.3"/>
<polygon points="1296.0,1029.2 1289.2,1041.6 1281.8,1029.3"/>
<polygon points="1493.6,835.8 1497.0,851.0 1482.0,846.1"/>
<polygon points="1452.9,970.2 1449.8,985.5 1438.0,975.0"/>
<polygon points="1473.6,989.6 1471.8,1003.6 1460.5,994.8"/>
<polygon points="1581.1,1014.8 1578.2,1002.4 1590.5,1006.2"/>
<polygon points="1638.4,843.4 1642.7,855.4 1630.0,852.9"/>
<polygon points="1624.3,912.7 1628.0,924.9 1615.5,921.9"/>
<polygon points="749.2,1156.8 736.6,1155.4 744.3,1145.1"/>
<polygon points="786.4,1108.7 773.7,1107.9 780.9,1097.2"/>
<polygon points="870.4,1138.7 857.6,1138.2 864.6,1127.3"/>
<polygon points="933.9,1140.0 921.2,1140.3 927.5,1129.0"/>
<polygon points="982.7,1123.7 970.9,1119.0 981.1,1111.1"/>
<polygon points="873.3,1250.5 860.7,1252.6 865.4,1240.5"/>
<polygon points="1038.6,1283.7 1028.6,1291.6 1026.9,1278.8"/>
<polygon points="1040.5,1332.8 1050.9,1325.6 1051.9,1338.4"/>
<polygon points="1117.9,1137.2 1107.5,1144.6 1106.4,1131.7"/>
<polygon points="1268.5,1108.6 1261.6,1120.9 1254.4,1108.5"/>
<polygon points="1153.6,1237.7 1143.8,1247.9 1140.0,1234.1"/>
<polygon points="1397.3,1088.8 1390.9,1101.4 1383.1,1089.3"/>
<polygon points="1422.8,1091.9 1416.6,1104.6 1408.7,1092.7"/>
<polygon points="1498.9,1093.0 1496.5,1080.5 1508.7,1084.8"/>
<polygon points="1560.8,1071.9 1562.4,1084.5 1550.5,1079.4"/></g>
<g fill="none" stroke="#fff" stroke-width="3" stroke-linejoin="round"><path d="M855.6,304.5 L862.8,299.1 L869.1,299.5 L875.3,300.9 L880.7,304.5 L871.7,306.3 L866.3,307.1 L861.0,305.2 L855.6,305.4 L855.6,304.5Z"/>
<path d="M1000.9,462.4 L1006.3,455.2 L1015.2,451.6 L1013.7,456.8 L1009.9,460.6 L1000.9,462.4Z"/>
<path d="M957.8,501.8 L961.5,496.5 L964.7,490.8 L968.6,485.7 L973.1,480.1 L979.4,476.7 L984.8,473.7 L989.4,469.4 L995.5,467.7 L990.1,473.1 L986.7,476.9 L983.9,481.3 L980.3,484.8 L976.0,487.6 L972.2,491.1 L967.9,494.0 L965.9,499.2 L961.4,502.0"/>
<path d="M1166.1,509.0 L1166.1,503.0 L1168.3,497.4 L1170.2,491.7 L1169.7,485.7 L1173.5,481.7 L1176.6,477.1 L1180.4,473.1 L1185.9,472.1 L1189.4,467.0 L1194.8,465.9 L1200.0,465.2 L1204.1,461.7 L1209.1,460.6 L1214.3,458.5 L1219.9,458.8 L1219.3,466.2 L1216.3,473.1 L1214.5,479.3 L1210.6,484.7 L1209.1,491.1 L1209.0,497.2 L1206.5,503.0 L1205.6,509.0"/>
<path d="M1115.9,446.2 L1124.8,447.1 L1123.0,448.9 L1115.9,446.2Z"/>
<path d="M1223.5,456.1 L1232.5,455.2 L1228.9,457.9 L1223.5,456.1Z"/>
<path d="M1255.8,446.2 L1261.2,446.7 L1266.5,445.8 L1271.9,446.4 L1277.3,446.2 L1282.8,445.2 L1288.2,445.5 L1293.5,446.4 L1298.8,448.2 L1304.2,448.0 L1313.2,451.6 L1319.2,452.6 L1325.3,453.4 L1331.1,455.2 L1337.5,453.7 L1343.7,451.6 L1348.3,448.2 L1352.6,444.6 L1358.2,442.7 L1362.7,439.2 L1367.0,435.5"/>
<path d="M1291.7,509.0 L1293.0,503.6 L1296.1,498.9 L1298.0,493.8 L1301.1,489.1 L1302.8,483.9 L1304.2,478.5 L1308.2,473.5 L1313.2,469.5 L1319.7,468.6 L1324.7,463.6 L1331.1,462.4 L1335.8,459.7 L1341.1,458.3 L1345.5,455.2 L1350.5,452.3 L1356.2,451.6 L1361.1,448.4 L1367.0,448.0"/>
<path d="M1313.2,509.0 L1318.0,505.4 L1322.7,501.6 L1326.8,497.1 L1331.1,492.9 L1336.3,493.8 L1341.3,491.7 L1346.5,492.7 L1351.6,492.1 L1356.8,491.8 L1361.9,491.2 L1367.0,491.1"/>
<path d="M1352.8,435.5 L1358.0,435.2 L1363.1,434.1 L1367.6,431.3 L1372.6,430.1 L1377.1,432.9 L1382.8,433.6 L1386.9,437.2 L1391.1,440.5 L1395.6,443.0 L1399.5,446.7 L1404.8,448.0 L1408.6,453.2 L1413.8,457.0 L1418.6,458.6 L1422.9,461.1 L1427.0,464.2 L1431.7,465.9 L1437.8,467.3 L1442.5,471.3 L1440.8,476.7 L1438.9,482.1 L1433.2,481.3 L1428.2,478.5 L1422.7,476.6 L1417.8,473.7 L1413.8,469.5 L1409.7,466.5 L1404.3,466.1 L1400.0,463.5 L1395.9,460.6 L1389.8,458.5 L1384.4,454.7 L1377.9,453.4 L1372.7,454.0 L1367.9,452.1 L1362.9,451.1 L1358.0,449.3 L1352.8,449.8"/>
<path d="M1422.8,509.0 L1426.7,505.6 L1430.0,501.6 L1431.6,496.5 L1435.3,492.9 L1438.0,498.1 L1440.5,503.4 L1442.5,509.0"/>
<path d="M1458.7,468.6 L1462.2,470.4 L1460.4,472.2 L1458.7,468.6Z"/>
<path d="M1473.0,473.1 L1477.5,474.9 L1474.8,476.7 L1473.0,473.1Z"/>
<path d="M1521.4,453.4 L1524.2,457.8 L1527.6,461.6 L1532.2,464.2 L1535.6,468.4 L1537.9,473.3 L1539.4,478.5 L1543.1,482.2 L1546.0,486.4 L1548.3,491.1 L1550.6,495.5 L1552.6,500.2 L1555.7,504.2 L1557.3,509.0"/>
<path d="M807.0,561.2 L802.1,564.5 L796.3,565.0 L791.0,567.0 L785.5,568.4 L780.6,570.0 L775.4,570.6 L771.1,573.7 L765.9,571.4 L760.4,570.2 L756.4,566.5 L752.5,562.7 L748.6,559.0 L744.2,555.8 L739.1,553.3 L736.7,547.7 L731.7,545.0 L724.7,542.4 L717.3,541.5 L711.1,541.5 L705.2,542.9 L699.4,545.0 L693.5,547.2 L687.5,548.9 L681.4,550.4 L678.7,554.9 L674.0,557.3 L671.7,562.2 L667.1,564.8 L661.5,567.9 L655.4,569.3 L649.1,570.2 L644.8,573.5 L639.8,575.4 L634.8,577.3 L632.2,581.9 L628.8,585.6 L624.8,588.9 L620.4,591.7 L617.8,596.2 L613.6,599.2 L610.8,603.5 L606.1,606.0 L600.3,606.7 L595.3,609.6 L597.1,604.2 L602.0,601.3 L605.8,596.9 L610.7,593.9 L615.5,590.9 L620.4,588.1 L623.7,583.1 L626.7,577.8 L631.2,573.7 L629.2,579.9 L629.4,586.3 L635.1,586.6 L640.2,583.8 L645.6,582.7 L642.0,586.7 L639.4,591.5 L635.7,595.4 L631.6,598.8 L627.6,602.4 L623.4,606.0 L617.7,607.3 L614.2,612.0 L609.8,615.2 L604.3,616.8 L599.2,619.3 L595.9,623.9 L591.7,627.6 L589.0,632.3 L584.5,635.5 L582.1,640.7 L577.4,643.7 L570.2,645.5 L567.9,649.9 L564.4,653.8 L562.5,658.4 L561.3,663.4 L558.9,668.6 L558.4,674.4 L556.3,679.7 L555.1,685.3 L552.3,690.3 L550.4,695.3 L550.1,700.6 L548.3,705.5 L548.7,710.9 L548.0,716.1 L545.2,720.9 L545.1,726.2 L542.6,731.0 L542.0,736.2 L541.1,741.4 L540.0,746.5 L539.2,751.7 L539.8,757.1 L537.9,762.1 L537.2,767.5 L537.0,772.9 L537.3,778.4 L536.6,783.8 L534.3,789.0"/>
<path d="M548.7,789.0 L548.2,783.6 L548.3,778.2 L549.9,772.9 L550.9,767.5 L549.4,762.1 L551.2,756.8 L551.5,751.4 L551.6,746.0 L549.9,740.6 L550.5,735.2 L552.6,730.1 L555.5,725.4 L558.3,720.7 L561.2,716.0 L564.8,711.9 L569.5,714.0 L574.0,716.7 L579.2,717.2 L588.2,720.8 L588.4,726.9 L590.9,732.5 L591.7,738.4 L593.5,744.2 L591.4,749.9 L592.5,756.4 L590.0,762.1 L589.8,767.5 L589.4,772.9 L590.1,778.3 L590.6,783.7 L591.7,789.0"/>
<path d="M760.4,579.1 L765.1,577.3 L769.6,574.6 L774.7,573.7 L779.9,572.2 L784.0,568.5 L789.1,566.6 L795.2,566.3 L801.3,565.7 L807.0,563.0 L803.7,567.7 L799.8,572.0 L795.0,574.9 L789.3,576.1 L784.7,579.4 L780.1,582.7 L774.0,584.7 L767.5,584.5 L760.4,579.1Z"/>
<path d="M724.5,728.0 L729.2,723.4 L735.2,720.8 L742.3,718.8 L749.6,719.0 L750.1,725.7 L753.2,731.6 L749.4,735.2 L748.1,740.6 L744.2,744.2 L738.8,743.1 L733.5,742.6 L728.1,744.2 L727.4,738.7 L725.2,733.5 L724.5,728.0Z"/>
<path d="M776.5,713.7 L785.5,715.5 L790.9,722.6 L781.9,722.6 L779.3,718.1 L776.5,713.7Z"/>
<path d="M772.9,789.0 L773.6,783.2 L775.0,777.7 L779.7,773.3 L780.1,767.5 L784.6,764.9 L788.5,761.6 L792.6,758.5 L799.8,759.9 L807.0,758.5"/>
<path d="M695.8,789.0 L696.2,782.4 L698.2,775.9 L697.6,769.3 L699.7,774.1 L704.3,777.1 L706.5,781.8"/>
<path d="M792.8,568.4 L797.9,567.9 L802.9,568.4 L808.0,568.6 L812.9,570.1 L817.9,570.2 L825.3,571.2 L832.3,573.7 L838.5,571.7 L844.8,570.2 L850.8,569.0 L856.8,571.5 L862.8,570.2 L868.1,569.4 L873.5,569.4 L878.9,569.5 L884.4,570.3 L889.7,568.4 L895.1,568.4 L901.0,567.4 L905.8,563.9 L911.2,561.7 L916.6,559.4 L922.0,557.1 L926.7,553.2 L932.7,552.2 L938.0,549.4 L943.5,546.8 L947.1,537.9 L947.9,532.7 L949.2,527.8 L952.5,523.5 L955.2,517.5 L956.1,511.0 L956.9,505.3 L959.6,500.2 L961.4,494.8"/>
<path d="M819.7,555.8 L825.2,555.9 L830.5,554.8 L835.9,554.0 L839.0,558.2 L841.3,563.0 L835.0,563.8 L828.7,564.8 L824.3,560.2 L819.7,555.8Z"/>
<path d="M966.8,494.8 L967.1,501.0 L970.4,506.5 L970.4,512.8 L976.4,511.8 L982.2,509.6 L988.3,509.2 L994.6,510.9 L1000.0,514.8 L1006.3,516.3 L1009.2,520.5 L1012.1,524.8 L1015.2,528.9 L1012.7,533.4 L1010.4,538.0 L1009.9,543.3 L1006.4,547.0 L1002.4,550.2 L999.1,554.0 L1002.7,557.6 L1009.0,554.0 L1015.2,550.4 L1020.0,552.3 L1024.6,554.6 L1029.6,555.8 L1028.9,563.0 L1027.8,570.2 L1022.4,569.5 L1017.0,569.0 L1011.7,568.4 L1014.8,573.0 L1019.3,576.0 L1023.0,580.0 L1027.8,582.7 L1024.2,591.7 L1020.3,595.4 L1018.8,600.7 L1014.9,605.7 L1009.9,609.6 L1006.3,618.6 L1000.3,619.0 L994.2,618.4 L988.3,620.4 L982.0,621.8 L976.8,626.2 L970.4,627.6 L965.7,630.2 L960.3,630.7 L955.5,633.4 L950.3,634.3 L945.4,636.3 L939.9,636.5 L937.6,642.7 L936.3,649.1 L932.0,654.0 L929.1,659.8 L924.6,663.2 L922.8,668.9 L918.4,672.4 L913.5,675.5 L909.1,679.2 L905.6,684.1 L900.4,686.8 L895.0,688.7 L890.1,691.5 L886.1,695.7 L885.6,701.3 L882.0,706.1 L882.4,711.9 L880.7,717.2 L879.0,723.2 L875.6,728.8 L875.3,735.2 L872.9,739.9 L873.5,745.5 L871.2,750.3 L869.5,755.3 L868.2,760.3 L873.8,762.5 L878.9,765.7 L882.0,769.9 L883.8,774.8 L884.7,780.0 L888.9,783.7 L889.7,789.0"/>
<path d="M1038.6,557.6 L1041.8,553.7 L1044.7,549.4 L1046.8,544.6 L1051.1,541.5 L1056.2,544.0 L1060.5,547.8 L1065.5,550.4 L1070.8,550.9 L1076.3,549.9 L1081.5,553.3 L1087.0,552.2"/>
<path d="M832.3,663.4 L837.1,668.6 L843.0,672.4 L840.8,677.2 L842.9,682.6 L841.6,687.6 L841.6,692.7 L839.5,697.5 L837.9,691.8 L834.0,687.1 L832.3,681.4 L831.1,675.4 L832.0,669.4 L832.3,663.4Z"/>
<path d="M805.4,679.6 L812.6,681.4 L812.1,688.7 L814.3,695.7 L807.2,697.5 L807.6,691.4 L805.2,685.6 L805.4,679.6Z"/>
<path d="M877.1,654.5 L882.4,652.8 L888.0,654.6 L893.3,652.7 L892.2,658.0 L890.8,663.3 L891.9,669.0 L889.7,674.2 L885.9,678.1 L880.7,679.6 L880.6,674.5 L879.0,669.6 L877.2,664.7 L879.2,659.3 L877.1,654.5Z"/>
<path d="M939.9,511.0 L945.4,509.6 L950.7,507.4 L948.5,512.6 L949.6,518.4 L947.1,523.5 L941.7,519.9 L939.9,511.0Z"/>
<path d="M1072.8,525.3 L1078.6,524.6 L1083.1,520.4 L1089.0,519.9 L1095.4,518.6 L1100.9,515.0 L1106.9,512.8 L1112.7,510.5 L1118.9,509.3 L1124.8,507.4 L1133.8,511.0 L1140.7,514.1 L1148.2,514.6 L1152.3,517.6 L1155.3,521.7 L1154.7,528.3 L1151.7,534.3 L1156.6,532.0 L1160.9,528.8 L1166.1,527.1 L1173.3,523.5 L1176.0,519.1 L1180.4,516.3 L1185.4,513.0 L1190.6,510.3 L1196.6,509.2 L1198.8,503.9 L1202.1,499.3 L1205.6,494.8"/>
<path d="M1072.8,582.7 L1078.0,583.6 L1082.6,586.4 L1088.1,586.4 L1092.9,588.5 L1097.9,589.9 L1104.1,590.1 L1110.0,591.8 L1115.9,593.5 L1122.2,593.2 L1128.0,595.1 L1133.8,597.1 L1139.9,598.4 L1144.6,602.4 L1145.7,608.1 L1148.2,613.2 L1152.9,615.7 L1158.2,617.1 L1162.5,620.4 L1164.4,625.7 L1164.8,631.6 L1167.9,636.5 L1172.5,640.6 L1174.3,646.7 L1178.7,650.9 L1187.6,647.3 L1192.2,650.7 L1196.6,654.5 L1201.1,657.1 L1205.6,659.8 L1211.4,663.5 L1218.1,665.2 L1215.4,669.6 L1212.1,673.6 L1209.1,677.8 L1209.1,683.8 L1208.8,689.9 L1210.9,695.7 L1215.8,699.9 L1219.9,704.7 L1220.1,710.9 L1221.7,716.8 L1223.5,722.6 L1226.8,727.1 L1230.9,730.8 L1234.3,735.2 L1228.6,732.0 L1223.5,728.0 L1217.4,728.8 L1211.4,728.0 L1205.6,726.2 L1202.0,735.2 L1205.1,742.0 L1205.6,749.5 L1207.5,756.1 L1210.9,762.1 L1212.8,767.3 L1214.2,772.6 L1215.5,778.0 L1214.2,783.8 L1216.3,789.0"/>
<path d="M1150.0,656.3 L1157.1,654.5 L1158.9,663.4 L1151.7,663.4 L1150.0,656.3Z"/>
<path d="M1160.7,670.6 L1166.2,671.2 L1171.5,670.0 L1176.9,668.8 L1176.7,675.2 L1175.1,681.4 L1169.7,682.2 L1164.3,681.4 L1161.9,676.2 L1160.7,670.6Z"/>
<path d="M1167.9,523.5 L1170.7,529.8 L1173.3,536.1 L1180.6,535.9 L1187.6,537.9 L1192.3,533.6 L1196.7,528.9 L1202.0,525.3 L1206.6,529.6 L1212.0,532.6 L1218.1,534.3 L1222.7,537.6 L1227.9,540.1 L1231.3,545.2 L1237.1,546.7 L1241.4,550.4 L1247.5,551.8 L1253.9,552.5 L1259.4,555.8 L1265.3,554.2 L1271.3,553.3 L1277.3,552.2 L1282.7,552.6 L1288.1,552.0 L1293.5,553.3 L1298.9,552.1 L1304.2,554.0 L1304.4,548.5 L1306.0,543.3 L1301.5,540.6 L1298.6,536.3 L1295.2,532.5 L1289.6,528.1 L1286.3,521.7 L1288.1,512.8 L1289.0,506.2 L1292.3,500.6 L1295.2,494.8"/>
<path d="M1277.3,523.5 L1279.6,518.8 L1283.5,515.3 L1286.3,511.0 L1290.8,507.0 L1295.8,503.5 L1300.1,499.2 L1304.2,494.8"/>
<path d="M1166.1,789.0 L1168.0,783.2 L1169.7,777.3 L1169.7,771.1 L1173.6,766.0 L1177.6,761.1 L1182.2,756.7 L1191.2,753.1 L1187.9,759.9 L1187.6,767.5"/>
<path d="M1377.9,494.8 L1380.8,501.7 L1381.5,509.2 L1387.2,511.2 L1393.1,512.3 L1399.3,511.8 L1404.8,514.6 L1410.4,517.9 L1416.3,520.5 L1422.8,521.7 L1423.5,516.4 L1424.2,511.0 L1424.9,505.7 L1423.1,500.1 L1424.6,494.8"/>
<path d="M1435.3,494.8 L1438.0,500.2 L1440.7,505.6 L1442.4,511.4 L1446.1,516.3 L1442.8,522.0 L1440.3,527.9 L1438.9,534.3 L1435.3,532.5 L1436.0,539.7 L1437.1,546.8 L1442.9,550.7 L1449.7,552.2 L1444.8,555.4 L1440.7,559.4 L1444.5,562.9 L1449.6,564.7 L1453.3,568.4 L1458.4,570.8 L1462.4,574.7 L1465.8,579.1 L1466.3,572.8 L1467.6,566.6 L1463.0,561.9 L1460.4,555.8 L1465.7,557.5 L1471.2,557.2 L1476.6,557.6 L1479.9,553.0 L1482.9,548.3 L1485.6,543.3 L1487.9,536.2 L1489.1,528.9 L1496.3,527.1 L1503.5,525.3 L1508.9,527.2 L1511.9,532.4 L1516.5,535.4 L1521.4,537.9 L1525.0,541.5 L1528.5,545.1 L1531.8,549.0 L1536.8,551.2 L1539.4,555.8 L1542.4,560.8 L1547.2,564.3 L1551.2,568.4 L1553.7,573.7 L1557.5,577.8 L1559.4,583.1 L1563.9,586.7 L1566.3,591.7 L1570.2,596.7 L1575.2,600.7 L1576.6,605.9 L1580.6,609.6 L1573.5,613.2 L1576.5,618.0 L1579.8,622.6 L1582.4,627.6 L1586.1,633.8 L1589.6,640.1 L1591.1,634.8 L1592.2,629.5 L1592.7,624.0 L1593.2,618.6 L1592.7,612.2 L1591.4,606.0 L1597.2,606.5 L1602.2,609.6 L1605.0,614.6 L1606.5,620.1 L1606.8,626.0 L1609.9,631.0 L1611.1,636.5 L1611.6,641.9 L1614.1,647.1 L1614.7,652.5 L1614.7,658.0 L1614.7,663.4 L1615.2,668.9 L1616.3,674.3 L1617.4,679.7 L1619.7,684.8 L1620.1,690.3 L1629.1,692.1 L1625.5,699.3 L1620.9,703.8 L1616.5,708.3 L1614.8,714.3 L1613.0,720.3 L1611.1,726.2 L1611.6,731.8 L1608.4,736.8 L1609.9,742.5 L1606.7,747.5 L1607.5,753.1 L1603.6,756.9 L1603.5,762.9 L1599.6,766.6 L1596.8,771.1 L1596.4,777.1 L1596.5,783.2 L1598.6,789.0"/>
<path d="M1510.7,514.6 L1516.0,513.5 L1521.4,512.8 L1523.9,517.9 L1525.0,523.5 L1519.5,523.5 L1514.3,521.7 L1510.7,514.6Z"/>
<path d="M1532.2,494.8 L1533.3,500.8 L1537.8,505.2 L1539.4,511.0 L1542.6,505.7 L1544.3,499.6 L1548.3,494.8"/>
<path d="M1376.1,676.0 L1381.5,675.2 L1386.9,674.2 L1391.3,677.4 L1397.2,676.7 L1401.4,680.5 L1406.6,681.4 L1410.2,686.2 L1412.8,691.7 L1417.4,695.7 L1413.8,699.3 L1409.8,694.8 L1404.3,691.9 L1401.2,686.3 L1395.9,683.2 L1390.9,681.9 L1385.6,681.9 L1380.7,680.7 L1376.1,677.8 L1376.1,676.0Z"/>
<path d="M512.8,841.2 L518.8,839.4 L524.7,837.5 L530.8,835.8 L537.9,841.2 L543.3,841.2 L542.5,836.1 L541.7,830.9 L542.1,825.7 L541.8,820.6 L543.3,815.4 L540.4,810.3 L542.6,805.1 L541.5,799.9 L548.4,802.8 L555.9,803.5 L559.5,812.5 L557.8,807.2 L559.9,801.6 L558.8,796.3 L557.7,791.0 L558.3,785.4 L555.8,780.3 L555.9,774.8"/>
<path d="M530.8,907.6 L531.7,912.6 L532.1,917.8 L530.7,923.1 L532.5,928.1 L533.8,933.1 L534.1,938.3 L534.3,943.4 L538.1,947.5 L541.8,951.6 L544.8,956.2 L546.9,961.4 L549.7,965.7 L554.6,968.1 L556.7,973.1 L561.8,975.2 L564.8,979.3 L567.9,983.4 L569.6,988.3 L572.9,992.3 L574.8,997.1 L575.5,1002.4 L579.2,1006.2 L580.8,1011.3 L583.7,1015.7 L586.9,1019.9 L588.8,1024.8 L591.4,1029.4 L595.3,1033.1 L595.9,1038.3 L596.2,1043.5 L599.1,1048.3 L597.7,1053.7 L599.3,1058.7 L599.1,1064.0 L600.7,1069.0"/>
<path d="M563.0,832.2 L563.7,837.3 L565.9,842.1 L567.7,847.0 L566.0,852.6 L568.4,857.3 L570.5,862.5 L570.3,868.1 L571.6,873.4 L572.7,878.8 L572.2,884.4 L573.8,889.6 L573.1,895.0 L576.1,899.8 L575.6,905.1 L577.5,910.0 L577.5,915.3 L578.8,920.3 L579.2,925.5 L581.3,930.4 L582.3,935.5 L583.2,940.7 L582.0,946.3 L584.3,951.1 L586.2,956.1 L586.4,961.4 L586.1,966.8 L586.9,971.9 L589.6,976.7 L591.6,981.6 L592.5,986.8 L593.8,991.9 L593.5,997.2"/>
<path d="M579.2,862.7 L581.0,858.0 L582.5,853.2 L585.2,848.9 L588.2,844.8 L597.1,841.2 L596.6,836.0 L597.9,831.0 L599.2,825.9 L599.0,820.8 L598.2,815.7 L598.5,810.5 L599.1,805.5 L598.9,800.3 L599.1,795.2 L598.5,790.1 L599.5,785.0 L601.9,780.0 L600.7,774.8"/>
<path d="M581.0,864.5 L585.3,860.8 L590.9,859.1 L596.0,856.8 L600.7,853.7 L604.2,857.7 L609.6,859.0 L613.3,862.7 L617.4,866.7 L621.1,871.2 L624.3,876.0 L627.6,880.7 L630.8,884.7 L632.4,889.9 L636.6,893.2 L642.8,893.1 L648.8,892.0 L654.5,889.6 L660.1,893.0 L663.5,898.6 L668.6,900.4 L671.5,905.1 L676.1,907.6 L678.6,913.1 L683.3,917.1 L686.8,921.9 L693.0,924.0 L699.4,925.5 L704.9,927.8 L708.6,932.4 L712.0,937.3 L717.3,939.8 L719.5,944.6 L722.4,948.9 L726.3,952.4 L730.3,956.7 L736.3,957.7 L740.6,961.4 L745.8,965.3 L749.8,970.2 L753.2,975.7 L758.5,978.3 L763.7,981.3 L768.7,984.5 L774.4,986.4 L780.1,988.3 L782.4,993.0 L785.5,997.2 L781.3,1000.2 L778.4,1004.5 L774.6,1007.9 L771.1,1011.6 L766.9,1007.6 L765.9,1001.6 L762.2,997.2"/>
<path d="M663.5,799.9 L669.5,799.1 L675.5,801.3 L681.4,799.9 L683.7,804.7 L687.4,808.6 L690.5,812.8 L692.2,817.9 L692.9,812.3 L695.5,807.2 L697.1,801.9 L696.7,796.0 L699.4,791.0 L704.9,792.8 L708.9,797.0 L713.7,799.9 L711.2,804.3 L709.6,809.1 L707.8,813.8 L704.8,817.9 L701.3,822.2 L699.8,827.7 L695.9,831.7 L692.2,835.8 L691.1,841.8 L688.4,847.5 L688.6,853.7 L688.5,859.2 L688.1,864.6 L689.8,869.9 L690.9,875.2 L690.4,880.7 L685.3,876.7 L681.4,871.7 L680.5,866.5 L677.5,862.4 L674.2,858.5 L672.5,853.7 L668.9,849.9 L668.0,844.8 L666.2,840.0 L663.5,835.8 L668.1,832.6 L672.7,829.2 L677.8,826.8 L674.7,822.0 L671.7,817.0 L666.4,813.9 L663.5,808.9 L663.5,799.9Z"/>
<path d="M733.5,843.0 L736.0,838.3 L740.3,835.4 L744.2,832.2 L747.6,828.1 L751.8,824.7 L754.3,819.7 L759.3,817.1 L762.2,812.5 L764.7,807.4 L765.8,801.7 L766.6,796.1 L770.8,791.4 L770.5,785.4 L773.9,780.5 L774.7,774.8"/>
<path d="M733.5,843.0 L737.6,846.0 L741.3,849.5 L744.2,853.7 L749.2,851.3 L752.8,846.9 L758.5,845.5 L762.2,841.2 L766.6,843.4 L771.6,844.8 L776.0,847.1 L780.1,850.2 L785.4,847.8 L791.0,846.3 L796.8,845.0 L801.2,840.5 L807.0,839.4"/>
<path d="M717.3,907.6 L722.0,910.0 L726.8,912.2 L730.0,916.9 L735.2,918.3 L740.4,920.5 L745.0,923.4 L749.5,926.6 L753.2,930.9 L755.0,935.9 L755.0,941.4 L756.5,946.5 L758.4,951.4 L759.1,956.7 L762.2,961.4 L758.6,955.9 L753.2,952.4 L748.5,950.7 L743.8,948.8 L740.4,944.4 L735.2,943.4 L729.3,943.6 L723.8,946.7 L717.7,945.6 L711.9,947.0 L715.8,950.3 L719.4,953.9 L722.7,957.8 L728.3,960.5 L734.0,963.1 L739.6,965.8 L744.2,970.3 L749.2,974.3 L753.2,979.3 L758.0,984.4 L762.2,990.1 L763.1,995.2 L767.7,998.5 L767.6,1004.2 L771.1,1008.0 L776.5,1013.4"/>
<path d="M877.1,961.4 L877.4,955.2 L879.1,949.3 L880.7,943.4 L884.7,939.5 L887.8,935.1 L890.0,929.9 L893.3,925.5 L895.7,919.3 L900.4,914.7 L905.8,911.7 L911.0,908.4 L916.6,905.8 L920.7,902.4 L921.8,896.8 L925.6,893.2 L928.8,888.7 L933.7,885.7 L936.3,880.7 L939.4,875.9 L944.2,873.3 L949.1,870.6 L952.5,866.3 L955.1,861.2 L954.7,855.1 L957.8,850.2 L955.8,844.3 L955.3,838.3 L956.1,832.2 L960.6,829.6 L962.7,824.5 L967.4,822.0 L970.4,817.9 L977.7,818.2 L984.8,816.1 L991.2,817.4 L997.3,819.7 L1003.4,819.5 L1009.1,822.3 L1015.2,821.5 L1019.4,827.1 L1024.2,832.2 L1030.3,832.7 L1036.0,835.3 L1042.2,835.8 L1047.1,840.8 L1051.1,846.6 L1054.0,850.7 L1057.0,854.8 L1057.1,860.4 L1060.1,864.5 L1054.6,869.0 L1051.1,875.3 L1046.3,880.4 L1042.2,886.0 L1038.4,891.5 L1038.8,898.6 L1035.0,904.0 L1035.2,910.0 L1033.9,915.9 L1033.2,921.9 L1029.0,925.2 L1026.0,929.4 L1024.2,934.5 L1020.2,937.8 L1016.3,941.1 L1011.7,943.4 L1007.0,946.6 L1002.1,949.4 L997.3,952.4 L1002.7,959.6 L995.2,960.0 L988.3,963.2 L982.2,963.0 L976.6,959.8 L970.4,959.6 L964.2,960.6 L958.1,962.2 L952.5,965.0 L946.7,962.9 L940.6,962.2 L934.5,961.4 L925.6,961.4 L921.5,967.1 L916.6,972.1 L910.8,975.1 L904.8,977.3 L898.7,979.3 L893.7,981.2 L889.7,984.7 L884.2,980.2 L880.7,973.9 L878.0,967.9 L877.1,961.4Z"/>
<path d="M792.8,841.2 L798.0,841.3 L802.8,839.0 L807.7,837.7 L812.7,836.8 L817.9,837.6 L822.3,841.3 L826.9,844.8 L827.5,850.2 L825.4,855.5 L825.7,860.9 L825.3,866.3 L826.9,871.7 L823.9,875.8 L820.7,879.8 L817.1,883.4 L812.6,886.0 L809.0,889.6 L809.0,898.6 L814.9,899.9 L820.9,899.6 L826.9,900.4 L825.2,905.8 L822.1,910.5 L819.0,915.3 L816.4,920.2 L814.3,925.5 L808.7,927.0 L803.2,929.0 L798.0,931.7 L792.8,934.5"/>
<path d="M947.1,774.8 L949.0,779.7 L947.4,785.0 L949.9,789.8 L949.7,794.9 L950.7,799.9 L956.3,804.1 L961.4,808.9 L967.3,810.3 L973.5,809.1 L979.4,810.7 L985.7,812.3 L991.6,814.7 L997.3,817.9"/>
<path d="M984.8,993.7 L993.7,990.1 L1000.6,992.7 L1006.3,997.2 L1011.4,999.6 L1017.0,999.9 L1022.4,1000.8 L1023.9,1007.9 L1024.2,1015.2 L1018.3,1017.3 L1011.8,1017.3 L1006.3,1020.6 L1000.9,1018.2 L995.2,1016.6 L990.1,1013.4 L988.3,1007.6 L984.8,1002.6 L984.8,993.7Z"/>
<path d="M1006.3,774.8 L1007.6,780.0 L1008.4,785.4 L1012.9,789.5 L1013.5,794.9 L1015.2,799.9 L1013.3,805.2 L1012.4,810.5 L1011.2,815.9 L1011.7,821.5"/>
<path d="M817.9,812.5 L825.1,810.7 L826.9,819.7 L819.7,821.5 L817.9,812.5Z"/>
<path d="M870.0,830.4 L877.1,828.6 L878.9,835.8 L871.7,837.6 L870.0,830.4Z"/>
<path d="M1221.7,774.8 L1226.5,779.4 L1229.4,785.2 L1232.5,791.0 L1235.4,796.6 L1237.0,802.6 L1237.8,808.9 L1244.3,809.5 L1250.4,807.1 L1247.5,813.3 L1245.0,819.7 L1240.4,823.3 L1237.8,828.6 L1232.5,835.8 L1237.2,839.1 L1240.7,843.9 L1246.0,846.4 L1250.4,850.2 L1256.7,851.8 L1262.0,855.8 L1268.3,857.3 L1263.2,860.9 L1261.2,867.1 L1256.0,870.6 L1252.2,875.3 L1250.0,879.9 L1249.5,885.2 L1246.8,889.6 L1245.4,894.6 L1244.3,899.6 L1241.4,904.0 L1241.2,910.1 L1239.8,916.1 L1237.8,921.9 L1234.9,928.1 L1232.5,934.5 L1230.2,940.3 L1229.8,946.7 L1227.1,952.4 L1219.9,947.0 L1214.1,948.2 L1208.4,946.9 L1202.7,945.4 L1196.9,946.6 L1191.2,945.2 L1185.8,945.4 L1180.4,945.3 L1175.1,942.9 L1169.7,943.4 L1162.5,945.1 L1155.3,947.0 L1153.0,954.0 L1148.2,959.6 L1145.6,965.3 L1141.3,969.6 L1137.3,974.3 L1133.8,979.3 L1130.7,983.6 L1128.4,988.3 L1129.0,993.8 L1128.1,999.2 L1125.7,1004.3 L1125.8,1009.8 L1124.8,1015.2 L1122.4,1020.3 L1119.4,1025.1 L1115.9,1029.5 L1111.6,1032.7 L1110.1,1038.0 L1106.3,1041.5 L1103.3,1045.7 L1102.9,1051.6 L1101.8,1057.4 L1099.5,1063.0 L1099.7,1069.0"/>
<path d="M1196.6,830.4 L1196.9,835.8 L1200.6,839.8 L1202.0,844.8 L1204.7,850.3 L1204.9,856.7 L1208.3,862.0 L1209.1,868.1 L1213.9,870.6 L1215.4,876.2 L1220.1,878.7 L1223.5,882.4 L1227.3,886.8 L1232.5,889.6 L1226.2,889.9 L1219.9,889.6 L1215.3,884.2 L1209.1,880.7 L1206.8,875.3 L1203.7,870.3 L1201.0,865.1 L1200.2,859.1 L1199.1,853.1 L1198.2,847.1 L1196.6,841.2 L1197.9,835.8 L1196.6,830.4Z"/>
<path d="M1230.7,834.0 L1235.3,829.3 L1241.4,826.8 L1247.3,829.6 L1253.5,831.2 L1259.4,834.0 L1266.5,834.9 L1273.7,835.8 L1280.4,837.5 L1286.3,841.2 L1290.5,847.1 L1293.5,853.7 L1288.1,857.3 L1282.7,852.8 L1277.3,848.4 L1271.6,845.8 L1265.1,847.2 L1259.4,844.8 L1253.4,843.6 L1247.6,841.4 L1241.4,841.2 L1236.9,836.4 L1230.7,834.0Z"/>
<path d="M1196.6,968.5 L1202.4,966.4 L1208.3,965.0 L1214.5,965.0 L1218.3,968.9 L1223.5,970.3 L1228.8,970.0 L1233.0,966.7 L1237.8,965.0 L1235.4,971.1 L1230.7,975.7 L1224.9,976.2 L1219.9,979.3 L1215.2,976.0 L1210.9,972.1 L1204.1,969.1 L1196.6,968.5Z"/>
<path d="M1191.2,1069.0 L1192.5,1063.7 L1194.0,1058.4 L1192.8,1052.7 L1194.8,1047.5 L1200.1,1044.6 L1203.8,1039.6 L1209.1,1036.7 L1212.5,1032.3 L1217.2,1029.1 L1219.9,1024.2 L1214.5,1027.7 L1209.2,1029.0 L1205.1,1033.1 L1200.1,1035.3 L1194.8,1036.7 L1189.3,1035.8 L1184.0,1034.3 L1178.7,1033.1 L1178.9,1027.1 L1178.7,1021.0 L1180.4,1015.2 L1178.8,1009.9 L1179.4,1004.3 L1179.0,998.8 L1176.9,993.7 L1171.5,995.1 L1166.1,993.7 L1164.1,999.0 L1161.7,1004.2 L1162.1,1010.3 L1158.9,1015.2 L1157.5,1020.5 L1159.4,1026.0 L1157.5,1031.3 L1157.3,1036.7 L1157.1,1042.1 L1159.3,1047.6 L1162.7,1052.6 L1164.9,1058.1 L1166.9,1063.7 L1169.7,1069.0"/>
<path d="M1097.9,880.7 L1102.6,876.9 L1107.8,873.9 L1112.3,869.9 L1117.7,870.6 L1123.0,871.7 L1124.6,877.0 L1127.2,882.1 L1126.7,887.9 L1128.4,893.2 L1125.5,898.0 L1123.2,903.2 L1119.5,907.6 L1115.8,903.9 L1111.6,900.9 L1106.9,898.6 L1104.5,894.2 L1101.5,890.1 L1100.1,885.2 L1097.9,880.7Z"/>
<path d="M1144.6,844.8 L1145.2,839.0 L1147.0,833.6 L1149.7,828.6 L1151.7,823.3 L1160.7,821.5 L1161.1,828.8 L1158.9,835.8 L1155.5,840.1 L1151.7,844.2 L1148.2,848.4 L1144.6,844.8Z"/>
<path d="M1227.1,909.4 L1234.3,907.6 L1236.1,916.5 L1228.9,918.3 L1227.1,909.4Z"/>
<path d="M1227.1,993.7 L1232.7,993.1 L1237.8,995.5 L1239.6,1002.6 L1230.7,1002.6 L1227.1,993.7Z"/>
<path d="M1214.5,1013.4 L1223.5,1009.8 L1225.8,1014.5 L1228.9,1018.8 L1219.9,1020.6 L1214.5,1013.4Z"/>
<path d="M1598.6,774.8 L1600.3,779.8 L1598.5,784.9 L1598.8,790.0 L1600.0,794.9 L1600.4,799.9 L1603.2,805.0 L1603.2,810.7 L1605.0,816.0 L1604.7,821.8 L1607.5,826.8 L1609.4,832.1 L1607.8,837.8 L1608.1,843.2 L1609.7,848.5 L1611.1,853.7 L1610.7,859.8 L1613.3,865.6 L1612.9,871.7 L1620.1,877.1 L1619.5,883.6 L1621.9,889.6 L1620.7,895.6 L1618.1,901.3 L1618.3,907.6 L1614.5,911.4 L1613.8,917.1 L1609.4,920.5 L1607.5,925.5 L1602.0,927.3 L1598.7,932.7 L1593.2,934.5 L1587.3,936.7 L1581.0,937.3 L1575.2,939.8 L1574.5,946.4 L1571.7,952.4 L1567.1,956.1 L1565.0,961.8 L1560.1,965.2 L1557.3,970.3 L1553.8,974.3 L1548.9,976.3 L1544.8,979.3 L1541.3,983.2 L1541.1,988.7 L1538.7,993.1 L1535.8,997.2 L1534.0,1003.2 L1532.8,1009.4 L1530.4,1015.2 L1528.5,1020.5 L1525.0,1024.7 L1521.9,1029.3 L1517.8,1033.1 L1513.2,1036.7 L1510.2,1041.7 L1506.1,1045.8 L1503.5,1051.1 L1502.2,1056.0 L1498.2,1059.6 L1497.9,1065.1 L1494.5,1069.0"/>
<path d="M1625.5,877.1 L1627.4,870.8 L1629.1,864.5 L1632.6,862.7 L1630.4,868.9 L1629.1,875.3 L1625.5,877.1Z"/>
<path d="M1455.1,853.7 L1456.7,859.6 L1456.3,865.9 L1458.7,871.7 L1454.0,877.0 L1449.7,882.4 L1453.1,888.0 L1456.9,893.2 L1462.2,889.6"/>
<path d="M1413.8,966.8 L1422.8,968.5 L1426.3,974.7 L1431.7,979.3 L1431.2,986.8 L1428.2,993.7 L1419.2,993.7 L1417.9,987.6 L1413.8,982.9 L1414.2,977.5 L1413.5,972.1 L1413.8,966.8Z"/>
<path d="M1369.0,1069.0 L1369.6,1063.9 L1367.5,1059.0 L1369.5,1053.8 L1367.8,1048.9 L1367.2,1043.9 L1368.9,1039.0 L1372.2,1034.9 L1373.5,1029.8 L1374.8,1024.8 L1377.9,1020.6 L1384.2,1018.9 L1389.4,1014.4 L1395.9,1013.4 L1401.3,1018.8 L1396.3,1022.9 L1393.5,1028.9 L1388.7,1033.1 L1394.1,1033.0 L1399.6,1033.5 L1404.8,1031.3 L1410.9,1030.4 L1416.9,1029.4 L1422.8,1027.7 L1426.3,1031.6 L1430.1,1035.2 L1431.7,1040.3 L1437.0,1041.7 L1440.7,1045.7 L1440.5,1051.8 L1437.7,1057.3 L1436.9,1063.2 L1435.3,1069.0"/>
<path d="M1521.4,1069.0 L1522.6,1063.6 L1524.8,1058.5 L1523.5,1052.6 L1524.9,1047.3 L1526.8,1042.1 L1522.1,1044.4 L1517.8,1047.5"/>
<path d="M595.3,1054.8 L599.3,1058.9 L601.9,1063.6 L603.5,1069.0 L606.8,1073.4 L608.7,1078.5 L611.7,1083.1 L613.2,1088.4 L615.8,1093.2 L618.7,1097.9 L622.6,1101.8 L624.6,1107.1 L628.1,1111.3 L632.2,1115.1 L633.2,1121.1 L638.2,1124.3 L641.5,1128.6 L643.8,1133.7"/>
<path d="M1047.5,1153.5 L1051.1,1144.5 L1058.1,1142.3 L1065.5,1142.7 L1067.8,1149.2 L1070.9,1155.3 L1071.5,1162.7 L1074.4,1169.6 L1072.4,1175.4 L1072.4,1181.6 L1070.9,1187.6 L1065.1,1188.3 L1059.4,1189.1 L1053.6,1187.1 L1047.9,1187.4 L1042.2,1187.6 L1036.1,1186.8 L1030.3,1184.7 L1024.2,1184.0 L1015.2,1187.6 L1014.2,1193.6 L1011.5,1199.2 L1011.7,1205.5 L1010.3,1211.4 L1011.3,1217.5 L1009.9,1223.4 L1016.7,1226.5 L1024.2,1227.0 L1031.4,1232.4 L1037.4,1233.8 L1042.2,1237.8 L1048.2,1236.7 L1054.1,1235.1 L1060.1,1234.2 L1066.0,1229.9 L1072.6,1227.0 L1079.5,1223.9 L1087.0,1223.4"/>
<path d="M1087.0,1234.2 L1081.4,1234.4 L1076.5,1237.9 L1070.8,1237.3 L1065.2,1237.1 L1060.1,1239.6 L1055.0,1239.8 L1050.1,1238.7 L1045.4,1236.5 L1040.4,1236.0 L1031.4,1234.2 L1027.8,1237.8 L1024.2,1241.4 L1018.1,1243.3 L1011.9,1245.2 L1006.3,1248.5 L1002.4,1252.9 L997.3,1255.7 L993.1,1258.9 L988.3,1261.1 L982.5,1262.9 L976.7,1264.9 L970.4,1264.7 L964.1,1265.3 L958.2,1267.4 L952.5,1270.1 L945.8,1273.1 L939.9,1277.2 L934.3,1281.4 L927.4,1282.6 L929.1,1291.6 L924.7,1295.4 L922.0,1300.6 L923.8,1307.7 L928.3,1311.1 L933.7,1313.0 L938.2,1316.5 L943.5,1318.5 L948.1,1320.6 L952.9,1322.2 L957.5,1324.1 L961.4,1327.5 L967.0,1328.1 L972.6,1328.9 L977.7,1331.3 L982.8,1334.0 L988.3,1334.6 L993.6,1336.3 L998.9,1337.9 L1004.4,1338.5 L1010.0,1338.2 L1015.2,1340.0 L1020.3,1341.5 L1025.5,1342.4 L1030.4,1344.8 L1035.7,1345.2 L1041.1,1345.7 L1045.9,1348.2 L1051.1,1349.0"/>
<path d="M1043.9,1103.3 L1045.9,1097.5 L1043.9,1091.5 L1046.5,1085.9 L1045.7,1079.9 L1051.1,1072.8 L1058.7,1073.1 L1065.5,1076.3 L1067.1,1081.6 L1068.1,1087.0 L1067.4,1092.6 L1069.1,1097.9 L1065.3,1103.3 L1063.5,1109.5 L1061.9,1115.8 L1059.7,1120.6 L1055.5,1124.2 L1054.3,1129.5 L1051.1,1133.7 L1045.7,1140.9 L1050.7,1142.9 L1054.7,1146.3"/>
<path d="M1018.8,1124.8 L1021.9,1120.3 L1022.8,1115.1 L1024.8,1110.2 L1026.0,1105.0 L1031.2,1107.9 L1036.1,1111.2 L1042.2,1112.2 L1040.5,1118.5 L1038.6,1124.8 L1031.3,1124.6 L1024.2,1126.6 L1018.8,1124.8Z"/>
<path d="M938.1,1255.7 L943.5,1254.8 L945.3,1257.5 L938.1,1255.7Z"/>
<path d="M957.8,1259.3 L965.0,1257.5 L963.2,1261.1 L957.8,1259.3Z"/>
<path d="M1162.5,1167.8 L1169.7,1164.2 L1174.8,1167.5 L1180.4,1169.6 L1183.2,1174.0 L1187.6,1176.8 L1193.6,1177.8 L1199.4,1179.9 L1205.6,1180.4 L1210.8,1183.3 L1216.3,1185.8 L1214.5,1191.1 L1208.3,1191.8 L1202.0,1191.1 L1204.7,1197.2 L1205.6,1203.7 L1200.8,1208.8 L1196.6,1214.5 L1190.5,1216.7 L1184.0,1216.3 L1175.1,1212.7 L1182.0,1210.2 L1187.6,1205.5 L1196.6,1201.9 L1193.7,1197.5 L1191.6,1192.9 L1191.2,1187.6 L1183.7,1187.0 L1176.9,1184.0 L1172.2,1179.2 L1166.1,1176.8 L1162.5,1167.8Z"/>
<path d="M1141.0,1192.9 L1148.2,1187.6 L1150.4,1193.4 L1152.8,1199.2 L1153.5,1205.5 L1151.0,1210.2 L1146.4,1212.7 L1141.0,1205.5 L1139.5,1199.2 L1141.0,1192.9Z"/>
<path d="M1072.8,1210.9 L1078.1,1209.7 L1083.0,1207.7 L1088.1,1206.1 L1093.2,1204.4 L1097.9,1201.9 L1101.4,1195.6 L1106.9,1191.1 L1112.9,1190.2 L1118.8,1188.3 L1124.8,1187.6 L1129.8,1186.2 L1134.3,1184.0 L1138.9,1182.0 L1142.8,1178.6 L1151.7,1176.8 L1156.2,1171.2 L1162.5,1167.8"/>
<path d="M1216.3,1185.8 L1221.3,1188.7 L1227.1,1189.4 L1231.3,1192.9 L1236.0,1195.4 L1241.4,1196.5 L1250.4,1194.7 L1253.9,1188.5 L1259.4,1184.0 L1254.4,1182.1 L1250.4,1178.6 L1245.0,1173.2 L1249.4,1170.3 L1254.1,1168.2 L1259.4,1167.8 L1268.3,1169.6 L1272.1,1174.1 L1277.3,1176.8 L1286.3,1180.4 L1291.7,1173.2 L1298.2,1172.4 L1304.2,1169.6 L1310.3,1168.2 L1316.5,1167.0 L1322.2,1164.2 L1326.9,1160.1 L1331.1,1155.3 L1334.9,1151.7 L1338.7,1148.3 L1343.7,1146.3 L1347.5,1151.1 L1349.1,1157.1 L1348.2,1163.6 L1350.0,1170.2 L1349.1,1176.8 L1345.0,1182.5 L1340.1,1187.6 L1335.7,1190.5 L1331.9,1194.3 L1327.0,1196.3 L1322.2,1198.3 L1318.0,1201.3 L1312.9,1202.5 L1308.9,1205.9 L1304.5,1208.4 L1299.0,1209.0 L1295.2,1212.7 L1290.1,1213.4 L1284.8,1213.1 L1279.8,1214.6 L1275.0,1217.2 L1269.7,1216.8 L1264.5,1217.5 L1259.4,1218.1 L1252.8,1219.9 L1246.8,1223.4 L1245.5,1228.4 L1242.6,1232.8 L1241.4,1237.8 L1235.4,1238.9 L1229.7,1241.1 L1223.5,1241.4 L1217.5,1240.2 L1211.5,1242.7 L1205.6,1241.4 L1199.8,1239.2 L1193.4,1240.0 L1187.6,1237.8 L1181.9,1239.8 L1176.0,1239.6 L1170.1,1238.3 L1164.3,1239.6 L1164.0,1232.9 L1160.7,1227.0 L1155.2,1224.7 L1151.7,1219.8 L1145.8,1221.1 L1139.8,1222.3 L1133.8,1223.4 L1128.3,1223.2 L1123.2,1225.9 L1117.7,1225.6 L1112.4,1226.8 L1106.9,1227.0 L1101.1,1226.9 L1095.7,1229.6 L1089.6,1228.3 L1084.3,1231.3 L1078.6,1232.4 L1072.8,1232.4"/>
<path d="M1271.9,1148.1 L1271.7,1140.8 L1270.1,1133.7 L1272.5,1127.8 L1273.8,1121.3 L1277.3,1115.8 L1282.1,1111.6 L1286.3,1106.8 L1295.2,1110.4 L1298.9,1105.8 L1304.2,1103.3 L1308.0,1099.6 L1310.7,1095.3 L1313.2,1090.7 L1316.7,1084.8 L1318.6,1078.1 L1318.2,1084.7 L1319.0,1091.3 L1318.6,1097.9 L1315.2,1101.7 L1311.6,1105.3 L1306.9,1107.8 L1304.2,1112.2 L1302.3,1117.2 L1297.2,1119.9 L1295.2,1124.8 L1293.5,1129.8 L1290.0,1133.7 L1286.3,1137.3 L1283.9,1142.0 L1279.3,1145.0 L1277.3,1149.9"/>
<path d="M1313.2,1097.9 L1319.2,1096.7 L1325.1,1095.1 L1331.1,1094.3 L1337.2,1094.9 L1343.0,1092.2 L1349.1,1092.5 L1352.7,1096.9 L1356.2,1101.5 L1352.6,1105.9 L1349.1,1110.4 L1344.2,1112.4 L1339.7,1115.1 L1335.4,1118.1 L1331.1,1121.2 L1326.9,1123.9 L1322.4,1126.2 L1318.2,1128.9 L1313.2,1130.2 L1308.0,1132.9 L1303.9,1136.9 L1299.2,1140.3 L1295.2,1144.5 L1291.3,1148.1 L1286.4,1150.1 L1281.3,1151.8 L1277.3,1155.3"/>
<path d="M1097.9,1212.7 L1105.1,1210.9 L1106.9,1216.3 L1099.7,1216.3 L1097.9,1212.7Z"/>
<path d="M1261.2,1198.3 L1266.2,1197.2 L1270.7,1194.5 L1275.9,1194.2 L1280.9,1192.9 L1282.7,1198.3 L1277.5,1198.0 L1273.0,1200.9 L1268.1,1202.0 L1263.0,1201.9 L1261.2,1198.3Z"/>
<path d="M1202.0,1309.5 L1208.5,1308.3 L1215.2,1309.0 L1221.7,1307.7 L1219.9,1313.1 L1214.5,1312.0 L1209.1,1314.2 L1203.8,1313.1 L1202.0,1309.5Z"/>
<path d="M1338.3,1191.1 L1344.2,1191.1 L1349.9,1192.5 L1355.6,1193.8 L1361.2,1195.5 L1367.0,1196.5"/>
<path d="M1352.8,1187.6 L1358.4,1186.2 L1364.2,1186.4 L1369.8,1185.7 L1375.6,1187.9 L1381.3,1186.8 L1386.9,1185.8 L1392.8,1183.9 L1399.0,1186.0 L1404.8,1184.0 L1413.8,1187.6 L1418.8,1184.6 L1424.5,1183.6 L1430.4,1183.6 L1435.6,1181.3 L1440.7,1178.6 L1446.9,1180.2 L1453.3,1180.4 L1456.7,1175.8 L1459.7,1170.8 L1464.4,1167.2 L1467.6,1162.4 L1470.2,1157.0 L1474.1,1152.5 L1478.1,1148.2 L1480.8,1142.9 L1485.6,1139.1 L1488.9,1134.3 L1493.5,1130.4 L1496.8,1125.5 L1499.9,1120.5 L1503.5,1115.8 L1506.3,1110.9 L1508.2,1105.6 L1509.6,1100.1 L1513.4,1095.6 L1515.2,1090.3 L1517.8,1085.3 L1519.8,1080.4 L1521.5,1075.5 L1521.2,1070.0 L1522.9,1065.0 L1524.6,1060.1 L1525.0,1054.8"/>
<path d="M1352.8,1196.5 L1358.6,1196.6 L1364.4,1196.4 L1370.0,1198.3 L1375.7,1199.2 L1381.5,1198.3 L1386.2,1200.5 L1391.2,1201.6 L1396.0,1203.4 L1401.3,1203.7 L1406.8,1202.9 L1412.1,1201.5 L1417.4,1199.5 L1422.8,1198.3 L1427.0,1195.4 L1431.9,1193.9 L1435.6,1190.0 L1440.6,1188.5 L1445.6,1187.2 L1449.7,1184.0 L1454.4,1180.9 L1458.6,1177.1 L1462.1,1172.6 L1466.7,1169.4 L1471.2,1166.0 L1474.7,1161.3 L1478.7,1156.9 L1481.7,1151.9 L1486.0,1147.7 L1489.1,1142.7 L1494.8,1139.6 L1498.0,1133.6 L1503.5,1130.2 L1507.1,1128.4 L1503.5,1133.0 L1500.1,1137.8 L1498.0,1143.4 L1494.5,1148.1 L1491.0,1152.4 L1486.2,1155.7 L1484.9,1162.0 L1480.1,1165.2 L1476.6,1169.6"/>
<path d="M1440.7,1108.6 L1442.8,1103.3 L1447.5,1099.5 L1449.7,1094.3 L1456.1,1093.8 L1461.7,1090.8 L1467.6,1088.9 L1471.4,1084.7 L1476.7,1082.8 L1481.2,1079.6 L1485.6,1076.3 L1488.9,1071.3 L1491.0,1065.6 L1494.0,1060.4 L1496.3,1054.8"/>
<path d="M1352.8,1063.8 L1357.8,1065.3 L1363.0,1064.8 L1368.1,1064.9 L1373.0,1067.0 L1378.3,1065.1 L1383.3,1067.1 L1388.4,1066.6 L1393.4,1068.2 L1398.7,1066.6 L1403.5,1069.8 L1408.8,1068.3 L1413.8,1069.2 L1417.4,1064.5 L1422.3,1061.4 L1427.1,1058.2 L1431.7,1054.8"/>
<path d="M876.1,714.6 L877.3,708.4 L881.1,703.5 L883.7,698.1 L886.5,692.7 L891.1,696.1 L895.8,692.8 L899.3,688.1 L903.8,684.6 L909.1,679.4 L915.3,675.4"/>
<path d="M920.0,686.9 L916.6,693.2 L911.9,698.4 L908.3,703.3 L906.1,708.8 L911.7,705.9 L915.3,700.8 L924.6,697.3 L926.8,703.1 L929.2,708.8 L924.6,716.9 L927.7,722.3 L929.2,728.4 L926.0,735.0 L924.6,742.3 L918.1,740.3 L911.9,737.7 L903.8,733.0 L899.1,737.3 L893.4,740.0 L888.8,748.0 L884.9,742.2 L883.1,735.3 L884.2,728.4 L882.3,723.4 L879.7,718.7 L876.1,714.6"/>
<path d="M926.9,683.5 L932.7,683.3 L938.4,682.3 L942.7,686.5 L946.7,690.9 L951.1,695.0 L952.2,703.1 L950.7,708.6 L947.6,713.4 L939.6,716.9 L933.8,711.1 L932.8,705.9 L929.2,701.9 L928.0,695.8 L928.1,689.6 L926.9,683.5Z"/>
<path d="M865.8,759.6 L870.5,757.7 L874.8,755.0 L878.4,751.5 L887.7,753.8 L885.4,763.0 L894.6,760.7 L900.4,764.1 L906.1,767.6 L900.4,774.6 L894.8,777.5 L888.8,779.0 L883.1,781.5 L879.0,784.9 L873.4,785.1 L869.4,788.8 L864.6,790.7"/>
<path d="M903.8,753.8 L909.1,751.2 L913.0,746.9 L922.3,749.2 L926.9,756.1 L924.6,763.0 L920.3,766.0 L915.3,767.6 L910.6,765.7 L906.1,763.0 L903.8,753.8Z"/>
<path d="M940.7,723.8 L945.0,720.8 L949.9,719.2 L955.2,715.5 L960.2,711.4 L966.1,708.8 L969.5,714.6 L973.0,719.9 L972.7,726.3 L975.3,731.9 L974.8,738.4 L973.0,744.6 L963.8,744.6 L960.2,740.4 L958.0,735.3 L952.6,734.2 L947.6,731.9 L944.1,727.9 L940.7,723.8Z"/>
<path d="M911.9,769.9 L917.1,769.1 L922.3,768.8 L924.2,773.6 L926.9,778.0 L923.4,783.8 L915.3,781.5 L914.1,775.6 L911.9,769.9Z"/>
<path d="M933.8,767.6 L940.7,765.3 L943.0,772.2 L936.1,774.6 L933.8,767.6Z"/>
<path d="M955.7,751.5 L960.5,748.8 L966.3,748.1 L970.7,744.6 L974.5,750.0 L979.9,753.8 L978.9,760.1 L975.3,765.3 L968.9,769.1 L963.8,774.6 L956.9,772.2 L959.3,766.7 L959.2,760.7 L955.7,751.5Z"/>
<path d="M929.2,781.5 L935.3,782.4 L941.5,780.3 L947.6,781.5 L952.9,783.3 L958.3,783.4 L963.8,783.8 L970.7,778.0 L976.0,776.1 L981.3,775.7 L986.8,776.9 L990.6,781.5 L996.1,783.8 L1000.4,788.0 L1005.8,790.9 L1009.9,795.3 L1014.5,800.4 L1016.8,806.8 L1016.8,812.8 L1014.5,818.4 L1018.7,823.1 L1021.4,828.8 L1027.2,829.9 L1033.0,828.8 L1038.8,828.5 L1044.5,829.9"/>
<path d="M929.2,781.5 L929.1,788.6 L931.5,795.3 L932.9,801.4 L936.1,806.8 L943.0,806.8 L944.3,800.7 L947.6,795.3 L948.8,800.5 L951.9,804.7 L954.6,809.1 L959.2,812.3 L964.3,814.2 L969.5,816.1 L974.5,821.7 L981.1,825.3 L987.2,823.8 L992.6,820.7 L998.4,824.1 L1004.4,823.4 L1009.9,820.7"/>
<path d="M855.4,812.6 L862.1,809.9 L869.2,809.1 L875.0,813.8 L881.1,810.8 L886.5,806.8 L888.5,801.1 L891.1,795.6 L892.3,789.5 L900.4,783.8 L906.2,784.7 L911.9,786.1 L915.6,791.6 L921.1,795.3 L922.7,801.1 L924.6,806.8 L923.0,812.9 L920.0,818.4 L918.4,824.5 L915.3,829.9 L914.1,835.0 L910.7,839.1 L908.5,844.3 L906.1,849.5 L903.4,855.4 L898.5,859.6 L894.6,864.5"/>
<path d="M855.4,843.7 L861.1,844.2 L866.2,846.8 L871.5,848.4 L877.3,844.9 L883.1,841.4 L885.5,835.7 L887.7,829.9 L891.1,824.6 L892.3,818.4"/>
<path d="M863.5,793.0 L867.7,789.3 L873.7,789.4 L878.1,786.0 L883.1,783.8 L888.1,783.6 L893.1,783.5 L898.1,782.6"/>
<path d="M955.7,824.1 L963.8,818.4 L965.7,823.6 L969.5,827.6 L967.0,834.7 L963.8,841.4 L961.1,847.3 L958.0,853.0 L954.9,858.3 L954.6,864.5"/>
<path d="M903.8,795.3 L911.9,793.0 L920.0,797.6"/>
<path d="M868.1,829.9 L877.3,827.6 L880.8,834.5 L871.5,836.8 L868.1,829.9Z"/></g>
</g><!--endmap-->
<!-- colorbar -->
<rect x="1692.5" y="488.5" width="26" height="586" fill="url(#cbg)" stroke="#999" stroke-width="2"/>
<g stroke="#222" stroke-width="1.5"><line x1="1693" y1="547.6" x2="1697" y2="547.6"/><line x1="1714" y1="547.6" x2="1718" y2="547.6"/><line x1="1693" y1="606.2" x2="1697" y2="606.2"/><line x1="1714" y1="606.2" x2="1718" y2="606.2"/><line x1="1693" y1="664.8" x2="1697" y2="664.8"/><line x1="1714" y1="664.8" x2="1718" y2="664.8"/><line x1="1693" y1="723.4" x2="1697" y2="723.4"/><line x1="1714" y1="723.4" x2="1718" y2="723.4"/><line x1="1693" y1="782.0" x2="1697" y2="782.0"/><line x1="1714" y1="782.0" x2="1718" y2="782.0"/><line x1="1693" y1="840.6" x2="1697" y2="840.6"/><line x1="1714" y1="840.6" x2="1718" y2="840.6"/><line x1="1693" y1="899.2" x2="1697" y2="899.2"/><line x1="1714" y1="899.2" x2="1718" y2="899.2"/><line x1="1693" y1="957.8" x2="1697" y2="957.8"/><line x1="1714" y1="957.8" x2="1718" y2="957.8"/><line x1="1693" y1="1016.4" x2="1697" y2="1016.4"/><line x1="1714" y1="1016.4" x2="1718" y2="1016.4"/></g>
<!-- legend -->
<rect x="319.5" y="1344.5" width="303" height="91" fill="none" stroke="#a05050" stroke-width="1.6"/>
<g fill="#6b0000">
<rect x="327" y="1411.2" width="289" height="1.6"/>
<rect x="384" y="1408" width="173.5" height="8.5"/>
<rect x="442" y="1404" width="59" height="17"/>
<polygon points="351,1406 361,1412 351,1419"/>
<polygon points="581,1406 593,1412 581,1419"/>
<polygon points="409,1403.5 421,1409 409,1421"/>
<polygon points="525,1403.5 537,1409 525,1421"/>
<polygon points="463,1396 480,1404 480,1421 463,1429"/>
</g>
<g font-family="Liberation Sans" font-weight="bold">
<text x="479.60" y="199.70" font-size="58.43" fill="#000" transform="matrix(1 0 0 1.039 0 -7.788)">EPV_, 800 K (~10 hPa), 2025-11-27T00, Thu.</text>
<text x="1738.35" y="500.00" font-size="33.6" fill="#000" transform="matrix(1 0 0 1.03 0 -15.000)">0.0010</text>
<text x="1738.35" y="558.60" font-size="33.6" fill="#000" transform="matrix(1 0 0 1.03 0 -16.758)">0.00091</text>
<text x="1738.35" y="617.20" font-size="33.6" fill="#000" transform="matrix(1 0 0 1.03 0 -18.516)">0.00080</text>
<text x="1738.35" y="675.80" font-size="33.6" fill="#000" transform="matrix(1 0 0 1.03 0 -20.274)">0.00070</text>
<text x="1738.35" y="734.40" font-size="33.6" fill="#000" transform="matrix(1 0 0 1.03 0 -22.032)">0.00059</text>
<text x="1738.35" y="793.00" font-size="33.6" fill="#000" transform="matrix(1 0 0 1.03 0 -23.790)">0.00049</text>
<text x="1738.35" y="851.60" font-size="33.6" fill="#000" transform="matrix(1 0 0 1.03 0 -25.548)">0.00039</text>
<text x="1738.35" y="910.20" font-size="33.6" fill="#000" transform="matrix(1 0 0 1.03 0 -27.306)">0.00028</text>
<text x="1738.35" y="968.80" font-size="33.6" fill="#000" transform="matrix(1 0 0 1.03 0 -29.064)">0.00018</text>
<text x="1738.35" y="1027.40" font-size="33.6" fill="#000" transform="matrix(1 0 0 1.03 0 -30.822)">7.4e-05</text>
<text x="1738.35" y="1086.00" font-size="33.6" fill="#000" transform="matrix(1 0 0 1.03 0 -32.580)">-3.0e-05</text>
<text x="1687.70" y="1398.30" font-size="46.8" fill="#000" transform="matrix(1 0 0 1.015 0 -20.974)">FH60</text>
<text x="129.80" y="1482.90" font-size="23.37" fill="#000" transform="matrix(1 0 0 1.05 0 -74.145)">Tue Nov 25 09:23:00 2025</text>
<text x="1515.90" y="1482.40" font-size="23.35" fill="#000" transform="matrix(1 0 0 1.05 0 -74.120)">Paul A. Newman &amp; Leslie R. Lait (NASA/GSFC)</text>
<text x="453.20" y="1367.00" font-size="20.5" fill="#000" transform="matrix(1 0 0 1.0 0 0.000)">m/s</text>
<text x="355.90" y="1388.50" font-size="20.3" fill="#6b0000" transform="matrix(1 0 0 1.0 0 0.000)">5</text>
<text x="404.40" y="1388.50" font-size="20.3" fill="#6b0000" transform="matrix(1 0 0 1.0 0 0.000)">55</text>
<text x="453.50" y="1388.50" font-size="20.3" fill="#6b0000" transform="matrix(1 0 0 1.0 0 0.000)">105</text>
<text x="520.40" y="1388.50" font-size="20.3" fill="#6b0000" transform="matrix(1 0 0 1.0 0 0.000)">55</text>
<text x="586.40" y="1388.50" font-size="20.3" fill="#6b0000" transform="matrix(1 0 0 1.0 0 0.000)">5</text>
</g>
</svg>
</body></html>
